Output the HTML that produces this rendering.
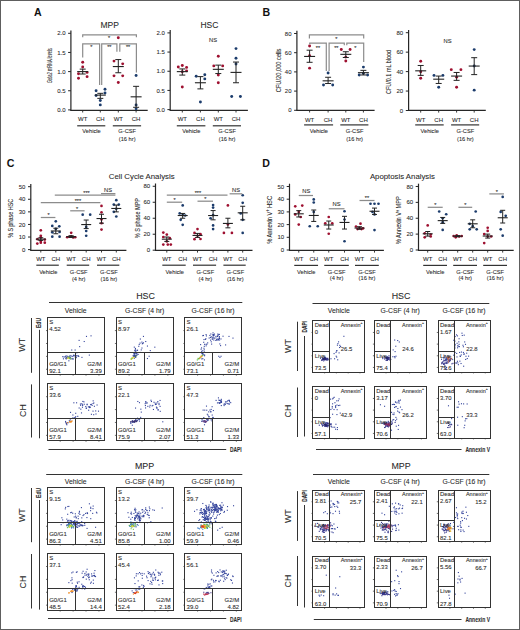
<!DOCTYPE html>
<html><head><meta charset="utf-8"><style>
html,body{margin:0;padding:0;background:#fff;}
body{width:520px;height:630px;overflow:hidden;}
svg{display:block;font-family:"Liberation Sans",sans-serif;}
text:not([fill]){fill:#2a2a2a;stroke:#2a2a2a;stroke-width:0.08px;}
</style></head><body>
<svg width="520" height="630" viewBox="0 0 520 630">
<rect x="0" y="0" width="520" height="630" fill="#fff"/>
<text x="34" y="15.5" font-size="10.6" text-anchor="start" font-weight="bold" fill="#111" >A</text>
<text x="109.7" y="27.9" font-size="8.5" text-anchor="middle" >MPP</text>
<text x="209.4" y="27.9" font-size="8.5" text-anchor="middle" >HSC</text>
<line x1="70.9" y1="30.5" x2="70.9" y2="110.8" stroke="#262626" stroke-width="1.2"/>
<line x1="70.4" y1="110.3" x2="147.7" y2="110.3" stroke="#262626" stroke-width="1.2"/>
<line x1="68.1" y1="109.9" x2="70.9" y2="109.9" stroke="#262626" stroke-width="1.0"/>
<text x="65.5" y="112" font-size="6" text-anchor="end" >0.0</text>
<line x1="68.1" y1="90.75" x2="70.9" y2="90.75" stroke="#262626" stroke-width="1.0"/>
<text x="65.5" y="92.85" font-size="6" text-anchor="end" >0.5</text>
<line x1="68.1" y1="71.6" x2="70.9" y2="71.6" stroke="#262626" stroke-width="1.0"/>
<text x="65.5" y="73.7" font-size="6" text-anchor="end" >1.0</text>
<line x1="68.1" y1="52.45" x2="70.9" y2="52.45" stroke="#262626" stroke-width="1.0"/>
<text x="65.5" y="54.55" font-size="6" text-anchor="end" >1.5</text>
<line x1="68.1" y1="33.3" x2="70.9" y2="33.3" stroke="#262626" stroke-width="1.0"/>
<text x="65.5" y="35.4" font-size="6" text-anchor="end" >2.0</text>
<line x1="82.7" y1="110.3" x2="82.7" y2="112.5" stroke="#262626" stroke-width="0.9"/>
<line x1="100.3" y1="110.3" x2="100.3" y2="112.5" stroke="#262626" stroke-width="0.9"/>
<line x1="118.3" y1="110.3" x2="118.3" y2="112.5" stroke="#262626" stroke-width="0.9"/>
<line x1="136.1" y1="110.3" x2="136.1" y2="112.5" stroke="#262626" stroke-width="0.9"/>
<circle cx="82.7" cy="62.29" r="1.45" fill="#9e1030"/>
<circle cx="82.7" cy="66.94" r="1.45" fill="#9e1030"/>
<circle cx="78.5" cy="73.73" r="1.45" fill="#9e1030"/>
<circle cx="87.1" cy="72.38" r="1.45" fill="#9e1030"/>
<circle cx="78.5" cy="78.2" r="1.45" fill="#9e1030"/>
<circle cx="87.1" cy="76.64" r="1.45" fill="#9e1030"/>
<line x1="77.2" y1="71.6" x2="88.2" y2="71.6" stroke="#222" stroke-width="1.1"/>
<line x1="82.7" y1="69.12" x2="82.7" y2="74.01" stroke="#222" stroke-width="1.0"/>
<line x1="79.7" y1="69.12" x2="85.7" y2="69.12" stroke="#222" stroke-width="1.0"/>
<line x1="79.7" y1="74.01" x2="85.7" y2="74.01" stroke="#222" stroke-width="1.0"/>
<circle cx="96.1" cy="90.69" r="1.45" fill="#1c3c6c"/>
<circle cx="105" cy="89.22" r="1.45" fill="#1c3c6c"/>
<circle cx="105" cy="93.02" r="1.45" fill="#1c3c6c"/>
<circle cx="96.1" cy="95.5" r="1.45" fill="#1c3c6c"/>
<circle cx="100.3" cy="100.51" r="1.45" fill="#1c3c6c"/>
<circle cx="100.3" cy="104.89" r="1.45" fill="#1c3c6c"/>
<line x1="94.8" y1="95.11" x2="105.8" y2="95.11" stroke="#222" stroke-width="1.1"/>
<line x1="100.3" y1="93.33" x2="100.3" y2="98.37" stroke="#222" stroke-width="1.0"/>
<line x1="97.3" y1="93.33" x2="103.3" y2="93.33" stroke="#222" stroke-width="1.0"/>
<line x1="97.3" y1="98.37" x2="103.3" y2="98.37" stroke="#222" stroke-width="1.0"/>
<circle cx="118.3" cy="37.69" r="1.45" fill="#9e1030"/>
<circle cx="114" cy="61.12" r="1.45" fill="#9e1030"/>
<circle cx="122.7" cy="63.84" r="1.45" fill="#9e1030"/>
<circle cx="114" cy="75.87" r="1.45" fill="#9e1030"/>
<circle cx="122.7" cy="75.87" r="1.45" fill="#9e1030"/>
<circle cx="118.3" cy="82.46" r="1.45" fill="#9e1030"/>
<line x1="112.8" y1="66.56" x2="123.8" y2="66.56" stroke="#222" stroke-width="1.1"/>
<line x1="118.3" y1="59.57" x2="118.3" y2="72.76" stroke="#222" stroke-width="1.0"/>
<line x1="115.3" y1="59.57" x2="121.3" y2="59.57" stroke="#222" stroke-width="1.0"/>
<line x1="115.3" y1="72.76" x2="121.3" y2="72.76" stroke="#222" stroke-width="1.0"/>
<circle cx="136.1" cy="75.48" r="1.45" fill="#1c3c6c"/>
<circle cx="136.1" cy="104.97" r="1.45" fill="#1c3c6c"/>
<circle cx="136.1" cy="108.85" r="1.45" fill="#1c3c6c"/>
<line x1="130.6" y1="96.82" x2="141.6" y2="96.82" stroke="#222" stroke-width="1.1"/>
<line x1="136.1" y1="86.34" x2="136.1" y2="107.3" stroke="#222" stroke-width="1.0"/>
<line x1="133.1" y1="86.34" x2="139.1" y2="86.34" stroke="#222" stroke-width="1.0"/>
<line x1="133.1" y1="107.3" x2="139.1" y2="107.3" stroke="#222" stroke-width="1.0"/>
<polyline points="82.7,37.3 82.7,34.8 136.4,34.8 136.4,37.3" fill="none" stroke="#8c8c8c" stroke-width="1.2"/>
<text x="109" y="40.4" font-size="5.5" text-anchor="middle" >*</text>
<polyline points="82.7,57.5 82.7,43.8 99.6,43.8 99.6,84.9" fill="none" stroke="#8c8c8c" stroke-width="1.2"/>
<text x="91.4" y="48.9" font-size="5.5" text-anchor="middle" >*</text>
<polyline points="101.7,84.9 101.7,43.8 116.9,43.8 116.9,51.7" fill="none" stroke="#8c8c8c" stroke-width="1.2"/>
<text x="109.3" y="48.9" font-size="5.5" text-anchor="middle" >**</text>
<polyline points="119.8,51.7 119.8,43.8 136.4,43.8 136.4,72.6" fill="none" stroke="#8c8c8c" stroke-width="1.2"/>
<text x="128.1" y="48.9" font-size="5.5" text-anchor="middle" >**</text>
<text x="82.7" y="121" font-size="6" text-anchor="middle" >WT</text>
<text x="100.3" y="121" font-size="6" text-anchor="middle" >CH</text>
<text x="118.3" y="121" font-size="6" text-anchor="middle" >WT</text>
<text x="136.1" y="121" font-size="6" text-anchor="middle" >CH</text>
<line x1="77.2" y1="125.8" x2="105.3" y2="125.8" stroke="#333" stroke-width="1.2"/>
<text x="91.5" y="133.4" font-size="5.7" text-anchor="middle" >Vehicle</text>
<line x1="112.8" y1="125.8" x2="141.1" y2="125.8" stroke="#333" stroke-width="1.2"/>
<text x="127.2" y="133.4" font-size="5.7" text-anchor="middle" >G-CSF</text>
<text x="127.2" y="140.8" font-size="5.7" text-anchor="middle" >(16 hr)</text>
<text transform="translate(49.4,65.7) rotate(-90) scale(0.56,1)" x="0" y="2.59" font-size="7.2" text-anchor="middle"><tspan font-style='italic'>Gata2</tspan> mRNA levels</text>
<line x1="170.2" y1="30.1" x2="170.2" y2="110.8" stroke="#262626" stroke-width="1.2"/>
<line x1="169.7" y1="110.3" x2="247.9" y2="110.3" stroke="#262626" stroke-width="1.2"/>
<line x1="167.4" y1="109.6" x2="170.2" y2="109.6" stroke="#262626" stroke-width="1.0"/>
<text x="164.8" y="111.7" font-size="6" text-anchor="end" >0.0</text>
<line x1="167.4" y1="90.42" x2="170.2" y2="90.42" stroke="#262626" stroke-width="1.0"/>
<text x="164.8" y="92.52" font-size="6" text-anchor="end" >0.5</text>
<line x1="167.4" y1="71.25" x2="170.2" y2="71.25" stroke="#262626" stroke-width="1.0"/>
<text x="164.8" y="73.35" font-size="6" text-anchor="end" >1.0</text>
<line x1="167.4" y1="52.07" x2="170.2" y2="52.07" stroke="#262626" stroke-width="1.0"/>
<text x="164.8" y="54.17" font-size="6" text-anchor="end" >1.5</text>
<line x1="167.4" y1="32.9" x2="170.2" y2="32.9" stroke="#262626" stroke-width="1.0"/>
<text x="164.8" y="35" font-size="6" text-anchor="end" >2.0</text>
<line x1="182.3" y1="110.3" x2="182.3" y2="112.5" stroke="#262626" stroke-width="0.9"/>
<line x1="200.4" y1="110.3" x2="200.4" y2="112.5" stroke="#262626" stroke-width="0.9"/>
<line x1="218.3" y1="110.3" x2="218.3" y2="112.5" stroke="#262626" stroke-width="0.9"/>
<line x1="236" y1="110.3" x2="236" y2="112.5" stroke="#262626" stroke-width="0.9"/>
<circle cx="178.3" cy="67.03" r="1.45" fill="#9e1030"/>
<circle cx="182.3" cy="65.5" r="1.45" fill="#9e1030"/>
<circle cx="186.6" cy="67.41" r="1.45" fill="#9e1030"/>
<circle cx="186.6" cy="70.87" r="1.45" fill="#9e1030"/>
<circle cx="182.3" cy="71.63" r="1.45" fill="#9e1030"/>
<circle cx="182.3" cy="86.97" r="1.45" fill="#9e1030"/>
<line x1="176.8" y1="71.63" x2="187.8" y2="71.63" stroke="#222" stroke-width="1.1"/>
<line x1="182.3" y1="68.95" x2="182.3" y2="75.08" stroke="#222" stroke-width="1.0"/>
<line x1="179.3" y1="68.95" x2="185.3" y2="68.95" stroke="#222" stroke-width="1.0"/>
<line x1="179.3" y1="75.08" x2="185.3" y2="75.08" stroke="#222" stroke-width="1.0"/>
<circle cx="196.2" cy="76.24" r="1.45" fill="#1c3c6c"/>
<circle cx="204.8" cy="74.7" r="1.45" fill="#1c3c6c"/>
<circle cx="204.8" cy="78.92" r="1.45" fill="#1c3c6c"/>
<circle cx="200.4" cy="101.93" r="1.45" fill="#1c3c6c"/>
<line x1="194.9" y1="82.75" x2="205.9" y2="82.75" stroke="#222" stroke-width="1.1"/>
<line x1="200.4" y1="76.62" x2="200.4" y2="88.89" stroke="#222" stroke-width="1.0"/>
<line x1="197.4" y1="76.62" x2="203.4" y2="76.62" stroke="#222" stroke-width="1.0"/>
<line x1="197.4" y1="88.89" x2="203.4" y2="88.89" stroke="#222" stroke-width="1.0"/>
<circle cx="218.3" cy="56.29" r="1.45" fill="#9e1030"/>
<circle cx="213.8" cy="65.88" r="1.45" fill="#9e1030"/>
<circle cx="222.7" cy="65.88" r="1.45" fill="#9e1030"/>
<circle cx="218.3" cy="75.08" r="1.45" fill="#9e1030"/>
<circle cx="218.3" cy="82.75" r="1.45" fill="#9e1030"/>
<line x1="212.8" y1="69.33" x2="223.8" y2="69.33" stroke="#222" stroke-width="1.1"/>
<line x1="218.3" y1="65.11" x2="218.3" y2="73.55" stroke="#222" stroke-width="1.0"/>
<line x1="215.3" y1="65.11" x2="221.3" y2="65.11" stroke="#222" stroke-width="1.0"/>
<line x1="215.3" y1="73.55" x2="221.3" y2="73.55" stroke="#222" stroke-width="1.0"/>
<circle cx="236" cy="48.62" r="1.45" fill="#1c3c6c"/>
<circle cx="236" cy="58.21" r="1.45" fill="#1c3c6c"/>
<circle cx="236" cy="63.96" r="1.45" fill="#1c3c6c"/>
<circle cx="231.7" cy="96.56" r="1.45" fill="#1c3c6c"/>
<circle cx="240.4" cy="96.56" r="1.45" fill="#1c3c6c"/>
<line x1="230.5" y1="72.4" x2="241.5" y2="72.4" stroke="#222" stroke-width="1.1"/>
<line x1="236" y1="62.05" x2="236" y2="82.75" stroke="#222" stroke-width="1.0"/>
<line x1="233" y1="62.05" x2="239" y2="62.05" stroke="#222" stroke-width="1.0"/>
<line x1="233" y1="82.75" x2="239" y2="82.75" stroke="#222" stroke-width="1.0"/>
<text x="213" y="41.6" font-size="5.8" text-anchor="middle" >NS</text>
<text x="182.3" y="121" font-size="6" text-anchor="middle" >WT</text>
<text x="200.4" y="121" font-size="6" text-anchor="middle" >CH</text>
<text x="218.3" y="121" font-size="6" text-anchor="middle" >WT</text>
<text x="236" y="121" font-size="6" text-anchor="middle" >CH</text>
<line x1="176.8" y1="125.8" x2="205.4" y2="125.8" stroke="#333" stroke-width="1.2"/>
<text x="191.35" y="133.4" font-size="5.7" text-anchor="middle" >Vehicle</text>
<line x1="212.8" y1="125.8" x2="241" y2="125.8" stroke="#333" stroke-width="1.2"/>
<text x="227.15" y="133.4" font-size="5.7" text-anchor="middle" >G-CSF</text>
<text x="227.15" y="140.8" font-size="5.7" text-anchor="middle" >(16 hr)</text>
<text x="262.6" y="15.8" font-size="10.6" text-anchor="start" font-weight="bold" fill="#111" >B</text>
<line x1="296.9" y1="30.7" x2="296.9" y2="110.8" stroke="#262626" stroke-width="1.2"/>
<line x1="296.4" y1="110.3" x2="374.6" y2="110.3" stroke="#262626" stroke-width="1.2"/>
<line x1="294.1" y1="110.3" x2="296.9" y2="110.3" stroke="#262626" stroke-width="1.0"/>
<text x="291.5" y="112.4" font-size="6" text-anchor="end" >0</text>
<line x1="294.1" y1="91.1" x2="296.9" y2="91.1" stroke="#262626" stroke-width="1.0"/>
<text x="291.5" y="93.2" font-size="6" text-anchor="end" >20</text>
<line x1="294.1" y1="71.9" x2="296.9" y2="71.9" stroke="#262626" stroke-width="1.0"/>
<text x="291.5" y="74" font-size="6" text-anchor="end" >40</text>
<line x1="294.1" y1="52.7" x2="296.9" y2="52.7" stroke="#262626" stroke-width="1.0"/>
<text x="291.5" y="54.8" font-size="6" text-anchor="end" >60</text>
<line x1="294.1" y1="33.5" x2="296.9" y2="33.5" stroke="#262626" stroke-width="1.0"/>
<text x="291.5" y="35.6" font-size="6" text-anchor="end" >80</text>
<line x1="309.6" y1="110.3" x2="309.6" y2="112.5" stroke="#262626" stroke-width="0.9"/>
<line x1="328.1" y1="110.3" x2="328.1" y2="112.5" stroke="#262626" stroke-width="0.9"/>
<line x1="345.8" y1="110.3" x2="345.8" y2="112.5" stroke="#262626" stroke-width="0.9"/>
<line x1="363.4" y1="110.3" x2="363.4" y2="112.5" stroke="#262626" stroke-width="0.9"/>
<circle cx="309.6" cy="45.98" r="1.45" fill="#9e1030"/>
<circle cx="309.6" cy="55.68" r="1.45" fill="#9e1030"/>
<circle cx="309.6" cy="68.16" r="1.45" fill="#9e1030"/>
<line x1="304.1" y1="56.44" x2="315.1" y2="56.44" stroke="#222" stroke-width="1.1"/>
<line x1="309.6" y1="50.2" x2="309.6" y2="62.3" stroke="#222" stroke-width="1.0"/>
<line x1="306.6" y1="50.2" x2="312.6" y2="50.2" stroke="#222" stroke-width="1.0"/>
<line x1="306.6" y1="62.3" x2="312.6" y2="62.3" stroke="#222" stroke-width="1.0"/>
<circle cx="328.1" cy="72.96" r="1.45" fill="#1c3c6c"/>
<circle cx="323.5" cy="84.96" r="1.45" fill="#1c3c6c"/>
<circle cx="332.7" cy="84.96" r="1.45" fill="#1c3c6c"/>
<line x1="322.6" y1="80.83" x2="333.6" y2="80.83" stroke="#222" stroke-width="1.1"/>
<line x1="328.1" y1="77.28" x2="328.1" y2="83.52" stroke="#222" stroke-width="1.0"/>
<line x1="325.1" y1="77.28" x2="331.1" y2="77.28" stroke="#222" stroke-width="1.0"/>
<line x1="325.1" y1="83.52" x2="331.1" y2="83.52" stroke="#222" stroke-width="1.0"/>
<circle cx="341.3" cy="49.53" r="1.45" fill="#9e1030"/>
<circle cx="350.1" cy="49.53" r="1.45" fill="#9e1030"/>
<circle cx="345.8" cy="57.12" r="1.45" fill="#9e1030"/>
<circle cx="345.8" cy="60.96" r="1.45" fill="#9e1030"/>
<line x1="340.3" y1="54.33" x2="351.3" y2="54.33" stroke="#222" stroke-width="1.1"/>
<line x1="345.8" y1="51.74" x2="345.8" y2="57.5" stroke="#222" stroke-width="1.0"/>
<line x1="342.8" y1="51.74" x2="348.8" y2="51.74" stroke="#222" stroke-width="1.0"/>
<line x1="342.8" y1="57.5" x2="348.8" y2="57.5" stroke="#222" stroke-width="1.0"/>
<circle cx="363.4" cy="67.1" r="1.45" fill="#1c3c6c"/>
<circle cx="359.2" cy="74.97" r="1.45" fill="#1c3c6c"/>
<circle cx="367.6" cy="74.97" r="1.45" fill="#1c3c6c"/>
<circle cx="363.4" cy="73.44" r="1.45" fill="#1c3c6c"/>
<line x1="357.9" y1="72.67" x2="368.9" y2="72.67" stroke="#222" stroke-width="1.1"/>
<line x1="363.4" y1="70.36" x2="363.4" y2="74.97" stroke="#222" stroke-width="1.0"/>
<line x1="360.4" y1="70.36" x2="366.4" y2="70.36" stroke="#222" stroke-width="1.0"/>
<line x1="360.4" y1="74.97" x2="366.4" y2="74.97" stroke="#222" stroke-width="1.0"/>
<polyline points="309.4,38.4 309.4,34.9 363.7,34.9 363.7,38.4" fill="none" stroke="#8c8c8c" stroke-width="1.2"/>
<text x="336.3" y="41.1" font-size="5.5" text-anchor="middle" >*</text>
<polyline points="309.7,44.3 309.7,43.2 326.3,43.2 326.3,71" fill="none" stroke="#8c8c8c" stroke-width="1.2"/>
<text x="318" y="49.8" font-size="5.5" text-anchor="middle" >**</text>
<polyline points="329.1,71 329.1,43.2 344.3,43.2 344.3,45.3" fill="none" stroke="#8c8c8c" stroke-width="1.2"/>
<text x="336.3" y="49.8" font-size="5.5" text-anchor="middle" >**</text>
<polyline points="346.8,45.3 346.8,43.2 363.7,43.2 363.7,61.9" fill="none" stroke="#8c8c8c" stroke-width="1.2"/>
<text x="355.4" y="49.8" font-size="5.5" text-anchor="middle" >*</text>
<text x="309.6" y="121.5" font-size="6" text-anchor="middle" >WT</text>
<text x="328.1" y="121.5" font-size="6" text-anchor="middle" >CH</text>
<text x="345.8" y="121.5" font-size="6" text-anchor="middle" >WT</text>
<text x="363.4" y="121.5" font-size="6" text-anchor="middle" >CH</text>
<line x1="304.1" y1="124.9" x2="333.1" y2="124.9" stroke="#333" stroke-width="1.2"/>
<text x="318.85" y="133.4" font-size="5.7" text-anchor="middle" >Vehicle</text>
<line x1="340.3" y1="124.9" x2="368.4" y2="124.9" stroke="#333" stroke-width="1.2"/>
<text x="354.6" y="133.4" font-size="5.7" text-anchor="middle" >G-CSF</text>
<text x="354.6" y="141" font-size="5.7" text-anchor="middle" >(16 hr)</text>
<text transform="translate(277.9,70.4) rotate(-90) scale(0.76,1)" x="0" y="2.7" font-size="7.5" text-anchor="middle">CFU/20,000 cells</text>
<line x1="408.6" y1="29.9" x2="408.6" y2="110.9" stroke="#262626" stroke-width="1.2"/>
<line x1="408.1" y1="110.4" x2="485.8" y2="110.4" stroke="#262626" stroke-width="1.2"/>
<line x1="405.8" y1="110.5" x2="408.6" y2="110.5" stroke="#262626" stroke-width="1.0"/>
<text x="403.2" y="112.6" font-size="6" text-anchor="end" >0</text>
<line x1="405.8" y1="91.05" x2="408.6" y2="91.05" stroke="#262626" stroke-width="1.0"/>
<text x="403.2" y="93.15" font-size="6" text-anchor="end" >20</text>
<line x1="405.8" y1="71.6" x2="408.6" y2="71.6" stroke="#262626" stroke-width="1.0"/>
<text x="403.2" y="73.7" font-size="6" text-anchor="end" >40</text>
<line x1="405.8" y1="52.15" x2="408.6" y2="52.15" stroke="#262626" stroke-width="1.0"/>
<text x="403.2" y="54.25" font-size="6" text-anchor="end" >60</text>
<line x1="405.8" y1="32.7" x2="408.6" y2="32.7" stroke="#262626" stroke-width="1.0"/>
<text x="403.2" y="34.8" font-size="6" text-anchor="end" >80</text>
<line x1="420.7" y1="110.4" x2="420.7" y2="112.6" stroke="#262626" stroke-width="0.9"/>
<line x1="438.7" y1="110.4" x2="438.7" y2="112.6" stroke="#262626" stroke-width="0.9"/>
<line x1="456.6" y1="110.4" x2="456.6" y2="112.6" stroke="#262626" stroke-width="0.9"/>
<line x1="474.2" y1="110.4" x2="474.2" y2="112.6" stroke="#262626" stroke-width="0.9"/>
<circle cx="420.7" cy="61.29" r="1.45" fill="#9e1030"/>
<circle cx="420.7" cy="71.79" r="1.45" fill="#9e1030"/>
<circle cx="420.7" cy="78.21" r="1.45" fill="#9e1030"/>
<line x1="415.2" y1="70.82" x2="426.2" y2="70.82" stroke="#222" stroke-width="1.1"/>
<line x1="420.7" y1="65.47" x2="420.7" y2="75.39" stroke="#222" stroke-width="1.0"/>
<line x1="417.7" y1="65.47" x2="423.7" y2="65.47" stroke="#222" stroke-width="1.0"/>
<line x1="417.7" y1="75.39" x2="423.7" y2="75.39" stroke="#222" stroke-width="1.0"/>
<circle cx="434" cy="75.39" r="1.45" fill="#1c3c6c"/>
<circle cx="442.9" cy="75.39" r="1.45" fill="#1c3c6c"/>
<circle cx="438.7" cy="87.26" r="1.45" fill="#1c3c6c"/>
<line x1="433.2" y1="79.19" x2="444.2" y2="79.19" stroke="#222" stroke-width="1.1"/>
<line x1="438.7" y1="76.07" x2="438.7" y2="83.46" stroke="#222" stroke-width="1.0"/>
<line x1="435.7" y1="76.07" x2="441.7" y2="76.07" stroke="#222" stroke-width="1.0"/>
<line x1="435.7" y1="83.46" x2="441.7" y2="83.46" stroke="#222" stroke-width="1.0"/>
<circle cx="451.3" cy="69.66" r="1.45" fill="#9e1030"/>
<circle cx="460.9" cy="69.66" r="1.45" fill="#9e1030"/>
<circle cx="456.6" cy="77.14" r="1.45" fill="#9e1030"/>
<circle cx="456.6" cy="87.26" r="1.45" fill="#9e1030"/>
<line x1="451.1" y1="76.07" x2="462.1" y2="76.07" stroke="#222" stroke-width="1.1"/>
<line x1="456.6" y1="72.48" x2="456.6" y2="80.35" stroke="#222" stroke-width="1.0"/>
<line x1="453.6" y1="72.48" x2="459.6" y2="72.48" stroke="#222" stroke-width="1.0"/>
<line x1="453.6" y1="80.35" x2="459.6" y2="80.35" stroke="#222" stroke-width="1.0"/>
<circle cx="474.2" cy="49.62" r="1.45" fill="#1c3c6c"/>
<circle cx="474.2" cy="66.06" r="1.45" fill="#1c3c6c"/>
<circle cx="474.2" cy="90.17" r="1.45" fill="#1c3c6c"/>
<line x1="468.7" y1="66.06" x2="479.7" y2="66.06" stroke="#222" stroke-width="1.1"/>
<line x1="474.2" y1="57.69" x2="474.2" y2="74.61" stroke="#222" stroke-width="1.0"/>
<line x1="471.2" y1="57.69" x2="477.2" y2="57.69" stroke="#222" stroke-width="1.0"/>
<line x1="471.2" y1="74.61" x2="477.2" y2="74.61" stroke="#222" stroke-width="1.0"/>
<text x="447.5" y="43.3" font-size="5.8" text-anchor="middle" >NS</text>
<text x="420.7" y="121.5" font-size="6" text-anchor="middle" >WT</text>
<text x="438.7" y="121.5" font-size="6" text-anchor="middle" >CH</text>
<text x="456.6" y="121.5" font-size="6" text-anchor="middle" >WT</text>
<text x="474.2" y="121.5" font-size="6" text-anchor="middle" >CH</text>
<line x1="415.2" y1="124.9" x2="443.7" y2="124.9" stroke="#333" stroke-width="1.2"/>
<text x="429.7" y="133.4" font-size="5.7" text-anchor="middle" >Vehicle</text>
<line x1="451.1" y1="124.9" x2="479.2" y2="124.9" stroke="#333" stroke-width="1.2"/>
<text x="465.4" y="133.4" font-size="5.7" text-anchor="middle" >G-CSF</text>
<text x="465.4" y="141" font-size="5.7" text-anchor="middle" >(16 hr)</text>
<text transform="translate(388.3,71.9) rotate(-90) scale(0.73,1)" x="0" y="2.7" font-size="7.5" text-anchor="middle">CFU/0.1 mL blood</text>
<text x="6.8" y="167.2" font-size="10.6" text-anchor="start" font-weight="bold" fill="#111" >C</text>
<text x="141.7" y="178.6" font-size="7.8" text-anchor="middle" >Cell Cycle Analysis</text>
<line x1="30.8" y1="183.9" x2="30.8" y2="250.8" stroke="#262626" stroke-width="1.2"/>
<line x1="30.3" y1="250.3" x2="126.4" y2="250.3" stroke="#262626" stroke-width="1.2"/>
<line x1="28" y1="249.6" x2="30.8" y2="249.6" stroke="#262626" stroke-width="1.0"/>
<text x="25.4" y="251.7" font-size="6" text-anchor="end" >0</text>
<line x1="28" y1="237.02" x2="30.8" y2="237.02" stroke="#262626" stroke-width="1.0"/>
<text x="25.4" y="239.12" font-size="6" text-anchor="end" >10</text>
<line x1="28" y1="224.44" x2="30.8" y2="224.44" stroke="#262626" stroke-width="1.0"/>
<text x="25.4" y="226.54" font-size="6" text-anchor="end" >20</text>
<line x1="28" y1="211.86" x2="30.8" y2="211.86" stroke="#262626" stroke-width="1.0"/>
<text x="25.4" y="213.96" font-size="6" text-anchor="end" >30</text>
<line x1="28" y1="199.28" x2="30.8" y2="199.28" stroke="#262626" stroke-width="1.0"/>
<text x="25.4" y="201.38" font-size="6" text-anchor="end" >40</text>
<line x1="28" y1="186.7" x2="30.8" y2="186.7" stroke="#262626" stroke-width="1.0"/>
<text x="25.4" y="188.8" font-size="6" text-anchor="end" >50</text>
<line x1="40.8" y1="250.3" x2="40.8" y2="252.5" stroke="#262626" stroke-width="0.9"/>
<line x1="55.8" y1="250.3" x2="55.8" y2="252.5" stroke="#262626" stroke-width="0.9"/>
<line x1="71.2" y1="250.3" x2="71.2" y2="252.5" stroke="#262626" stroke-width="0.9"/>
<line x1="86.2" y1="250.3" x2="86.2" y2="252.5" stroke="#262626" stroke-width="0.9"/>
<line x1="101.5" y1="250.3" x2="101.5" y2="252.5" stroke="#262626" stroke-width="0.9"/>
<line x1="116.3" y1="250.3" x2="116.3" y2="252.5" stroke="#262626" stroke-width="0.9"/>
<circle cx="40.8" cy="230.35" r="1.35" fill="#9e1030"/>
<circle cx="40.8" cy="235.76" r="1.35" fill="#9e1030"/>
<circle cx="40.8" cy="237.4" r="1.35" fill="#9e1030"/>
<circle cx="37.5" cy="239.16" r="1.35" fill="#9e1030"/>
<circle cx="44.8" cy="239.54" r="1.35" fill="#9e1030"/>
<circle cx="40.8" cy="241.05" r="1.35" fill="#9e1030"/>
<circle cx="37.3" cy="243.56" r="1.35" fill="#9e1030"/>
<circle cx="40.8" cy="242.68" r="1.35" fill="#9e1030"/>
<circle cx="44.8" cy="242.68" r="1.35" fill="#9e1030"/>
<line x1="35.8" y1="239.16" x2="45.8" y2="239.16" stroke="#222" stroke-width="1.1"/>
<line x1="40.8" y1="237.77" x2="40.8" y2="240.42" stroke="#222" stroke-width="1.0"/>
<line x1="38.3" y1="237.77" x2="43.3" y2="237.77" stroke="#222" stroke-width="1.0"/>
<line x1="38.3" y1="240.42" x2="43.3" y2="240.42" stroke="#222" stroke-width="1.0"/>
<circle cx="55.8" cy="221.29" r="1.35" fill="#1c3c6c"/>
<circle cx="52.3" cy="225.95" r="1.35" fill="#1c3c6c"/>
<circle cx="59.3" cy="226.33" r="1.35" fill="#1c3c6c"/>
<circle cx="55.8" cy="228.97" r="1.35" fill="#1c3c6c"/>
<circle cx="52.3" cy="232.37" r="1.35" fill="#1c3c6c"/>
<circle cx="59.6" cy="231.99" r="1.35" fill="#1c3c6c"/>
<circle cx="52.3" cy="236.64" r="1.35" fill="#1c3c6c"/>
<circle cx="59.6" cy="236.64" r="1.35" fill="#1c3c6c"/>
<line x1="50.8" y1="230.98" x2="60.8" y2="230.98" stroke="#222" stroke-width="1.1"/>
<line x1="55.8" y1="228.21" x2="55.8" y2="233.75" stroke="#222" stroke-width="1.0"/>
<line x1="53.3" y1="228.21" x2="58.3" y2="228.21" stroke="#222" stroke-width="1.0"/>
<line x1="53.3" y1="233.75" x2="58.3" y2="233.75" stroke="#222" stroke-width="1.0"/>
<circle cx="71.2" cy="232.87" r="1.35" fill="#9e1030"/>
<circle cx="67.2" cy="237.27" r="1.35" fill="#9e1030"/>
<circle cx="71.2" cy="236.39" r="1.35" fill="#9e1030"/>
<circle cx="75.2" cy="237.27" r="1.35" fill="#9e1030"/>
<circle cx="69.2" cy="236.77" r="1.35" fill="#9e1030"/>
<circle cx="73.2" cy="237.52" r="1.35" fill="#9e1030"/>
<line x1="66.2" y1="236.64" x2="76.2" y2="236.64" stroke="#222" stroke-width="1.1"/>
<line x1="71.2" y1="235.76" x2="71.2" y2="237.52" stroke="#222" stroke-width="1.0"/>
<line x1="68.7" y1="235.76" x2="73.7" y2="235.76" stroke="#222" stroke-width="1.0"/>
<line x1="68.7" y1="237.52" x2="73.7" y2="237.52" stroke="#222" stroke-width="1.0"/>
<circle cx="82.7" cy="214.63" r="1.35" fill="#1c3c6c"/>
<circle cx="90.2" cy="214.63" r="1.35" fill="#1c3c6c"/>
<circle cx="86.2" cy="226.96" r="1.35" fill="#1c3c6c"/>
<circle cx="86.2" cy="230.98" r="1.35" fill="#1c3c6c"/>
<circle cx="86.2" cy="235.76" r="1.35" fill="#1c3c6c"/>
<line x1="81.2" y1="224.57" x2="91.2" y2="224.57" stroke="#222" stroke-width="1.1"/>
<line x1="86.2" y1="220.04" x2="86.2" y2="228.59" stroke="#222" stroke-width="1.0"/>
<line x1="83.7" y1="220.04" x2="88.7" y2="220.04" stroke="#222" stroke-width="1.0"/>
<line x1="83.7" y1="228.59" x2="88.7" y2="228.59" stroke="#222" stroke-width="1.0"/>
<circle cx="101.5" cy="205.95" r="1.35" fill="#9e1030"/>
<circle cx="101.5" cy="212.36" r="1.35" fill="#9e1030"/>
<circle cx="101.5" cy="219.41" r="1.35" fill="#9e1030"/>
<circle cx="101.5" cy="223.18" r="1.35" fill="#9e1030"/>
<circle cx="101.5" cy="229.6" r="1.35" fill="#9e1030"/>
<line x1="96.5" y1="218.53" x2="106.5" y2="218.53" stroke="#222" stroke-width="1.1"/>
<line x1="101.5" y1="214.25" x2="101.5" y2="223.18" stroke="#222" stroke-width="1.0"/>
<line x1="99" y1="214.25" x2="104" y2="214.25" stroke="#222" stroke-width="1.0"/>
<line x1="99" y1="223.18" x2="104" y2="223.18" stroke="#222" stroke-width="1.0"/>
<circle cx="116.3" cy="200.16" r="1.35" fill="#1c3c6c"/>
<circle cx="113.8" cy="204.56" r="1.35" fill="#1c3c6c"/>
<circle cx="118.8" cy="204.56" r="1.35" fill="#1c3c6c"/>
<circle cx="116.3" cy="208.84" r="1.35" fill="#1c3c6c"/>
<circle cx="113.8" cy="211.86" r="1.35" fill="#1c3c6c"/>
<circle cx="116.3" cy="216.51" r="1.35" fill="#1c3c6c"/>
<line x1="111.3" y1="208.46" x2="121.3" y2="208.46" stroke="#222" stroke-width="1.1"/>
<line x1="116.3" y1="205.07" x2="116.3" y2="211.86" stroke="#222" stroke-width="1.0"/>
<line x1="113.8" y1="205.07" x2="118.8" y2="205.07" stroke="#222" stroke-width="1.0"/>
<line x1="113.8" y1="211.86" x2="118.8" y2="211.86" stroke="#222" stroke-width="1.0"/>
<line x1="40.8" y1="217.5" x2="55.4" y2="217.5" stroke="#8c8c8c" stroke-width="1.25"/>
<text x="48.5" y="217.3" font-size="5.5" text-anchor="middle" >*</text>
<line x1="70.2" y1="210.8" x2="84.6" y2="210.8" stroke="#8c8c8c" stroke-width="1.25"/>
<text x="77" y="210.6" font-size="5.5" text-anchor="middle" >*</text>
<line x1="40.8" y1="202.7" x2="100.4" y2="202.7" stroke="#8c8c8c" stroke-width="1.25"/>
<text x="77.9" y="202.5" font-size="5.5" text-anchor="middle" >***</text>
<line x1="54.8" y1="195" x2="115.4" y2="195" stroke="#8c8c8c" stroke-width="1.25"/>
<text x="86.5" y="194.8" font-size="5.5" text-anchor="middle" >***</text>
<line x1="101" y1="193.6" x2="115.4" y2="193.6" stroke="#8c8c8c" stroke-width="1.25"/>
<text x="108" y="191.6" font-size="5.8" text-anchor="middle" >NS</text>
<text x="40.8" y="260.85" font-size="6" text-anchor="middle" >WT</text>
<text x="55.8" y="260.85" font-size="6" text-anchor="middle" >CH</text>
<text x="71.2" y="260.85" font-size="6" text-anchor="middle" >WT</text>
<text x="86.2" y="260.85" font-size="6" text-anchor="middle" >CH</text>
<text x="101.5" y="260.85" font-size="6" text-anchor="middle" >WT</text>
<text x="116.3" y="260.85" font-size="6" text-anchor="middle" >CH</text>
<line x1="36.3" y1="265.2" x2="58.8" y2="265.2" stroke="#333" stroke-width="1.2"/>
<text x="48.3" y="274" font-size="5.7" text-anchor="middle" >Vehicle</text>
<line x1="66.7" y1="265.2" x2="89.2" y2="265.2" stroke="#333" stroke-width="1.2"/>
<text x="78.7" y="274" font-size="5.7" text-anchor="middle" >G-CSF</text>
<text x="78.7" y="280.6" font-size="5.7" text-anchor="middle" >(4 hr)</text>
<line x1="97" y1="265.2" x2="119.3" y2="265.2" stroke="#333" stroke-width="1.2"/>
<text x="108.9" y="274" font-size="5.7" text-anchor="middle" >G-CSF</text>
<text x="108.9" y="280.6" font-size="5.7" text-anchor="middle" >(16 hr)</text>
<text transform="translate(10.4,218.3) rotate(-90) scale(0.74,1)" x="0" y="2.63" font-size="7.3" text-anchor="middle">% S phase HSC</text>
<line x1="155.5" y1="183.48" x2="155.5" y2="250.9" stroke="#262626" stroke-width="1.2"/>
<line x1="155" y1="250.4" x2="252.5" y2="250.4" stroke="#262626" stroke-width="1.2"/>
<line x1="152.7" y1="250.2" x2="155.5" y2="250.2" stroke="#262626" stroke-width="1.0"/>
<text x="150.1" y="252.3" font-size="6" text-anchor="end" >0</text>
<line x1="152.7" y1="234.22" x2="155.5" y2="234.22" stroke="#262626" stroke-width="1.0"/>
<text x="150.1" y="236.32" font-size="6" text-anchor="end" >20</text>
<line x1="152.7" y1="218.24" x2="155.5" y2="218.24" stroke="#262626" stroke-width="1.0"/>
<text x="150.1" y="220.34" font-size="6" text-anchor="end" >40</text>
<line x1="152.7" y1="202.26" x2="155.5" y2="202.26" stroke="#262626" stroke-width="1.0"/>
<text x="150.1" y="204.36" font-size="6" text-anchor="end" >60</text>
<line x1="152.7" y1="186.28" x2="155.5" y2="186.28" stroke="#262626" stroke-width="1.0"/>
<text x="150.1" y="188.38" font-size="6" text-anchor="end" >80</text>
<line x1="166.8" y1="250.4" x2="166.8" y2="252.6" stroke="#262626" stroke-width="0.9"/>
<line x1="182.7" y1="250.4" x2="182.7" y2="252.6" stroke="#262626" stroke-width="0.9"/>
<line x1="197.5" y1="250.4" x2="197.5" y2="252.6" stroke="#262626" stroke-width="0.9"/>
<line x1="213.1" y1="250.4" x2="213.1" y2="252.6" stroke="#262626" stroke-width="0.9"/>
<line x1="227.9" y1="250.4" x2="227.9" y2="252.6" stroke="#262626" stroke-width="0.9"/>
<line x1="242.7" y1="250.4" x2="242.7" y2="252.6" stroke="#262626" stroke-width="0.9"/>
<circle cx="163.3" cy="232.62" r="1.35" fill="#9e1030"/>
<circle cx="166.8" cy="234.62" r="1.35" fill="#9e1030"/>
<circle cx="163.3" cy="237.02" r="1.35" fill="#9e1030"/>
<circle cx="169.8" cy="238.21" r="1.35" fill="#9e1030"/>
<circle cx="166.8" cy="241.41" r="1.35" fill="#9e1030"/>
<circle cx="163.3" cy="244.61" r="1.35" fill="#9e1030"/>
<circle cx="167.8" cy="244.61" r="1.35" fill="#9e1030"/>
<circle cx="170.8" cy="244.61" r="1.35" fill="#9e1030"/>
<line x1="161.8" y1="239.17" x2="171.8" y2="239.17" stroke="#222" stroke-width="1.1"/>
<line x1="166.8" y1="237.02" x2="166.8" y2="241.41" stroke="#222" stroke-width="1.0"/>
<line x1="164.3" y1="237.02" x2="169.3" y2="237.02" stroke="#222" stroke-width="1.0"/>
<line x1="164.3" y1="241.41" x2="169.3" y2="241.41" stroke="#222" stroke-width="1.0"/>
<circle cx="182.7" cy="205.46" r="1.35" fill="#1c3c6c"/>
<circle cx="179.7" cy="213.45" r="1.35" fill="#1c3c6c"/>
<circle cx="182.7" cy="215.04" r="1.35" fill="#1c3c6c"/>
<circle cx="185.2" cy="215.52" r="1.35" fill="#1c3c6c"/>
<circle cx="180.7" cy="219.84" r="1.35" fill="#1c3c6c"/>
<circle cx="182.7" cy="224.79" r="1.35" fill="#1c3c6c"/>
<line x1="177.7" y1="215.52" x2="187.7" y2="215.52" stroke="#222" stroke-width="1.1"/>
<line x1="182.7" y1="213.45" x2="182.7" y2="218.24" stroke="#222" stroke-width="1.0"/>
<line x1="180.2" y1="213.45" x2="185.2" y2="213.45" stroke="#222" stroke-width="1.0"/>
<line x1="180.2" y1="218.24" x2="185.2" y2="218.24" stroke="#222" stroke-width="1.0"/>
<circle cx="197.5" cy="229.03" r="1.35" fill="#9e1030"/>
<circle cx="194.5" cy="232.94" r="1.35" fill="#9e1030"/>
<circle cx="200.5" cy="234.22" r="1.35" fill="#9e1030"/>
<circle cx="194.5" cy="239.17" r="1.35" fill="#9e1030"/>
<circle cx="200.5" cy="239.01" r="1.35" fill="#9e1030"/>
<circle cx="197.5" cy="235.82" r="1.35" fill="#9e1030"/>
<line x1="192.5" y1="235.42" x2="202.5" y2="235.42" stroke="#222" stroke-width="1.1"/>
<line x1="197.5" y1="233.42" x2="197.5" y2="237.42" stroke="#222" stroke-width="1.0"/>
<line x1="195" y1="233.42" x2="200" y2="233.42" stroke="#222" stroke-width="1.0"/>
<line x1="195" y1="237.42" x2="200" y2="237.42" stroke="#222" stroke-width="1.0"/>
<circle cx="213.1" cy="204.98" r="1.35" fill="#1c3c6c"/>
<circle cx="213.1" cy="207.53" r="1.35" fill="#1c3c6c"/>
<circle cx="213.1" cy="215.04" r="1.35" fill="#1c3c6c"/>
<circle cx="210.6" cy="218.24" r="1.35" fill="#1c3c6c"/>
<circle cx="213.1" cy="225.43" r="1.35" fill="#1c3c6c"/>
<circle cx="213.1" cy="229.03" r="1.35" fill="#1c3c6c"/>
<line x1="208.1" y1="215.52" x2="218.1" y2="215.52" stroke="#222" stroke-width="1.1"/>
<line x1="213.1" y1="210.57" x2="213.1" y2="219.84" stroke="#222" stroke-width="1.0"/>
<line x1="210.6" y1="210.57" x2="215.6" y2="210.57" stroke="#222" stroke-width="1.0"/>
<line x1="210.6" y1="219.84" x2="215.6" y2="219.84" stroke="#222" stroke-width="1.0"/>
<circle cx="227.9" cy="205.46" r="1.35" fill="#9e1030"/>
<circle cx="227.9" cy="224.39" r="1.35" fill="#9e1030"/>
<circle cx="223.9" cy="232.94" r="1.35" fill="#9e1030"/>
<circle cx="231.9" cy="232.94" r="1.35" fill="#9e1030"/>
<line x1="222.9" y1="223.43" x2="232.9" y2="223.43" stroke="#222" stroke-width="1.1"/>
<line x1="227.9" y1="218.24" x2="227.9" y2="227.83" stroke="#222" stroke-width="1.0"/>
<line x1="225.4" y1="218.24" x2="230.4" y2="218.24" stroke="#222" stroke-width="1.0"/>
<line x1="225.4" y1="227.83" x2="230.4" y2="227.83" stroke="#222" stroke-width="1.0"/>
<circle cx="242.7" cy="195.23" r="1.35" fill="#1c3c6c"/>
<circle cx="242.7" cy="202.82" r="1.35" fill="#1c3c6c"/>
<circle cx="240.7" cy="213.45" r="1.35" fill="#1c3c6c"/>
<circle cx="242.7" cy="219.84" r="1.35" fill="#1c3c6c"/>
<circle cx="242.7" cy="232.94" r="1.35" fill="#1c3c6c"/>
<line x1="237.7" y1="212.81" x2="247.7" y2="212.81" stroke="#222" stroke-width="1.1"/>
<line x1="242.7" y1="206.25" x2="242.7" y2="219.84" stroke="#222" stroke-width="1.0"/>
<line x1="240.2" y1="206.25" x2="245.2" y2="206.25" stroke="#222" stroke-width="1.0"/>
<line x1="240.2" y1="219.84" x2="245.2" y2="219.84" stroke="#222" stroke-width="1.0"/>
<line x1="166.8" y1="202.2" x2="182.2" y2="202.2" stroke="#8c8c8c" stroke-width="1.25"/>
<text x="174.6" y="202" font-size="5.5" text-anchor="middle" >*</text>
<line x1="197.5" y1="201.2" x2="213" y2="201.2" stroke="#8c8c8c" stroke-width="1.25"/>
<text x="205.3" y="201" font-size="5.5" text-anchor="middle" >*</text>
<line x1="166.8" y1="195.2" x2="227.5" y2="195.2" stroke="#8c8c8c" stroke-width="1.25"/>
<text x="197.9" y="195" font-size="5.5" text-anchor="middle" >***</text>
<line x1="229.6" y1="193.8" x2="242.3" y2="193.8" stroke="#8c8c8c" stroke-width="1.25"/>
<text x="236" y="192.2" font-size="5.8" text-anchor="middle" >NS</text>
<text x="166.8" y="260.85" font-size="6" text-anchor="middle" >WT</text>
<text x="182.7" y="260.85" font-size="6" text-anchor="middle" >CH</text>
<text x="197.5" y="260.85" font-size="6" text-anchor="middle" >WT</text>
<text x="213.1" y="260.85" font-size="6" text-anchor="middle" >CH</text>
<text x="227.9" y="260.85" font-size="6" text-anchor="middle" >WT</text>
<text x="242.7" y="260.85" font-size="6" text-anchor="middle" >CH</text>
<line x1="162.3" y1="265.2" x2="185.7" y2="265.2" stroke="#333" stroke-width="1.2"/>
<text x="174.75" y="274" font-size="5.7" text-anchor="middle" >Vehicle</text>
<line x1="193" y1="265.2" x2="216.1" y2="265.2" stroke="#333" stroke-width="1.2"/>
<text x="205.3" y="274" font-size="5.7" text-anchor="middle" >G-CSF</text>
<text x="205.3" y="280.6" font-size="5.7" text-anchor="middle" >(4 hr)</text>
<line x1="223.4" y1="265.2" x2="245.7" y2="265.2" stroke="#333" stroke-width="1.2"/>
<text x="235.3" y="274" font-size="5.7" text-anchor="middle" >G-CSF</text>
<text x="235.3" y="280.6" font-size="5.7" text-anchor="middle" >(16 hr)</text>
<text transform="translate(137,218.1) rotate(-90) scale(0.76,1)" x="0" y="2.63" font-size="7.3" text-anchor="middle">% S phase MPP</text>
<text x="262.3" y="167.2" font-size="10.6" text-anchor="start" font-weight="bold" fill="#111" >D</text>
<text x="402.4" y="178.6" font-size="7.8" text-anchor="middle" >Apoptosis Analysis</text>
<line x1="289.5" y1="183.7" x2="289.5" y2="250.9" stroke="#262626" stroke-width="1.2"/>
<line x1="289" y1="250.4" x2="383.9" y2="250.4" stroke="#262626" stroke-width="1.2"/>
<line x1="286.7" y1="250" x2="289.5" y2="250" stroke="#262626" stroke-width="1.0"/>
<text x="284.1" y="252.1" font-size="6" text-anchor="end" >0</text>
<line x1="286.7" y1="237.3" x2="289.5" y2="237.3" stroke="#262626" stroke-width="1.0"/>
<text x="284.1" y="239.4" font-size="6" text-anchor="end" >10</text>
<line x1="286.7" y1="224.6" x2="289.5" y2="224.6" stroke="#262626" stroke-width="1.0"/>
<text x="284.1" y="226.7" font-size="6" text-anchor="end" >20</text>
<line x1="286.7" y1="211.9" x2="289.5" y2="211.9" stroke="#262626" stroke-width="1.0"/>
<text x="284.1" y="214" font-size="6" text-anchor="end" >30</text>
<line x1="286.7" y1="199.2" x2="289.5" y2="199.2" stroke="#262626" stroke-width="1.0"/>
<text x="284.1" y="201.3" font-size="6" text-anchor="end" >40</text>
<line x1="286.7" y1="186.5" x2="289.5" y2="186.5" stroke="#262626" stroke-width="1.0"/>
<text x="284.1" y="188.6" font-size="6" text-anchor="end" >50</text>
<line x1="298.75" y1="250.4" x2="298.75" y2="252.6" stroke="#262626" stroke-width="0.9"/>
<line x1="313.75" y1="250.4" x2="313.75" y2="252.6" stroke="#262626" stroke-width="0.9"/>
<line x1="328.75" y1="250.4" x2="328.75" y2="252.6" stroke="#262626" stroke-width="0.9"/>
<line x1="344.5" y1="250.4" x2="344.5" y2="252.6" stroke="#262626" stroke-width="0.9"/>
<line x1="359.5" y1="250.4" x2="359.5" y2="252.6" stroke="#262626" stroke-width="0.9"/>
<line x1="374.5" y1="250.4" x2="374.5" y2="252.6" stroke="#262626" stroke-width="0.9"/>
<circle cx="295.25" cy="206.31" r="1.35" fill="#9e1030"/>
<circle cx="302.25" cy="205.55" r="1.35" fill="#9e1030"/>
<circle cx="298.75" cy="211.9" r="1.35" fill="#9e1030"/>
<circle cx="295.25" cy="214.44" r="1.35" fill="#9e1030"/>
<circle cx="300.75" cy="216.98" r="1.35" fill="#9e1030"/>
<circle cx="298.75" cy="224.6" r="1.35" fill="#9e1030"/>
<line x1="293.75" y1="213.81" x2="303.75" y2="213.81" stroke="#222" stroke-width="1.1"/>
<line x1="298.75" y1="210.63" x2="298.75" y2="216.98" stroke="#222" stroke-width="1.0"/>
<line x1="296.25" y1="210.63" x2="301.25" y2="210.63" stroke="#222" stroke-width="1.0"/>
<line x1="296.25" y1="216.98" x2="301.25" y2="216.98" stroke="#222" stroke-width="1.0"/>
<circle cx="313.75" cy="199.45" r="1.35" fill="#1c3c6c"/>
<circle cx="313.75" cy="202.5" r="1.35" fill="#1c3c6c"/>
<circle cx="313.75" cy="211.9" r="1.35" fill="#1c3c6c"/>
<circle cx="309.75" cy="226.25" r="1.35" fill="#1c3c6c"/>
<circle cx="317.75" cy="226.25" r="1.35" fill="#1c3c6c"/>
<line x1="308.75" y1="215.46" x2="318.75" y2="215.46" stroke="#222" stroke-width="1.1"/>
<line x1="313.75" y1="210" x2="313.75" y2="221.43" stroke="#222" stroke-width="1.0"/>
<line x1="311.25" y1="210" x2="316.25" y2="210" stroke="#222" stroke-width="1.0"/>
<line x1="311.25" y1="221.43" x2="316.25" y2="221.43" stroke="#222" stroke-width="1.0"/>
<circle cx="328.75" cy="216.98" r="1.35" fill="#9e1030"/>
<circle cx="325.25" cy="223.33" r="1.35" fill="#9e1030"/>
<circle cx="332.25" cy="223.33" r="1.35" fill="#9e1030"/>
<circle cx="328.75" cy="233.74" r="1.35" fill="#9e1030"/>
<line x1="323.75" y1="224.98" x2="333.75" y2="224.98" stroke="#222" stroke-width="1.1"/>
<line x1="328.75" y1="221.04" x2="328.75" y2="229.04" stroke="#222" stroke-width="1.0"/>
<line x1="326.25" y1="221.04" x2="331.25" y2="221.04" stroke="#222" stroke-width="1.0"/>
<line x1="326.25" y1="229.04" x2="331.25" y2="229.04" stroke="#222" stroke-width="1.0"/>
<circle cx="344.5" cy="211.26" r="1.35" fill="#1c3c6c"/>
<circle cx="344.5" cy="219.52" r="1.35" fill="#1c3c6c"/>
<circle cx="344.5" cy="241.24" r="1.35" fill="#1c3c6c"/>
<line x1="339.5" y1="222.44" x2="349.5" y2="222.44" stroke="#222" stroke-width="1.1"/>
<line x1="344.5" y1="216.34" x2="344.5" y2="229.04" stroke="#222" stroke-width="1.0"/>
<line x1="342" y1="216.34" x2="347" y2="216.34" stroke="#222" stroke-width="1.0"/>
<line x1="342" y1="229.04" x2="347" y2="229.04" stroke="#222" stroke-width="1.0"/>
<circle cx="360.5" cy="223.71" r="1.35" fill="#9e1030"/>
<circle cx="356" cy="226.5" r="1.35" fill="#9e1030"/>
<circle cx="359.5" cy="227.78" r="1.35" fill="#9e1030"/>
<circle cx="363" cy="228.41" r="1.35" fill="#9e1030"/>
<circle cx="357.5" cy="229.04" r="1.35" fill="#9e1030"/>
<circle cx="361.5" cy="229.04" r="1.35" fill="#9e1030"/>
<line x1="354.5" y1="228.03" x2="364.5" y2="228.03" stroke="#222" stroke-width="1.1"/>
<line x1="359.5" y1="226.76" x2="359.5" y2="229.3" stroke="#222" stroke-width="1.0"/>
<line x1="357" y1="226.76" x2="362" y2="226.76" stroke="#222" stroke-width="1.0"/>
<line x1="357" y1="229.3" x2="362" y2="229.3" stroke="#222" stroke-width="1.0"/>
<circle cx="370.5" cy="203.77" r="1.35" fill="#1c3c6c"/>
<circle cx="374.5" cy="203.77" r="1.35" fill="#1c3c6c"/>
<circle cx="378.5" cy="203.77" r="1.35" fill="#1c3c6c"/>
<circle cx="372.5" cy="211.9" r="1.35" fill="#1c3c6c"/>
<circle cx="374.5" cy="214.44" r="1.35" fill="#1c3c6c"/>
<circle cx="374.5" cy="230.06" r="1.35" fill="#1c3c6c"/>
<line x1="369.5" y1="211.26" x2="379.5" y2="211.26" stroke="#222" stroke-width="1.1"/>
<line x1="374.5" y1="208.09" x2="374.5" y2="214.44" stroke="#222" stroke-width="1.0"/>
<line x1="372" y1="208.09" x2="377" y2="208.09" stroke="#222" stroke-width="1.0"/>
<line x1="372" y1="214.44" x2="377" y2="214.44" stroke="#222" stroke-width="1.0"/>
<line x1="298.75" y1="195.5" x2="313" y2="195.5" stroke="#8c8c8c" stroke-width="1.25"/>
<text x="306.25" y="193.3" font-size="5.8" text-anchor="middle" >NS</text>
<line x1="328.75" y1="208.75" x2="344.5" y2="208.75" stroke="#8c8c8c" stroke-width="1.25"/>
<text x="336.5" y="206" font-size="5.8" text-anchor="middle" >NS</text>
<line x1="359.5" y1="200.5" x2="374.5" y2="200.5" stroke="#8c8c8c" stroke-width="1.25"/>
<text x="367" y="200.3" font-size="5.5" text-anchor="middle" >**</text>
<text x="298.75" y="261" font-size="6" text-anchor="middle" >WT</text>
<text x="313.75" y="261" font-size="6" text-anchor="middle" >CH</text>
<text x="328.75" y="261" font-size="6" text-anchor="middle" >WT</text>
<text x="344.5" y="261" font-size="6" text-anchor="middle" >CH</text>
<text x="359.5" y="261" font-size="6" text-anchor="middle" >WT</text>
<text x="374.5" y="261" font-size="6" text-anchor="middle" >CH</text>
<line x1="294.25" y1="265.4" x2="318.05" y2="265.4" stroke="#333" stroke-width="1.2"/>
<text x="306.25" y="273.8" font-size="5.7" text-anchor="middle" >Vehicle</text>
<line x1="324.25" y1="265.4" x2="348.8" y2="265.4" stroke="#333" stroke-width="1.2"/>
<text x="336.62" y="273.8" font-size="5.7" text-anchor="middle" >G-CSF</text>
<text x="336.62" y="280.2" font-size="5.7" text-anchor="middle" >(4 hr)</text>
<line x1="355" y1="265.4" x2="378.8" y2="265.4" stroke="#333" stroke-width="1.2"/>
<text x="367" y="273.8" font-size="5.7" text-anchor="middle" >G-CSF</text>
<text x="367" y="280.2" font-size="5.7" text-anchor="middle" >(16 hr)</text>
<text transform="translate(268.9,219.9) rotate(-90) scale(0.78,1)" x="0" y="2.63" font-size="7.3" text-anchor="middle">% Annexin V<tspan font-size='4.5' dy='-2.5'>+</tspan><tspan dy='2.5'> HSC</tspan></text>
<line x1="418.5" y1="183.68" x2="418.5" y2="250.9" stroke="#262626" stroke-width="1.2"/>
<line x1="418" y1="250.4" x2="513.7" y2="250.4" stroke="#262626" stroke-width="1.2"/>
<line x1="415.7" y1="250" x2="418.5" y2="250" stroke="#262626" stroke-width="1.0"/>
<text x="413.1" y="252.1" font-size="6" text-anchor="end" >0</text>
<line x1="415.7" y1="234.12" x2="418.5" y2="234.12" stroke="#262626" stroke-width="1.0"/>
<text x="413.1" y="236.22" font-size="6" text-anchor="end" >20</text>
<line x1="415.7" y1="218.24" x2="418.5" y2="218.24" stroke="#262626" stroke-width="1.0"/>
<text x="413.1" y="220.34" font-size="6" text-anchor="end" >40</text>
<line x1="415.7" y1="202.36" x2="418.5" y2="202.36" stroke="#262626" stroke-width="1.0"/>
<text x="413.1" y="204.46" font-size="6" text-anchor="end" >60</text>
<line x1="415.7" y1="186.48" x2="418.5" y2="186.48" stroke="#262626" stroke-width="1.0"/>
<text x="413.1" y="188.58" font-size="6" text-anchor="end" >80</text>
<line x1="427.7" y1="250.4" x2="427.7" y2="252.6" stroke="#262626" stroke-width="0.9"/>
<line x1="442.7" y1="250.4" x2="442.7" y2="252.6" stroke="#262626" stroke-width="0.9"/>
<line x1="457.7" y1="250.4" x2="457.7" y2="252.6" stroke="#262626" stroke-width="0.9"/>
<line x1="472.7" y1="250.4" x2="472.7" y2="252.6" stroke="#262626" stroke-width="0.9"/>
<line x1="487.7" y1="250.4" x2="487.7" y2="252.6" stroke="#262626" stroke-width="0.9"/>
<line x1="502.7" y1="250.4" x2="502.7" y2="252.6" stroke="#262626" stroke-width="0.9"/>
<circle cx="427.7" cy="225.39" r="1.35" fill="#9e1030"/>
<circle cx="424.7" cy="233.33" r="1.35" fill="#9e1030"/>
<circle cx="430.7" cy="234.52" r="1.35" fill="#9e1030"/>
<circle cx="424.7" cy="237.3" r="1.35" fill="#9e1030"/>
<circle cx="430.7" cy="236.5" r="1.35" fill="#9e1030"/>
<line x1="422.7" y1="233.8" x2="432.7" y2="233.8" stroke="#222" stroke-width="1.1"/>
<line x1="427.7" y1="231.5" x2="427.7" y2="236.1" stroke="#222" stroke-width="1.0"/>
<line x1="425.2" y1="231.5" x2="430.2" y2="231.5" stroke="#222" stroke-width="1.0"/>
<line x1="425.2" y1="236.1" x2="430.2" y2="236.1" stroke="#222" stroke-width="1.0"/>
<circle cx="439.2" cy="211.49" r="1.35" fill="#1c3c6c"/>
<circle cx="446.2" cy="214.27" r="1.35" fill="#1c3c6c"/>
<circle cx="442.7" cy="218.24" r="1.35" fill="#1c3c6c"/>
<circle cx="442.7" cy="222.21" r="1.35" fill="#1c3c6c"/>
<circle cx="442.7" cy="229.91" r="1.35" fill="#1c3c6c"/>
<line x1="437.7" y1="220.62" x2="447.7" y2="220.62" stroke="#222" stroke-width="1.1"/>
<line x1="442.7" y1="217.45" x2="442.7" y2="223.4" stroke="#222" stroke-width="1.0"/>
<line x1="440.2" y1="217.45" x2="445.2" y2="217.45" stroke="#222" stroke-width="1.0"/>
<line x1="440.2" y1="223.4" x2="445.2" y2="223.4" stroke="#222" stroke-width="1.0"/>
<circle cx="453.7" cy="236.1" r="1.35" fill="#9e1030"/>
<circle cx="456.7" cy="235.31" r="1.35" fill="#9e1030"/>
<circle cx="459.2" cy="236.5" r="1.35" fill="#9e1030"/>
<circle cx="461.7" cy="236.1" r="1.35" fill="#9e1030"/>
<circle cx="455.7" cy="237.3" r="1.35" fill="#9e1030"/>
<line x1="452.7" y1="236.18" x2="462.7" y2="236.18" stroke="#222" stroke-width="1.1"/>
<line x1="457.7" y1="235.71" x2="457.7" y2="236.74" stroke="#222" stroke-width="1.0"/>
<line x1="455.2" y1="235.71" x2="460.2" y2="235.71" stroke="#222" stroke-width="1.0"/>
<line x1="455.2" y1="236.74" x2="460.2" y2="236.74" stroke="#222" stroke-width="1.0"/>
<circle cx="475.7" cy="211.49" r="1.35" fill="#1c3c6c"/>
<circle cx="469.7" cy="223.8" r="1.35" fill="#1c3c6c"/>
<circle cx="472.7" cy="226.18" r="1.35" fill="#1c3c6c"/>
<circle cx="469.7" cy="229.36" r="1.35" fill="#1c3c6c"/>
<circle cx="476.7" cy="229.36" r="1.35" fill="#1c3c6c"/>
<line x1="467.7" y1="223.8" x2="477.7" y2="223.8" stroke="#222" stroke-width="1.1"/>
<line x1="472.7" y1="219.83" x2="472.7" y2="227.77" stroke="#222" stroke-width="1.0"/>
<line x1="470.2" y1="219.83" x2="475.2" y2="219.83" stroke="#222" stroke-width="1.0"/>
<line x1="470.2" y1="227.77" x2="475.2" y2="227.77" stroke="#222" stroke-width="1.0"/>
<circle cx="487.7" cy="227.77" r="1.35" fill="#9e1030"/>
<circle cx="487.7" cy="230.94" r="1.35" fill="#9e1030"/>
<circle cx="484.2" cy="234.12" r="1.35" fill="#9e1030"/>
<circle cx="487.7" cy="236.5" r="1.35" fill="#9e1030"/>
<circle cx="491.2" cy="236.5" r="1.35" fill="#9e1030"/>
<circle cx="484.2" cy="243.09" r="1.35" fill="#9e1030"/>
<line x1="482.7" y1="236.03" x2="492.7" y2="236.03" stroke="#222" stroke-width="1.1"/>
<line x1="487.7" y1="234.12" x2="487.7" y2="238.09" stroke="#222" stroke-width="1.0"/>
<line x1="485.2" y1="234.12" x2="490.2" y2="234.12" stroke="#222" stroke-width="1.0"/>
<line x1="485.2" y1="238.09" x2="490.2" y2="238.09" stroke="#222" stroke-width="1.0"/>
<circle cx="502.7" cy="196.96" r="1.35" fill="#1c3c6c"/>
<circle cx="500.7" cy="211.89" r="1.35" fill="#1c3c6c"/>
<circle cx="505.7" cy="215.86" r="1.35" fill="#1c3c6c"/>
<circle cx="500.7" cy="229.36" r="1.35" fill="#1c3c6c"/>
<circle cx="502.7" cy="235.71" r="1.35" fill="#1c3c6c"/>
<line x1="497.7" y1="217.76" x2="507.7" y2="217.76" stroke="#222" stroke-width="1.1"/>
<line x1="502.7" y1="210.3" x2="502.7" y2="223" stroke="#222" stroke-width="1.0"/>
<line x1="500.2" y1="210.3" x2="505.2" y2="210.3" stroke="#222" stroke-width="1.0"/>
<line x1="500.2" y1="223" x2="505.2" y2="223" stroke="#222" stroke-width="1.0"/>
<line x1="427.7" y1="207.3" x2="442.7" y2="207.3" stroke="#8c8c8c" stroke-width="1.25"/>
<text x="435.3" y="207.1" font-size="5.5" text-anchor="middle" >*</text>
<line x1="458.4" y1="207.3" x2="472.2" y2="207.3" stroke="#8c8c8c" stroke-width="1.25"/>
<text x="465.3" y="207.1" font-size="5.5" text-anchor="middle" >*</text>
<line x1="489.3" y1="193.9" x2="503.9" y2="193.9" stroke="#8c8c8c" stroke-width="1.25"/>
<text x="496.9" y="193.7" font-size="5.5" text-anchor="middle" >*</text>
<text x="427.7" y="261" font-size="6" text-anchor="middle" >WT</text>
<text x="442.7" y="261" font-size="6" text-anchor="middle" >CH</text>
<text x="457.7" y="261" font-size="6" text-anchor="middle" >WT</text>
<text x="472.7" y="261" font-size="6" text-anchor="middle" >CH</text>
<text x="487.7" y="261" font-size="6" text-anchor="middle" >WT</text>
<text x="502.7" y="261" font-size="6" text-anchor="middle" >CH</text>
<line x1="423.2" y1="265.4" x2="447" y2="265.4" stroke="#333" stroke-width="1.2"/>
<text x="435.2" y="273.8" font-size="5.7" text-anchor="middle" >Vehicle</text>
<line x1="453.2" y1="265.4" x2="477" y2="265.4" stroke="#333" stroke-width="1.2"/>
<text x="465.2" y="273.8" font-size="5.7" text-anchor="middle" >G-CSF</text>
<text x="465.2" y="280.2" font-size="5.7" text-anchor="middle" >(4 hr)</text>
<line x1="483.2" y1="265.4" x2="507" y2="265.4" stroke="#333" stroke-width="1.2"/>
<text x="495.2" y="273.8" font-size="5.7" text-anchor="middle" >G-CSF</text>
<text x="495.2" y="280.2" font-size="5.7" text-anchor="middle" >(16 hr)</text>
<text transform="translate(398.4,220.2) rotate(-90) scale(0.78,1)" x="0" y="2.63" font-size="7.3" text-anchor="middle">% Annexin V<tspan font-size='4.5' dy='-2.5'>+</tspan><tspan dy='2.5'> MPP</tspan></text>
<text x="145.5" y="298.7" font-size="8.9" text-anchor="middle" >HSC</text>
<line x1="49" y1="302.5" x2="242.3" y2="302.5" stroke="#333" stroke-width="1.1"/>
<text x="75.7" y="313.2" font-size="6.8" text-anchor="middle" >Vehicle</text>
<text x="144.6" y="313.2" font-size="6.8" text-anchor="middle" >G-CSF (4 hr)</text>
<text x="213.1" y="313.2" font-size="6.8" text-anchor="middle" >G-CSF (16 hr)</text>
<text x="144.5" y="469.2" font-size="8.9" text-anchor="middle" >MPP</text>
<line x1="46.2" y1="474.5" x2="242.3" y2="474.5" stroke="#333" stroke-width="1.1"/>
<text x="75.7" y="483.8" font-size="6.8" text-anchor="middle" >Vehicle</text>
<text x="144.6" y="483.8" font-size="6.8" text-anchor="middle" >G-CSF (4 hr)</text>
<text x="213.1" y="483.8" font-size="6.8" text-anchor="middle" >G-CSF (16 hr)</text>
<rect x="64.57" y="356.38" width="1.1" height="1.1" fill="#34449c"/><rect x="75.22" y="357.37" width="1.1" height="1.1" fill="#34449c"/><rect x="74.56" y="356.29" width="1.1" height="1.1" fill="#34449c"/><rect x="75.72" y="356.69" width="1.1" height="1.1" fill="#34449c"/><rect x="63.45" y="356.38" width="1.1" height="1.1" fill="#34449c"/><rect x="62.9" y="358.27" width="1.1" height="1.1" fill="#34449c"/><rect x="78.22" y="355.9" width="1.1" height="1.1" fill="#34449c"/><rect x="67.36" y="357.62" width="1.1" height="1.1" fill="#34449c"/><rect x="65.56" y="355.28" width="1.1" height="1.1" fill="#34449c"/><rect x="65.3" y="355.95" width="1.1" height="1.1" fill="#34449c"/><rect x="72.76" y="358.4" width="1.1" height="1.1" fill="#34449c"/><rect x="65.68" y="358.37" width="1.1" height="1.1" fill="#34449c"/><rect x="71.55" y="358.15" width="1.1" height="1.1" fill="#34449c"/><rect x="76.03" y="355.21" width="1.1" height="1.1" fill="#34449c"/><rect x="73.14" y="355.06" width="1.1" height="1.1" fill="#34449c"/><rect x="62.18" y="356.14" width="1.1" height="1.1" fill="#34449c"/><rect x="75.27" y="356.82" width="1.1" height="1.1" fill="#34449c"/><rect x="65.37" y="357.91" width="1.1" height="1.1" fill="#34449c"/><rect x="77.66" y="355.51" width="1.1" height="1.1" fill="#34449c"/><rect x="69.72" y="357.1" width="1.1" height="1.1" fill="#34449c"/><rect x="77.46" y="355.07" width="1.1" height="1.1" fill="#34449c"/><rect x="71.53" y="358.42" width="1.1" height="1.1" fill="#34449c"/>
<rect x="67.11" y="355.7" width="1.1" height="1.1" fill="#34449c"/><rect x="71.13" y="355.51" width="1.1" height="1.1" fill="#34449c"/><rect x="69.67" y="358.31" width="1.1" height="1.1" fill="#34449c"/><rect x="68.04" y="356.66" width="1.1" height="1.1" fill="#34449c"/><rect x="72.25" y="355.99" width="1.1" height="1.1" fill="#34449c"/><rect x="65.82" y="357.04" width="1.1" height="1.1" fill="#34449c"/><rect x="72.94" y="354.64" width="1.1" height="1.1" fill="#34449c"/><rect x="69.35" y="356.14" width="1.1" height="1.1" fill="#34449c"/><rect x="74.18" y="354.81" width="1.1" height="1.1" fill="#34449c"/><rect x="69.54" y="354.95" width="1.1" height="1.1" fill="#34449c"/><rect x="67.31" y="356.73" width="1.1" height="1.1" fill="#34449c"/><rect x="69.21" y="356.52" width="1.1" height="1.1" fill="#34449c"/>
<rect x="67.89" y="356.4" width="1.1" height="1.1" fill="#6cbf4a"/><rect x="69.87" y="358.22" width="1.1" height="1.1" fill="#6cbf4a"/><rect x="68.75" y="357.13" width="1.1" height="1.1" fill="#6cbf4a"/><rect x="70.35" y="357.65" width="1.1" height="1.1" fill="#6cbf4a"/><rect x="69.09" y="357.89" width="1.1" height="1.1" fill="#6cbf4a"/>
<rect x="66.87" y="357.52" width="1.1" height="1.1" fill="#e3d33a"/><rect x="67.76" y="357.39" width="1.1" height="1.1" fill="#e3d33a"/><rect x="67.7" y="358.04" width="1.1" height="1.1" fill="#e3d33a"/>
<rect x="85.94" y="335.86" width="1.1" height="1.1" fill="#34449c"/><rect x="90.49" y="335.29" width="1.1" height="1.1" fill="#34449c"/><rect x="78.56" y="339.83" width="1.1" height="1.1" fill="#34449c"/><rect x="83.67" y="340.96" width="1.1" height="1.1" fill="#34449c"/><rect x="79.13" y="346.07" width="1.1" height="1.1" fill="#34449c"/><rect x="71.17" y="349.47" width="1.1" height="1.1" fill="#34449c"/><rect x="74.58" y="349.47" width="1.1" height="1.1" fill="#34449c"/><rect x="88.78" y="354.57" width="1.1" height="1.1" fill="#34449c"/><rect x="81.4" y="356.84" width="1.1" height="1.1" fill="#34449c"/><rect x="68.33" y="360.24" width="1.1" height="1.1" fill="#34449c"/><rect x="76.29" y="352.3" width="1.1" height="1.1" fill="#34449c"/>
<rect x="47.5" y="317.5" width="57" height="57" fill="none" stroke="#333" stroke-width="1"/>
<line x1="47.5" y1="352.5" x2="104.5" y2="352.5" stroke="#333" stroke-width="1"/>
<line x1="75.5" y1="352.5" x2="75.5" y2="374.5" stroke="#333" stroke-width="1"/>
<line x1="46" y1="330.59" x2="47.3" y2="330.59" stroke="#333" stroke-width="0.7"/><line x1="46" y1="343.47" x2="47.3" y2="343.47" stroke="#333" stroke-width="0.7"/><line x1="46" y1="356.36" x2="47.3" y2="356.36" stroke="#333" stroke-width="0.7"/><line x1="46" y1="369.25" x2="47.3" y2="369.25" stroke="#333" stroke-width="0.7"/><line x1="60.21" y1="374.4" x2="60.21" y2="375.7" stroke="#333" stroke-width="0.7"/><line x1="73.12" y1="374.4" x2="73.12" y2="375.7" stroke="#333" stroke-width="0.7"/><line x1="86.03" y1="374.4" x2="86.03" y2="375.7" stroke="#333" stroke-width="0.7"/><line x1="98.94" y1="374.4" x2="98.94" y2="375.7" stroke="#333" stroke-width="0.7"/>
<text x="49.2" y="324.1" font-size="6.0" text-anchor="start" >S</text>
<text x="49.2" y="330.8" font-size="6.0" text-anchor="start" >4.52</text>
<text x="49.2" y="365.6" font-size="6.0" text-anchor="start" >G0/G1</text>
<text x="49.2" y="372.8" font-size="6.0" text-anchor="start" >92.1</text>
<text x="101.8" y="365.6" font-size="6.0" text-anchor="end" >G2/M</text>
<text x="101.8" y="372.8" font-size="6.0" text-anchor="end" >3.39</text>
<rect x="140.71" y="349.34" width="1.1" height="1.1" fill="#34449c"/><rect x="139.79" y="338.49" width="1.1" height="1.1" fill="#34449c"/><rect x="135.3" y="353.18" width="1.1" height="1.1" fill="#34449c"/><rect x="141.4" y="347.49" width="1.1" height="1.1" fill="#34449c"/><rect x="133.75" y="355.15" width="1.1" height="1.1" fill="#34449c"/><rect x="139.5" y="342.53" width="1.1" height="1.1" fill="#34449c"/><rect x="134.89" y="347.89" width="1.1" height="1.1" fill="#34449c"/><rect x="133.4" y="352.41" width="1.1" height="1.1" fill="#34449c"/><rect x="135.22" y="350.89" width="1.1" height="1.1" fill="#34449c"/><rect x="141.34" y="341.55" width="1.1" height="1.1" fill="#34449c"/><rect x="134.99" y="349.33" width="1.1" height="1.1" fill="#34449c"/><rect x="142.13" y="342.9" width="1.1" height="1.1" fill="#34449c"/><rect x="138.23" y="345.74" width="1.1" height="1.1" fill="#34449c"/><rect x="142.85" y="342.27" width="1.1" height="1.1" fill="#34449c"/><rect x="135.57" y="353.02" width="1.1" height="1.1" fill="#34449c"/><rect x="135.16" y="356.89" width="1.1" height="1.1" fill="#34449c"/><rect x="138.67" y="343.86" width="1.1" height="1.1" fill="#34449c"/><rect x="133.76" y="346.59" width="1.1" height="1.1" fill="#34449c"/>
<rect x="133.81" y="357.68" width="1.1" height="1.1" fill="#34449c"/><rect x="134.28" y="350.23" width="1.1" height="1.1" fill="#34449c"/><rect x="136.48" y="353.47" width="1.1" height="1.1" fill="#34449c"/><rect x="137.58" y="353.86" width="1.1" height="1.1" fill="#34449c"/><rect x="139.91" y="351.9" width="1.1" height="1.1" fill="#34449c"/><rect x="136.13" y="352.47" width="1.1" height="1.1" fill="#34449c"/><rect x="134.45" y="349.67" width="1.1" height="1.1" fill="#34449c"/><rect x="137" y="349.69" width="1.1" height="1.1" fill="#34449c"/><rect x="136.44" y="354.54" width="1.1" height="1.1" fill="#34449c"/><rect x="136.51" y="349.86" width="1.1" height="1.1" fill="#34449c"/>
<rect x="134.64" y="355.25" width="1.2" height="1.2" fill="#6cbf4a"/><rect x="130.86" y="358.24" width="1.2" height="1.2" fill="#6cbf4a"/><rect x="131.92" y="357.7" width="1.2" height="1.2" fill="#6cbf4a"/><rect x="133.86" y="356.03" width="1.2" height="1.2" fill="#6cbf4a"/><rect x="131.2" y="357.66" width="1.2" height="1.2" fill="#6cbf4a"/><rect x="135.62" y="355.04" width="1.2" height="1.2" fill="#6cbf4a"/><rect x="130.72" y="358.46" width="1.2" height="1.2" fill="#6cbf4a"/><rect x="131.82" y="357.89" width="1.2" height="1.2" fill="#6cbf4a"/><rect x="135.76" y="355.07" width="1.2" height="1.2" fill="#6cbf4a"/><rect x="134.64" y="355.28" width="1.2" height="1.2" fill="#6cbf4a"/>
<rect x="133.59" y="356.48" width="1.2" height="1.2" fill="#e3d33a"/><rect x="132.59" y="356.48" width="1.2" height="1.2" fill="#e3d33a"/><rect x="131.96" y="357.43" width="1.2" height="1.2" fill="#e3d33a"/><rect x="133.34" y="356.35" width="1.2" height="1.2" fill="#e3d33a"/><rect x="130.61" y="358.46" width="1.2" height="1.2" fill="#e3d33a"/>
<rect x="135.48" y="355.03" width="1.1" height="1.1" fill="#34449c"/><rect x="134.06" y="355.48" width="1.1" height="1.1" fill="#34449c"/><rect x="132.58" y="355.12" width="1.1" height="1.1" fill="#34449c"/><rect x="133.81" y="353.02" width="1.1" height="1.1" fill="#34449c"/><rect x="133.31" y="355.83" width="1.1" height="1.1" fill="#34449c"/><rect x="134.12" y="354.39" width="1.1" height="1.1" fill="#34449c"/><rect x="133.53" y="354.29" width="1.1" height="1.1" fill="#34449c"/><rect x="133.72" y="352.92" width="1.1" height="1.1" fill="#34449c"/><rect x="135.07" y="355.78" width="1.1" height="1.1" fill="#34449c"/><rect x="133.59" y="354.84" width="1.1" height="1.1" fill="#34449c"/>
<rect x="145.19" y="340.96" width="1.1" height="1.1" fill="#34449c"/><rect x="141.78" y="343.23" width="1.1" height="1.1" fill="#34449c"/><rect x="146.89" y="345.5" width="1.1" height="1.1" fill="#34449c"/><rect x="154.27" y="346.63" width="1.1" height="1.1" fill="#34449c"/><rect x="149.73" y="350.04" width="1.1" height="1.1" fill="#34449c"/><rect x="146.89" y="357.97" width="1.1" height="1.1" fill="#34449c"/><rect x="148.59" y="355.71" width="1.1" height="1.1" fill="#34449c"/><rect x="142.91" y="335.86" width="1.1" height="1.1" fill="#34449c"/>
<rect x="116.5" y="317.5" width="57" height="57" fill="none" stroke="#333" stroke-width="1"/>
<line x1="116.5" y1="352.5" x2="173.5" y2="352.5" stroke="#333" stroke-width="1"/>
<line x1="144.5" y1="352.5" x2="144.5" y2="374.5" stroke="#333" stroke-width="1"/>
<line x1="114.9" y1="330.59" x2="116.2" y2="330.59" stroke="#333" stroke-width="0.7"/><line x1="114.9" y1="343.47" x2="116.2" y2="343.47" stroke="#333" stroke-width="0.7"/><line x1="114.9" y1="356.36" x2="116.2" y2="356.36" stroke="#333" stroke-width="0.7"/><line x1="114.9" y1="369.25" x2="116.2" y2="369.25" stroke="#333" stroke-width="0.7"/><line x1="129.11" y1="374.4" x2="129.11" y2="375.7" stroke="#333" stroke-width="0.7"/><line x1="142.02" y1="374.4" x2="142.02" y2="375.7" stroke="#333" stroke-width="0.7"/><line x1="154.93" y1="374.4" x2="154.93" y2="375.7" stroke="#333" stroke-width="0.7"/><line x1="167.84" y1="374.4" x2="167.84" y2="375.7" stroke="#333" stroke-width="0.7"/>
<text x="118.1" y="324.1" font-size="6.0" text-anchor="start" >S</text>
<text x="118.1" y="330.8" font-size="6.0" text-anchor="start" >8.97</text>
<text x="118.1" y="365.6" font-size="6.0" text-anchor="start" >G0/G1</text>
<text x="118.1" y="372.8" font-size="6.0" text-anchor="start" >89.2</text>
<text x="170.7" y="365.6" font-size="6.0" text-anchor="end" >G2/M</text>
<text x="170.7" y="372.8" font-size="6.0" text-anchor="end" >1.79</text>
<rect x="217.74" y="338.95" width="1.1" height="1.1" fill="#34449c"/><rect x="217.56" y="339.56" width="1.1" height="1.1" fill="#34449c"/><rect x="213.21" y="335.03" width="1.1" height="1.1" fill="#34449c"/><rect x="212.67" y="334.46" width="1.1" height="1.1" fill="#34449c"/><rect x="218.75" y="337.18" width="1.1" height="1.1" fill="#34449c"/><rect x="212.88" y="334.55" width="1.1" height="1.1" fill="#34449c"/><rect x="218.75" y="333.89" width="1.1" height="1.1" fill="#34449c"/><rect x="213.93" y="337.56" width="1.1" height="1.1" fill="#34449c"/><rect x="218.98" y="339.41" width="1.1" height="1.1" fill="#34449c"/><rect x="213.95" y="333.54" width="1.1" height="1.1" fill="#34449c"/><rect x="212.26" y="337.39" width="1.1" height="1.1" fill="#34449c"/><rect x="216" y="339.17" width="1.1" height="1.1" fill="#34449c"/><rect x="217.81" y="338.93" width="1.1" height="1.1" fill="#34449c"/><rect x="212.5" y="333.96" width="1.1" height="1.1" fill="#34449c"/><rect x="215.42" y="337.42" width="1.1" height="1.1" fill="#34449c"/><rect x="213.23" y="339.43" width="1.1" height="1.1" fill="#34449c"/><rect x="210.69" y="336.19" width="1.1" height="1.1" fill="#34449c"/><rect x="212.79" y="337.39" width="1.1" height="1.1" fill="#34449c"/><rect x="216.83" y="335.68" width="1.1" height="1.1" fill="#34449c"/><rect x="216.39" y="339.34" width="1.1" height="1.1" fill="#34449c"/><rect x="213.34" y="334.65" width="1.1" height="1.1" fill="#34449c"/><rect x="212.53" y="335.56" width="1.1" height="1.1" fill="#34449c"/><rect x="212.48" y="332.28" width="1.1" height="1.1" fill="#34449c"/><rect x="217.23" y="333.54" width="1.1" height="1.1" fill="#34449c"/><rect x="208.62" y="337.46" width="1.1" height="1.1" fill="#34449c"/><rect x="211.63" y="337.46" width="1.1" height="1.1" fill="#34449c"/><rect x="218.31" y="333.9" width="1.1" height="1.1" fill="#34449c"/><rect x="211.77" y="338.8" width="1.1" height="1.1" fill="#34449c"/><rect x="210.3" y="333.46" width="1.1" height="1.1" fill="#34449c"/><rect x="212.88" y="334.47" width="1.1" height="1.1" fill="#34449c"/><rect x="218.82" y="335.98" width="1.1" height="1.1" fill="#34449c"/><rect x="210.02" y="339.61" width="1.1" height="1.1" fill="#34449c"/><rect x="217.03" y="335.95" width="1.1" height="1.1" fill="#34449c"/><rect x="220.43" y="338.4" width="1.1" height="1.1" fill="#34449c"/><rect x="217.46" y="334.93" width="1.1" height="1.1" fill="#34449c"/><rect x="215.26" y="339.87" width="1.1" height="1.1" fill="#34449c"/>
<rect x="222.48" y="335.68" width="1.1" height="1.1" fill="#34449c"/><rect x="210.74" y="341.29" width="1.1" height="1.1" fill="#34449c"/><rect x="205.32" y="338.2" width="1.1" height="1.1" fill="#34449c"/><rect x="203.46" y="339.01" width="1.1" height="1.1" fill="#34449c"/><rect x="205.54" y="334.03" width="1.1" height="1.1" fill="#34449c"/><rect x="209.34" y="334.9" width="1.1" height="1.1" fill="#34449c"/><rect x="202.89" y="334.9" width="1.1" height="1.1" fill="#34449c"/><rect x="210.02" y="336.99" width="1.1" height="1.1" fill="#34449c"/><rect x="217.43" y="338.19" width="1.1" height="1.1" fill="#34449c"/><rect x="205.86" y="335.37" width="1.1" height="1.1" fill="#34449c"/><rect x="207.14" y="342.3" width="1.1" height="1.1" fill="#34449c"/><rect x="204.86" y="338.83" width="1.1" height="1.1" fill="#34449c"/><rect x="219.3" y="343.38" width="1.1" height="1.1" fill="#34449c"/><rect x="211.08" y="343.54" width="1.1" height="1.1" fill="#34449c"/><rect x="215.38" y="335.86" width="1.1" height="1.1" fill="#34449c"/><rect x="202.27" y="335.15" width="1.1" height="1.1" fill="#34449c"/><rect x="218.9" y="337.89" width="1.1" height="1.1" fill="#34449c"/><rect x="220.03" y="345.09" width="1.1" height="1.1" fill="#34449c"/>
<rect x="204.02" y="343.76" width="1.1" height="1.1" fill="#34449c"/><rect x="201.79" y="354.52" width="1.1" height="1.1" fill="#34449c"/><rect x="205.59" y="345.3" width="1.1" height="1.1" fill="#34449c"/><rect x="203.16" y="341.72" width="1.1" height="1.1" fill="#34449c"/><rect x="203.41" y="347.71" width="1.1" height="1.1" fill="#34449c"/><rect x="203.76" y="345.77" width="1.1" height="1.1" fill="#34449c"/><rect x="201.81" y="352.96" width="1.1" height="1.1" fill="#34449c"/><rect x="200.54" y="348.66" width="1.1" height="1.1" fill="#34449c"/><rect x="205.55" y="343.81" width="1.1" height="1.1" fill="#34449c"/><rect x="202.27" y="353" width="1.1" height="1.1" fill="#34449c"/><rect x="201.33" y="352.64" width="1.1" height="1.1" fill="#34449c"/><rect x="202.28" y="350.23" width="1.1" height="1.1" fill="#34449c"/><rect x="200.05" y="344.07" width="1.1" height="1.1" fill="#34449c"/><rect x="200.5" y="351.99" width="1.1" height="1.1" fill="#34449c"/><rect x="206.4" y="343.59" width="1.1" height="1.1" fill="#34449c"/><rect x="201.01" y="347.34" width="1.1" height="1.1" fill="#34449c"/>
<rect x="201.23" y="358.36" width="1.1" height="1.1" fill="#34449c"/><rect x="203.67" y="349.25" width="1.1" height="1.1" fill="#34449c"/><rect x="203.85" y="351.39" width="1.1" height="1.1" fill="#34449c"/><rect x="204.06" y="354.39" width="1.1" height="1.1" fill="#34449c"/><rect x="204" y="355.2" width="1.1" height="1.1" fill="#34449c"/><rect x="201.07" y="350.75" width="1.1" height="1.1" fill="#34449c"/><rect x="202.12" y="353.17" width="1.1" height="1.1" fill="#34449c"/><rect x="203.85" y="359.33" width="1.1" height="1.1" fill="#34449c"/><rect x="202.25" y="358.13" width="1.1" height="1.1" fill="#34449c"/><rect x="202.79" y="354.23" width="1.1" height="1.1" fill="#34449c"/>
<rect x="199.06" y="357.6" width="1.2" height="1.2" fill="#6cbf4a"/><rect x="198.46" y="357.99" width="1.2" height="1.2" fill="#6cbf4a"/><rect x="198.05" y="358.27" width="1.2" height="1.2" fill="#6cbf4a"/><rect x="199.62" y="356.71" width="1.2" height="1.2" fill="#6cbf4a"/><rect x="197.53" y="357.81" width="1.2" height="1.2" fill="#6cbf4a"/><rect x="196.75" y="359.3" width="1.2" height="1.2" fill="#6cbf4a"/><rect x="201.46" y="355.25" width="1.2" height="1.2" fill="#6cbf4a"/><rect x="201.96" y="354.78" width="1.2" height="1.2" fill="#6cbf4a"/>
<rect x="200.42" y="356.32" width="1.2" height="1.2" fill="#f0902a"/><rect x="199.12" y="357.65" width="1.2" height="1.2" fill="#f0902a"/><rect x="201.1" y="356.03" width="1.2" height="1.2" fill="#f0902a"/><rect x="200.56" y="355.59" width="1.2" height="1.2" fill="#f0902a"/>
<rect x="232.43" y="337.56" width="1.1" height="1.1" fill="#34449c"/><rect x="228.45" y="335.86" width="1.1" height="1.1" fill="#34449c"/><rect x="218.23" y="355.71" width="1.1" height="1.1" fill="#34449c"/><rect x="220.5" y="355.71" width="1.1" height="1.1" fill="#34449c"/><rect x="219.37" y="356.84" width="1.1" height="1.1" fill="#34449c"/><rect x="225.05" y="344.37" width="1.1" height="1.1" fill="#34449c"/>
<rect x="184.5" y="317.5" width="57" height="57" fill="none" stroke="#333" stroke-width="1"/>
<line x1="184.5" y1="352.5" x2="241.5" y2="352.5" stroke="#333" stroke-width="1"/>
<line x1="212.5" y1="352.5" x2="212.5" y2="374.5" stroke="#333" stroke-width="1"/>
<line x1="183.4" y1="330.59" x2="184.7" y2="330.59" stroke="#333" stroke-width="0.7"/><line x1="183.4" y1="343.47" x2="184.7" y2="343.47" stroke="#333" stroke-width="0.7"/><line x1="183.4" y1="356.36" x2="184.7" y2="356.36" stroke="#333" stroke-width="0.7"/><line x1="183.4" y1="369.25" x2="184.7" y2="369.25" stroke="#333" stroke-width="0.7"/><line x1="197.61" y1="374.4" x2="197.61" y2="375.7" stroke="#333" stroke-width="0.7"/><line x1="210.52" y1="374.4" x2="210.52" y2="375.7" stroke="#333" stroke-width="0.7"/><line x1="223.43" y1="374.4" x2="223.43" y2="375.7" stroke="#333" stroke-width="0.7"/><line x1="236.34" y1="374.4" x2="236.34" y2="375.7" stroke="#333" stroke-width="0.7"/>
<text x="186.6" y="324.1" font-size="6.0" text-anchor="start" >S</text>
<text x="186.6" y="330.8" font-size="6.0" text-anchor="start" >26.1</text>
<text x="186.6" y="365.6" font-size="6.0" text-anchor="start" >G0/G1</text>
<text x="186.6" y="372.8" font-size="6.0" text-anchor="start" >73.1</text>
<text x="239.2" y="365.6" font-size="6.0" text-anchor="end" >G2/M</text>
<text x="239.2" y="372.8" font-size="6.0" text-anchor="end" >0.71</text>
<rect x="93.84" y="405.76" width="1.1" height="1.1" fill="#34449c"/><rect x="90.84" y="403.77" width="1.1" height="1.1" fill="#34449c"/><rect x="81.77" y="404.14" width="1.1" height="1.1" fill="#34449c"/><rect x="83.37" y="401.32" width="1.1" height="1.1" fill="#34449c"/><rect x="80.03" y="404.74" width="1.1" height="1.1" fill="#34449c"/><rect x="69.97" y="411.82" width="1.1" height="1.1" fill="#34449c"/><rect x="93.26" y="402.39" width="1.1" height="1.1" fill="#34449c"/><rect x="85.78" y="407.75" width="1.1" height="1.1" fill="#34449c"/><rect x="80.25" y="408.62" width="1.1" height="1.1" fill="#34449c"/><rect x="86.55" y="404.2" width="1.1" height="1.1" fill="#34449c"/><rect x="78.59" y="407.45" width="1.1" height="1.1" fill="#34449c"/><rect x="95.43" y="413.45" width="1.1" height="1.1" fill="#34449c"/><rect x="89.65" y="406.75" width="1.1" height="1.1" fill="#34449c"/><rect x="93.16" y="414.14" width="1.1" height="1.1" fill="#34449c"/><rect x="92.49" y="403.01" width="1.1" height="1.1" fill="#34449c"/><rect x="79.87" y="403.49" width="1.1" height="1.1" fill="#34449c"/><rect x="80.95" y="412.37" width="1.1" height="1.1" fill="#34449c"/><rect x="82.11" y="404.93" width="1.1" height="1.1" fill="#34449c"/><rect x="73.3" y="402.25" width="1.1" height="1.1" fill="#34449c"/><rect x="90.87" y="413.75" width="1.1" height="1.1" fill="#34449c"/><rect x="92.63" y="400.32" width="1.1" height="1.1" fill="#34449c"/><rect x="76.04" y="402.25" width="1.1" height="1.1" fill="#34449c"/><rect x="81.28" y="403.12" width="1.1" height="1.1" fill="#34449c"/><rect x="81.91" y="406.66" width="1.1" height="1.1" fill="#34449c"/><rect x="85.76" y="407.55" width="1.1" height="1.1" fill="#34449c"/><rect x="82.31" y="400.9" width="1.1" height="1.1" fill="#34449c"/>
<rect x="91.57" y="404.87" width="1.1" height="1.1" fill="#34449c"/><rect x="90.05" y="404.1" width="1.1" height="1.1" fill="#34449c"/><rect x="97.95" y="410.63" width="1.1" height="1.1" fill="#34449c"/><rect x="85.23" y="406.01" width="1.1" height="1.1" fill="#34449c"/><rect x="96.53" y="404.45" width="1.1" height="1.1" fill="#34449c"/><rect x="95.14" y="410.38" width="1.1" height="1.1" fill="#34449c"/><rect x="89.07" y="407.02" width="1.1" height="1.1" fill="#34449c"/><rect x="92.47" y="410.59" width="1.1" height="1.1" fill="#34449c"/><rect x="83.67" y="403.7" width="1.1" height="1.1" fill="#34449c"/><rect x="86.6" y="403.68" width="1.1" height="1.1" fill="#34449c"/><rect x="89.14" y="406.36" width="1.1" height="1.1" fill="#34449c"/><rect x="88.08" y="409.68" width="1.1" height="1.1" fill="#34449c"/><rect x="88.72" y="406.31" width="1.1" height="1.1" fill="#34449c"/><rect x="87.82" y="406.33" width="1.1" height="1.1" fill="#34449c"/>
<rect x="65.94" y="422.99" width="1.1" height="1.1" fill="#34449c"/><rect x="69.7" y="419.31" width="1.1" height="1.1" fill="#34449c"/><rect x="65.93" y="423.33" width="1.1" height="1.1" fill="#34449c"/><rect x="68.79" y="420.21" width="1.1" height="1.1" fill="#34449c"/><rect x="72.56" y="417.39" width="1.1" height="1.1" fill="#34449c"/><rect x="69.39" y="421.03" width="1.1" height="1.1" fill="#34449c"/><rect x="77.2" y="415.8" width="1.1" height="1.1" fill="#34449c"/><rect x="71.98" y="417.74" width="1.1" height="1.1" fill="#34449c"/><rect x="66.7" y="422" width="1.1" height="1.1" fill="#34449c"/><rect x="67.53" y="422.16" width="1.1" height="1.1" fill="#34449c"/><rect x="66.33" y="424.22" width="1.1" height="1.1" fill="#34449c"/><rect x="65.02" y="420.89" width="1.1" height="1.1" fill="#34449c"/><rect x="65.3" y="422.02" width="1.1" height="1.1" fill="#34449c"/><rect x="75.15" y="416.14" width="1.1" height="1.1" fill="#34449c"/><rect x="65.84" y="423.11" width="1.1" height="1.1" fill="#34449c"/><rect x="74.5" y="416.95" width="1.1" height="1.1" fill="#34449c"/><rect x="74.36" y="417.23" width="1.1" height="1.1" fill="#34449c"/><rect x="70.76" y="420.71" width="1.1" height="1.1" fill="#34449c"/>
<rect x="70.34" y="421.54" width="1.2" height="1.2" fill="#f0902a"/><rect x="69.96" y="420.82" width="1.2" height="1.2" fill="#f0902a"/><rect x="70.84" y="421.02" width="1.2" height="1.2" fill="#f0902a"/><rect x="71.52" y="420.36" width="1.2" height="1.2" fill="#f0902a"/><rect x="69.43" y="421.46" width="1.2" height="1.2" fill="#f0902a"/><rect x="66.63" y="422.2" width="1.2" height="1.2" fill="#f0902a"/><rect x="68.98" y="421.23" width="1.2" height="1.2" fill="#f0902a"/>
<rect x="75.15" y="412.73" width="1.1" height="1.1" fill="#34449c"/><rect x="72.31" y="414.44" width="1.1" height="1.1" fill="#34449c"/>
<rect x="47.5" y="383.5" width="57" height="57" fill="none" stroke="#333" stroke-width="1"/>
<line x1="47.5" y1="418.5" x2="104.5" y2="418.5" stroke="#333" stroke-width="1"/>
<line x1="75.5" y1="418.5" x2="75.5" y2="440.5" stroke="#333" stroke-width="1"/>
<line x1="46" y1="396.69" x2="47.3" y2="396.69" stroke="#333" stroke-width="0.7"/><line x1="46" y1="409.57" x2="47.3" y2="409.57" stroke="#333" stroke-width="0.7"/><line x1="46" y1="422.46" x2="47.3" y2="422.46" stroke="#333" stroke-width="0.7"/><line x1="46" y1="435.35" x2="47.3" y2="435.35" stroke="#333" stroke-width="0.7"/><line x1="60.21" y1="440.5" x2="60.21" y2="441.8" stroke="#333" stroke-width="0.7"/><line x1="73.12" y1="440.5" x2="73.12" y2="441.8" stroke="#333" stroke-width="0.7"/><line x1="86.03" y1="440.5" x2="86.03" y2="441.8" stroke="#333" stroke-width="0.7"/><line x1="98.94" y1="440.5" x2="98.94" y2="441.8" stroke="#333" stroke-width="0.7"/>
<text x="49.2" y="390.2" font-size="6.0" text-anchor="start" >S</text>
<text x="49.2" y="396.9" font-size="6.0" text-anchor="start" >33.6</text>
<text x="49.2" y="431.7" font-size="6.0" text-anchor="start" >G0/G1</text>
<text x="49.2" y="438.9" font-size="6.0" text-anchor="start" >57.9</text>
<text x="101.8" y="431.7" font-size="6.0" text-anchor="end" >G2/M</text>
<text x="101.8" y="438.9" font-size="6.0" text-anchor="end" >8.41</text>
<rect x="156.48" y="402.35" width="1.1" height="1.1" fill="#34449c"/><rect x="159.56" y="405.85" width="1.1" height="1.1" fill="#34449c"/><rect x="145.01" y="407.39" width="1.1" height="1.1" fill="#34449c"/><rect x="138.92" y="402.11" width="1.1" height="1.1" fill="#34449c"/><rect x="145.65" y="402.56" width="1.1" height="1.1" fill="#34449c"/><rect x="152.29" y="404.89" width="1.1" height="1.1" fill="#34449c"/><rect x="144.63" y="403.16" width="1.1" height="1.1" fill="#34449c"/><rect x="140.29" y="408.63" width="1.1" height="1.1" fill="#34449c"/><rect x="158.49" y="404.06" width="1.1" height="1.1" fill="#34449c"/><rect x="155.86" y="403.6" width="1.1" height="1.1" fill="#34449c"/><rect x="154.69" y="402.67" width="1.1" height="1.1" fill="#34449c"/><rect x="149.58" y="404.78" width="1.1" height="1.1" fill="#34449c"/><rect x="157.64" y="409.19" width="1.1" height="1.1" fill="#34449c"/><rect x="137.27" y="400.93" width="1.1" height="1.1" fill="#34449c"/><rect x="146.68" y="402.38" width="1.1" height="1.1" fill="#34449c"/><rect x="140.74" y="411.56" width="1.1" height="1.1" fill="#34449c"/><rect x="159.51" y="399.91" width="1.1" height="1.1" fill="#34449c"/><rect x="134.99" y="407.51" width="1.1" height="1.1" fill="#34449c"/><rect x="159.69" y="410.78" width="1.1" height="1.1" fill="#34449c"/><rect x="152.89" y="408.92" width="1.1" height="1.1" fill="#34449c"/><rect x="147.28" y="405.8" width="1.1" height="1.1" fill="#34449c"/><rect x="157.27" y="401.03" width="1.1" height="1.1" fill="#34449c"/>
<rect x="150.9" y="400.93" width="1.1" height="1.1" fill="#34449c"/><rect x="156.4" y="407.46" width="1.1" height="1.1" fill="#34449c"/><rect x="157.52" y="409.42" width="1.1" height="1.1" fill="#34449c"/><rect x="153.47" y="401.74" width="1.1" height="1.1" fill="#34449c"/><rect x="145.19" y="401.15" width="1.1" height="1.1" fill="#34449c"/><rect x="151.59" y="405.37" width="1.1" height="1.1" fill="#34449c"/><rect x="150.41" y="399.68" width="1.1" height="1.1" fill="#34449c"/><rect x="156.36" y="407.43" width="1.1" height="1.1" fill="#34449c"/><rect x="149.16" y="406.45" width="1.1" height="1.1" fill="#34449c"/><rect x="144.87" y="405.02" width="1.1" height="1.1" fill="#34449c"/><rect x="145.25" y="401.51" width="1.1" height="1.1" fill="#34449c"/><rect x="154.88" y="403.95" width="1.1" height="1.1" fill="#34449c"/><rect x="158.45" y="402.78" width="1.1" height="1.1" fill="#34449c"/><rect x="155.91" y="406.57" width="1.1" height="1.1" fill="#34449c"/>
<rect x="133.88" y="421.1" width="1.1" height="1.1" fill="#34449c"/><rect x="134.85" y="420.21" width="1.1" height="1.1" fill="#34449c"/><rect x="137.83" y="418.61" width="1.1" height="1.1" fill="#34449c"/><rect x="136.98" y="417.64" width="1.1" height="1.1" fill="#34449c"/><rect x="137.03" y="419.78" width="1.1" height="1.1" fill="#34449c"/><rect x="133.46" y="421.89" width="1.1" height="1.1" fill="#34449c"/><rect x="132.32" y="421.55" width="1.1" height="1.1" fill="#34449c"/><rect x="140.13" y="416.82" width="1.1" height="1.1" fill="#34449c"/><rect x="131.78" y="424.65" width="1.1" height="1.1" fill="#34449c"/><rect x="135.24" y="419.69" width="1.1" height="1.1" fill="#34449c"/><rect x="130.28" y="422.94" width="1.1" height="1.1" fill="#34449c"/><rect x="131.8" y="420.18" width="1.1" height="1.1" fill="#34449c"/><rect x="136.31" y="420.58" width="1.1" height="1.1" fill="#34449c"/><rect x="132.4" y="420.64" width="1.1" height="1.1" fill="#34449c"/><rect x="138.79" y="418.82" width="1.1" height="1.1" fill="#34449c"/><rect x="138.91" y="420.55" width="1.1" height="1.1" fill="#34449c"/><rect x="135.25" y="418.85" width="1.1" height="1.1" fill="#34449c"/><rect x="131.85" y="421.67" width="1.1" height="1.1" fill="#34449c"/><rect x="130.05" y="421.65" width="1.1" height="1.1" fill="#34449c"/><rect x="139.21" y="418.21" width="1.1" height="1.1" fill="#34449c"/>
<rect x="131.84" y="420.67" width="1.1" height="1.1" fill="#3a3070"/><rect x="134.48" y="421.26" width="1.1" height="1.1" fill="#3a3070"/><rect x="133.94" y="421.2" width="1.1" height="1.1" fill="#3a3070"/><rect x="135.63" y="420.98" width="1.1" height="1.1" fill="#3a3070"/><rect x="136.15" y="420.23" width="1.1" height="1.1" fill="#3a3070"/><rect x="134.39" y="420.07" width="1.1" height="1.1" fill="#3a3070"/><rect x="130.25" y="421.12" width="1.1" height="1.1" fill="#3a3070"/><rect x="133.53" y="421.39" width="1.1" height="1.1" fill="#3a3070"/><rect x="134.2" y="421.21" width="1.1" height="1.1" fill="#3a3070"/><rect x="135.97" y="421.02" width="1.1" height="1.1" fill="#3a3070"/><rect x="133.52" y="420.62" width="1.1" height="1.1" fill="#3a3070"/><rect x="132.77" y="421.04" width="1.1" height="1.1" fill="#3a3070"/><rect x="134.41" y="420.45" width="1.1" height="1.1" fill="#3a3070"/><rect x="131.25" y="421.3" width="1.1" height="1.1" fill="#3a3070"/>
<rect x="162.23" y="421.24" width="1.1" height="1.1" fill="#34449c"/>
<rect x="116.5" y="383.5" width="57" height="57" fill="none" stroke="#333" stroke-width="1"/>
<line x1="116.5" y1="418.5" x2="173.5" y2="418.5" stroke="#333" stroke-width="1"/>
<line x1="144.5" y1="418.5" x2="144.5" y2="440.5" stroke="#333" stroke-width="1"/>
<line x1="114.9" y1="396.69" x2="116.2" y2="396.69" stroke="#333" stroke-width="0.7"/><line x1="114.9" y1="409.57" x2="116.2" y2="409.57" stroke="#333" stroke-width="0.7"/><line x1="114.9" y1="422.46" x2="116.2" y2="422.46" stroke="#333" stroke-width="0.7"/><line x1="114.9" y1="435.35" x2="116.2" y2="435.35" stroke="#333" stroke-width="0.7"/><line x1="129.11" y1="440.5" x2="129.11" y2="441.8" stroke="#333" stroke-width="0.7"/><line x1="142.02" y1="440.5" x2="142.02" y2="441.8" stroke="#333" stroke-width="0.7"/><line x1="154.93" y1="440.5" x2="154.93" y2="441.8" stroke="#333" stroke-width="0.7"/><line x1="167.84" y1="440.5" x2="167.84" y2="441.8" stroke="#333" stroke-width="0.7"/>
<text x="118.1" y="390.2" font-size="6.0" text-anchor="start" >S</text>
<text x="118.1" y="396.9" font-size="6.0" text-anchor="start" >22.1</text>
<text x="118.1" y="431.7" font-size="6.0" text-anchor="start" >G0/G1</text>
<text x="118.1" y="438.9" font-size="6.0" text-anchor="start" >75.9</text>
<text x="170.7" y="431.7" font-size="6.0" text-anchor="end" >G2/M</text>
<text x="170.7" y="438.9" font-size="6.0" text-anchor="end" >2.07</text>
<rect x="216.93" y="402.36" width="1.1" height="1.1" fill="#34449c"/><rect x="218.28" y="399.56" width="1.1" height="1.1" fill="#34449c"/><rect x="228.2" y="399.78" width="1.1" height="1.1" fill="#34449c"/><rect x="224.24" y="403.33" width="1.1" height="1.1" fill="#34449c"/><rect x="218.98" y="402.59" width="1.1" height="1.1" fill="#34449c"/><rect x="229.02" y="401.12" width="1.1" height="1.1" fill="#34449c"/><rect x="219.15" y="402.38" width="1.1" height="1.1" fill="#34449c"/><rect x="223.54" y="405.01" width="1.1" height="1.1" fill="#34449c"/><rect x="224.91" y="401.33" width="1.1" height="1.1" fill="#34449c"/><rect x="219.28" y="402.58" width="1.1" height="1.1" fill="#34449c"/><rect x="220.42" y="400.86" width="1.1" height="1.1" fill="#34449c"/><rect x="228.25" y="403.32" width="1.1" height="1.1" fill="#34449c"/><rect x="220.76" y="405.03" width="1.1" height="1.1" fill="#34449c"/><rect x="227.16" y="400.31" width="1.1" height="1.1" fill="#34449c"/><rect x="228.88" y="399.82" width="1.1" height="1.1" fill="#34449c"/><rect x="225.52" y="402.62" width="1.1" height="1.1" fill="#34449c"/><rect x="220.4" y="399.76" width="1.1" height="1.1" fill="#34449c"/><rect x="230.15" y="402.09" width="1.1" height="1.1" fill="#34449c"/><rect x="220.28" y="400" width="1.1" height="1.1" fill="#34449c"/><rect x="220.36" y="401.77" width="1.1" height="1.1" fill="#34449c"/><rect x="220.68" y="401.57" width="1.1" height="1.1" fill="#34449c"/><rect x="217.9" y="397.32" width="1.1" height="1.1" fill="#34449c"/><rect x="223.43" y="403.7" width="1.1" height="1.1" fill="#34449c"/><rect x="215.55" y="399.84" width="1.1" height="1.1" fill="#34449c"/><rect x="224.7" y="403.94" width="1.1" height="1.1" fill="#34449c"/><rect x="220.89" y="401.13" width="1.1" height="1.1" fill="#34449c"/><rect x="228.76" y="403.54" width="1.1" height="1.1" fill="#34449c"/><rect x="219.01" y="399.88" width="1.1" height="1.1" fill="#34449c"/><rect x="221" y="401.66" width="1.1" height="1.1" fill="#34449c"/><rect x="218.21" y="402.28" width="1.1" height="1.1" fill="#34449c"/><rect x="220.41" y="401.84" width="1.1" height="1.1" fill="#34449c"/><rect x="227.13" y="403.09" width="1.1" height="1.1" fill="#34449c"/><rect x="220.8" y="398.79" width="1.1" height="1.1" fill="#34449c"/><rect x="226.31" y="401.12" width="1.1" height="1.1" fill="#34449c"/>
<rect x="206.2" y="409.67" width="1.1" height="1.1" fill="#34449c"/><rect x="207.5" y="414.66" width="1.1" height="1.1" fill="#34449c"/><rect x="211.57" y="406.16" width="1.1" height="1.1" fill="#34449c"/><rect x="208.29" y="416.1" width="1.1" height="1.1" fill="#34449c"/><rect x="210.27" y="411.15" width="1.1" height="1.1" fill="#34449c"/><rect x="202.57" y="409.55" width="1.1" height="1.1" fill="#34449c"/><rect x="208.53" y="416.27" width="1.1" height="1.1" fill="#34449c"/><rect x="204.23" y="409.59" width="1.1" height="1.1" fill="#34449c"/><rect x="205.93" y="405.56" width="1.1" height="1.1" fill="#34449c"/><rect x="212.81" y="409.98" width="1.1" height="1.1" fill="#34449c"/><rect x="206.77" y="419.09" width="1.1" height="1.1" fill="#34449c"/><rect x="210.64" y="408.85" width="1.1" height="1.1" fill="#34449c"/><rect x="212.45" y="416.97" width="1.1" height="1.1" fill="#34449c"/><rect x="208.18" y="411.31" width="1.1" height="1.1" fill="#34449c"/><rect x="211.4" y="418.38" width="1.1" height="1.1" fill="#34449c"/><rect x="209.38" y="409.52" width="1.1" height="1.1" fill="#34449c"/><rect x="211.66" y="414.51" width="1.1" height="1.1" fill="#34449c"/><rect x="212.33" y="416.82" width="1.1" height="1.1" fill="#34449c"/><rect x="209.62" y="418" width="1.1" height="1.1" fill="#34449c"/><rect x="206.77" y="413.74" width="1.1" height="1.1" fill="#34449c"/><rect x="210.25" y="411.28" width="1.1" height="1.1" fill="#34449c"/><rect x="203.23" y="417.01" width="1.1" height="1.1" fill="#34449c"/>
<rect x="204.76" y="420.63" width="1.1" height="1.1" fill="#34449c"/><rect x="204.11" y="420.44" width="1.1" height="1.1" fill="#34449c"/><rect x="202.22" y="420.45" width="1.1" height="1.1" fill="#34449c"/><rect x="204.89" y="421.74" width="1.1" height="1.1" fill="#34449c"/><rect x="203.29" y="420.24" width="1.1" height="1.1" fill="#34449c"/><rect x="203.8" y="421.45" width="1.1" height="1.1" fill="#34449c"/><rect x="207.97" y="419.46" width="1.1" height="1.1" fill="#34449c"/><rect x="210.57" y="419.32" width="1.1" height="1.1" fill="#34449c"/><rect x="206.93" y="420.18" width="1.1" height="1.1" fill="#34449c"/><rect x="211.5" y="420.39" width="1.1" height="1.1" fill="#34449c"/><rect x="201.12" y="420.77" width="1.1" height="1.1" fill="#34449c"/><rect x="206.09" y="419.22" width="1.1" height="1.1" fill="#34449c"/><rect x="201.5" y="419.15" width="1.1" height="1.1" fill="#34449c"/><rect x="203.96" y="424.21" width="1.1" height="1.1" fill="#34449c"/>
<rect x="205.73" y="421.07" width="1.1" height="1.1" fill="#6a3a7a"/><rect x="202.59" y="420.94" width="1.1" height="1.1" fill="#6a3a7a"/><rect x="203.88" y="420.22" width="1.1" height="1.1" fill="#6a3a7a"/><rect x="204.92" y="420.64" width="1.1" height="1.1" fill="#6a3a7a"/><rect x="204.87" y="421.39" width="1.1" height="1.1" fill="#6a3a7a"/><rect x="207.38" y="418.5" width="1.1" height="1.1" fill="#6a3a7a"/><rect x="203.44" y="421.29" width="1.1" height="1.1" fill="#6a3a7a"/><rect x="205.89" y="421.15" width="1.1" height="1.1" fill="#6a3a7a"/>
<rect x="184.5" y="383.5" width="57" height="57" fill="none" stroke="#333" stroke-width="1"/>
<line x1="184.5" y1="418.5" x2="241.5" y2="418.5" stroke="#333" stroke-width="1"/>
<line x1="212.5" y1="418.5" x2="212.5" y2="440.5" stroke="#333" stroke-width="1"/>
<line x1="183.4" y1="396.69" x2="184.7" y2="396.69" stroke="#333" stroke-width="0.7"/><line x1="183.4" y1="409.57" x2="184.7" y2="409.57" stroke="#333" stroke-width="0.7"/><line x1="183.4" y1="422.46" x2="184.7" y2="422.46" stroke="#333" stroke-width="0.7"/><line x1="183.4" y1="435.35" x2="184.7" y2="435.35" stroke="#333" stroke-width="0.7"/><line x1="197.61" y1="440.5" x2="197.61" y2="441.8" stroke="#333" stroke-width="0.7"/><line x1="210.52" y1="440.5" x2="210.52" y2="441.8" stroke="#333" stroke-width="0.7"/><line x1="223.43" y1="440.5" x2="223.43" y2="441.8" stroke="#333" stroke-width="0.7"/><line x1="236.34" y1="440.5" x2="236.34" y2="441.8" stroke="#333" stroke-width="0.7"/>
<text x="186.6" y="390.2" font-size="6.0" text-anchor="start" >S</text>
<text x="186.6" y="396.9" font-size="6.0" text-anchor="start" >47.3</text>
<text x="186.6" y="431.7" font-size="6.0" text-anchor="start" >G0/G1</text>
<text x="186.6" y="438.9" font-size="6.0" text-anchor="start" >51.3</text>
<text x="239.2" y="431.7" font-size="6.0" text-anchor="end" >G2/M</text>
<text x="239.2" y="438.9" font-size="6.0" text-anchor="end" >1.33</text>
<rect x="70.86" y="523.63" width="1.1" height="1.1" fill="#34449c"/><rect x="73.65" y="516.43" width="1.1" height="1.1" fill="#34449c"/><rect x="67.05" y="520.42" width="1.1" height="1.1" fill="#34449c"/><rect x="68.22" y="522.83" width="1.1" height="1.1" fill="#34449c"/><rect x="75.04" y="515.62" width="1.1" height="1.1" fill="#34449c"/><rect x="86.66" y="512.25" width="1.1" height="1.1" fill="#34449c"/><rect x="78.89" y="511.5" width="1.1" height="1.1" fill="#34449c"/><rect x="86.97" y="513" width="1.1" height="1.1" fill="#34449c"/><rect x="66.25" y="518.61" width="1.1" height="1.1" fill="#34449c"/><rect x="79.37" y="513.91" width="1.1" height="1.1" fill="#34449c"/><rect x="72.17" y="512.72" width="1.1" height="1.1" fill="#34449c"/><rect x="92.13" y="512.84" width="1.1" height="1.1" fill="#34449c"/><rect x="74.79" y="513.24" width="1.1" height="1.1" fill="#34449c"/><rect x="88.85" y="503.25" width="1.1" height="1.1" fill="#34449c"/><rect x="83.39" y="514.04" width="1.1" height="1.1" fill="#34449c"/><rect x="95.92" y="511.71" width="1.1" height="1.1" fill="#34449c"/><rect x="90.25" y="507.84" width="1.1" height="1.1" fill="#34449c"/><rect x="92.61" y="505.51" width="1.1" height="1.1" fill="#34449c"/><rect x="77.57" y="515.62" width="1.1" height="1.1" fill="#34449c"/><rect x="81.24" y="517.31" width="1.1" height="1.1" fill="#34449c"/><rect x="67.52" y="520.15" width="1.1" height="1.1" fill="#34449c"/><rect x="82.51" y="514.99" width="1.1" height="1.1" fill="#34449c"/><rect x="85.07" y="512.87" width="1.1" height="1.1" fill="#34449c"/><rect x="61.31" y="517.22" width="1.1" height="1.1" fill="#34449c"/><rect x="90.19" y="518.12" width="1.1" height="1.1" fill="#34449c"/><rect x="77.72" y="518.1" width="1.1" height="1.1" fill="#34449c"/><rect x="86.37" y="517" width="1.1" height="1.1" fill="#34449c"/><rect x="75.65" y="516.8" width="1.1" height="1.1" fill="#34449c"/><rect x="75.69" y="517.44" width="1.1" height="1.1" fill="#34449c"/><rect x="86.82" y="512.65" width="1.1" height="1.1" fill="#34449c"/>
<rect x="68.31" y="505.87" width="1.1" height="1.1" fill="#34449c"/><rect x="90.03" y="510.14" width="1.1" height="1.1" fill="#34449c"/><rect x="64.77" y="508.32" width="1.1" height="1.1" fill="#34449c"/><rect x="78.93" y="510.76" width="1.1" height="1.1" fill="#34449c"/><rect x="80.88" y="507.05" width="1.1" height="1.1" fill="#34449c"/><rect x="90.14" y="506.7" width="1.1" height="1.1" fill="#34449c"/><rect x="78.36" y="512.79" width="1.1" height="1.1" fill="#34449c"/><rect x="67.31" y="505.96" width="1.1" height="1.1" fill="#34449c"/><rect x="96.35" y="512.44" width="1.1" height="1.1" fill="#34449c"/><rect x="70.11" y="512.12" width="1.1" height="1.1" fill="#34449c"/><rect x="67.13" y="513.73" width="1.1" height="1.1" fill="#34449c"/><rect x="65.08" y="506.82" width="1.1" height="1.1" fill="#34449c"/><rect x="71.11" y="511.8" width="1.1" height="1.1" fill="#34449c"/><rect x="92.44" y="508.11" width="1.1" height="1.1" fill="#34449c"/>
<rect x="72.94" y="521.32" width="1.1" height="1.1" fill="#34449c"/><rect x="66.54" y="524.11" width="1.1" height="1.1" fill="#34449c"/><rect x="72.73" y="526.45" width="1.1" height="1.1" fill="#34449c"/><rect x="71.01" y="524.3" width="1.1" height="1.1" fill="#34449c"/><rect x="69.31" y="521.49" width="1.1" height="1.1" fill="#34449c"/><rect x="81.57" y="524.54" width="1.1" height="1.1" fill="#34449c"/><rect x="72.8" y="521.19" width="1.1" height="1.1" fill="#34449c"/><rect x="74.16" y="520.09" width="1.1" height="1.1" fill="#34449c"/><rect x="73.67" y="523.48" width="1.1" height="1.1" fill="#34449c"/><rect x="68.15" y="523.47" width="1.1" height="1.1" fill="#34449c"/><rect x="71.26" y="522.28" width="1.1" height="1.1" fill="#34449c"/><rect x="74.81" y="524.82" width="1.1" height="1.1" fill="#34449c"/><rect x="73.09" y="523.31" width="1.1" height="1.1" fill="#34449c"/><rect x="77.42" y="522.58" width="1.1" height="1.1" fill="#34449c"/><rect x="71.21" y="524.05" width="1.1" height="1.1" fill="#34449c"/><rect x="68.36" y="524.11" width="1.1" height="1.1" fill="#34449c"/><rect x="76.1" y="524.02" width="1.1" height="1.1" fill="#34449c"/><rect x="81.14" y="521.09" width="1.1" height="1.1" fill="#34449c"/><rect x="71.19" y="521.45" width="1.1" height="1.1" fill="#34449c"/><rect x="73.06" y="522.91" width="1.1" height="1.1" fill="#34449c"/><rect x="71.04" y="520.3" width="1.1" height="1.1" fill="#34449c"/><rect x="74.58" y="524.86" width="1.1" height="1.1" fill="#34449c"/><rect x="66.23" y="525.12" width="1.1" height="1.1" fill="#34449c"/><rect x="69.84" y="522.54" width="1.1" height="1.1" fill="#34449c"/><rect x="74.24" y="521.26" width="1.1" height="1.1" fill="#34449c"/><rect x="73.04" y="521.51" width="1.1" height="1.1" fill="#34449c"/><rect x="70.42" y="524.86" width="1.1" height="1.1" fill="#34449c"/><rect x="75.84" y="526.23" width="1.1" height="1.1" fill="#34449c"/><rect x="70.1" y="521.69" width="1.1" height="1.1" fill="#34449c"/><rect x="67.48" y="521.51" width="1.1" height="1.1" fill="#34449c"/><rect x="74.39" y="523.08" width="1.1" height="1.1" fill="#34449c"/><rect x="79.12" y="525.69" width="1.1" height="1.1" fill="#34449c"/><rect x="78.29" y="522.23" width="1.1" height="1.1" fill="#34449c"/><rect x="62.6" y="522.13" width="1.1" height="1.1" fill="#34449c"/><rect x="73.63" y="522.76" width="1.1" height="1.1" fill="#34449c"/><rect x="69.8" y="519.97" width="1.1" height="1.1" fill="#34449c"/><rect x="71.18" y="526.91" width="1.1" height="1.1" fill="#34449c"/><rect x="76.26" y="522.11" width="1.1" height="1.1" fill="#34449c"/><rect x="67.7" y="524.6" width="1.1" height="1.1" fill="#34449c"/><rect x="74.36" y="520.65" width="1.1" height="1.1" fill="#34449c"/><rect x="76.91" y="523.18" width="1.1" height="1.1" fill="#34449c"/><rect x="71.3" y="524.34" width="1.1" height="1.1" fill="#34449c"/><rect x="71.28" y="520.87" width="1.1" height="1.1" fill="#34449c"/><rect x="62.14" y="519.38" width="1.1" height="1.1" fill="#34449c"/><rect x="76.47" y="520.75" width="1.1" height="1.1" fill="#34449c"/><rect x="70.08" y="522.24" width="1.1" height="1.1" fill="#34449c"/><rect x="68.8" y="523.24" width="1.1" height="1.1" fill="#34449c"/><rect x="60.62" y="524.14" width="1.1" height="1.1" fill="#34449c"/><rect x="65.68" y="521.91" width="1.1" height="1.1" fill="#34449c"/><rect x="68.94" y="522.04" width="1.1" height="1.1" fill="#34449c"/><rect x="76.33" y="521.31" width="1.1" height="1.1" fill="#34449c"/><rect x="69.78" y="525.01" width="1.1" height="1.1" fill="#34449c"/><rect x="68.37" y="519.72" width="1.1" height="1.1" fill="#34449c"/><rect x="73.8" y="523.69" width="1.1" height="1.1" fill="#34449c"/><rect x="70.22" y="522.09" width="1.1" height="1.1" fill="#34449c"/><rect x="77.11" y="526.74" width="1.1" height="1.1" fill="#34449c"/><rect x="70.38" y="522.63" width="1.1" height="1.1" fill="#34449c"/><rect x="76.15" y="522.4" width="1.1" height="1.1" fill="#34449c"/><rect x="73.31" y="523.41" width="1.1" height="1.1" fill="#34449c"/><rect x="76.58" y="526.78" width="1.1" height="1.1" fill="#34449c"/>
<rect x="78.21" y="522.31" width="1.1" height="1.1" fill="#34449c"/><rect x="78.39" y="522.34" width="1.1" height="1.1" fill="#34449c"/><rect x="79.49" y="524.93" width="1.1" height="1.1" fill="#34449c"/><rect x="76.53" y="524.52" width="1.1" height="1.1" fill="#34449c"/><rect x="77.76" y="525.33" width="1.1" height="1.1" fill="#34449c"/><rect x="81.36" y="525.14" width="1.1" height="1.1" fill="#34449c"/><rect x="79.64" y="523.78" width="1.1" height="1.1" fill="#34449c"/><rect x="84.22" y="524.79" width="1.1" height="1.1" fill="#34449c"/><rect x="82.37" y="525" width="1.1" height="1.1" fill="#34449c"/><rect x="84.1" y="523.01" width="1.1" height="1.1" fill="#34449c"/><rect x="78.66" y="522.62" width="1.1" height="1.1" fill="#34449c"/><rect x="80.71" y="524.6" width="1.1" height="1.1" fill="#34449c"/><rect x="80.71" y="524.6" width="1.1" height="1.1" fill="#34449c"/><rect x="82.02" y="525.18" width="1.1" height="1.1" fill="#34449c"/>
<rect x="67.03" y="524.36" width="1.1" height="1.1" fill="#3f7fc8"/><rect x="69.09" y="524.87" width="1.1" height="1.1" fill="#3f7fc8"/><rect x="68.52" y="525.69" width="1.1" height="1.1" fill="#3f7fc8"/><rect x="73.11" y="527.37" width="1.1" height="1.1" fill="#3f7fc8"/><rect x="70.83" y="526.79" width="1.1" height="1.1" fill="#3f7fc8"/><rect x="70.98" y="526.23" width="1.1" height="1.1" fill="#3f7fc8"/><rect x="71.04" y="527.54" width="1.1" height="1.1" fill="#3f7fc8"/><rect x="68.87" y="523.02" width="1.1" height="1.1" fill="#3f7fc8"/><rect x="71.73" y="525.02" width="1.1" height="1.1" fill="#3f7fc8"/><rect x="67.78" y="525.6" width="1.1" height="1.1" fill="#3f7fc8"/><rect x="69.11" y="522.83" width="1.1" height="1.1" fill="#3f7fc8"/><rect x="68.06" y="524.81" width="1.1" height="1.1" fill="#3f7fc8"/><rect x="70.96" y="524.45" width="1.1" height="1.1" fill="#3f7fc8"/><rect x="68.94" y="524.97" width="1.1" height="1.1" fill="#3f7fc8"/><rect x="68.35" y="524.33" width="1.1" height="1.1" fill="#3f7fc8"/><rect x="73.42" y="525.35" width="1.1" height="1.1" fill="#3f7fc8"/>
<rect x="71" y="525.32" width="1.1" height="1.1" fill="#6cbf4a"/><rect x="72.88" y="526" width="1.1" height="1.1" fill="#6cbf4a"/><rect x="68.46" y="526.65" width="1.1" height="1.1" fill="#6cbf4a"/><rect x="71.32" y="525.9" width="1.1" height="1.1" fill="#6cbf4a"/><rect x="69.85" y="524.94" width="1.1" height="1.1" fill="#6cbf4a"/><rect x="66.89" y="527.08" width="1.1" height="1.1" fill="#6cbf4a"/><rect x="70.93" y="526.09" width="1.1" height="1.1" fill="#6cbf4a"/><rect x="70.85" y="525.71" width="1.1" height="1.1" fill="#6cbf4a"/><rect x="69.67" y="525.25" width="1.1" height="1.1" fill="#6cbf4a"/><rect x="67.85" y="524.97" width="1.1" height="1.1" fill="#6cbf4a"/><rect x="70.65" y="524.25" width="1.1" height="1.1" fill="#6cbf4a"/><rect x="69.11" y="524.34" width="1.1" height="1.1" fill="#6cbf4a"/><rect x="71.36" y="524.84" width="1.1" height="1.1" fill="#6cbf4a"/><rect x="69.45" y="525.81" width="1.1" height="1.1" fill="#6cbf4a"/>
<rect x="69.12" y="525.41" width="1.1" height="1.1" fill="#e3d33a"/><rect x="69.82" y="525.79" width="1.1" height="1.1" fill="#e3d33a"/><rect x="69.13" y="526.53" width="1.1" height="1.1" fill="#e3d33a"/><rect x="68.97" y="526.19" width="1.1" height="1.1" fill="#e3d33a"/><rect x="68.86" y="526.02" width="1.1" height="1.1" fill="#e3d33a"/><rect x="70.63" y="524.99" width="1.1" height="1.1" fill="#e3d33a"/>
<rect x="86.51" y="527.87" width="1.1" height="1.1" fill="#34449c"/><rect x="95.03" y="526.74" width="1.1" height="1.1" fill="#34449c"/>
<rect x="47.5" y="487.5" width="57" height="57" fill="none" stroke="#333" stroke-width="1"/>
<line x1="47.5" y1="522.5" x2="104.5" y2="522.5" stroke="#333" stroke-width="1"/>
<line x1="75.5" y1="522.5" x2="75.5" y2="544.5" stroke="#333" stroke-width="1"/>
<line x1="46" y1="500.49" x2="47.3" y2="500.49" stroke="#333" stroke-width="0.7"/><line x1="46" y1="513.37" x2="47.3" y2="513.37" stroke="#333" stroke-width="0.7"/><line x1="46" y1="526.26" x2="47.3" y2="526.26" stroke="#333" stroke-width="0.7"/><line x1="46" y1="539.15" x2="47.3" y2="539.15" stroke="#333" stroke-width="0.7"/><line x1="60.21" y1="544.3" x2="60.21" y2="545.6" stroke="#333" stroke-width="0.7"/><line x1="73.12" y1="544.3" x2="73.12" y2="545.6" stroke="#333" stroke-width="0.7"/><line x1="86.03" y1="544.3" x2="86.03" y2="545.6" stroke="#333" stroke-width="0.7"/><line x1="98.94" y1="544.3" x2="98.94" y2="545.6" stroke="#333" stroke-width="0.7"/>
<text x="49.2" y="494" font-size="6.0" text-anchor="start" >S</text>
<text x="49.2" y="500.7" font-size="6.0" text-anchor="start" >9.15</text>
<text x="49.2" y="535.5" font-size="6.0" text-anchor="start" >G0/G1</text>
<text x="49.2" y="542.7" font-size="6.0" text-anchor="start" >86.3</text>
<text x="101.8" y="535.5" font-size="6.0" text-anchor="end" >G2/M</text>
<text x="101.8" y="542.7" font-size="6.0" text-anchor="end" >4.51</text>
<rect x="132.06" y="523.55" width="1.1" height="1.1" fill="#34449c"/><rect x="136.04" y="515.3" width="1.1" height="1.1" fill="#34449c"/><rect x="139.33" y="513.38" width="1.1" height="1.1" fill="#34449c"/><rect x="145.01" y="508.77" width="1.1" height="1.1" fill="#34449c"/><rect x="137.48" y="515.34" width="1.1" height="1.1" fill="#34449c"/><rect x="134.15" y="519.09" width="1.1" height="1.1" fill="#34449c"/><rect x="136.41" y="521.61" width="1.1" height="1.1" fill="#34449c"/><rect x="134.25" y="517.2" width="1.1" height="1.1" fill="#34449c"/><rect x="130.5" y="523.43" width="1.1" height="1.1" fill="#34449c"/><rect x="139.37" y="515.46" width="1.1" height="1.1" fill="#34449c"/><rect x="145.17" y="507.29" width="1.1" height="1.1" fill="#34449c"/><rect x="139.27" y="521.58" width="1.1" height="1.1" fill="#34449c"/><rect x="144.99" y="511.73" width="1.1" height="1.1" fill="#34449c"/><rect x="130.5" y="523.65" width="1.1" height="1.1" fill="#34449c"/><rect x="138.82" y="517.25" width="1.1" height="1.1" fill="#34449c"/><rect x="142.08" y="511.68" width="1.1" height="1.1" fill="#34449c"/><rect x="139.85" y="519.66" width="1.1" height="1.1" fill="#34449c"/><rect x="135.74" y="516.6" width="1.1" height="1.1" fill="#34449c"/><rect x="130.21" y="518.66" width="1.1" height="1.1" fill="#34449c"/><rect x="136.53" y="514.11" width="1.1" height="1.1" fill="#34449c"/><rect x="142.96" y="515.66" width="1.1" height="1.1" fill="#34449c"/><rect x="141.41" y="509.25" width="1.1" height="1.1" fill="#34449c"/><rect x="152.25" y="509.3" width="1.1" height="1.1" fill="#34449c"/><rect x="141.59" y="516.18" width="1.1" height="1.1" fill="#34449c"/><rect x="134.1" y="517.46" width="1.1" height="1.1" fill="#34449c"/><rect x="137.92" y="515.59" width="1.1" height="1.1" fill="#34449c"/><rect x="149.26" y="508.19" width="1.1" height="1.1" fill="#34449c"/><rect x="147.33" y="512.24" width="1.1" height="1.1" fill="#34449c"/><rect x="146.05" y="509.64" width="1.1" height="1.1" fill="#34449c"/><rect x="136.67" y="523.93" width="1.1" height="1.1" fill="#34449c"/><rect x="146.65" y="510.11" width="1.1" height="1.1" fill="#34449c"/><rect x="146.72" y="513.97" width="1.1" height="1.1" fill="#34449c"/><rect x="135.55" y="526.25" width="1.1" height="1.1" fill="#34449c"/><rect x="139.39" y="520.13" width="1.1" height="1.1" fill="#34449c"/><rect x="140.24" y="512.63" width="1.1" height="1.1" fill="#34449c"/><rect x="153.85" y="509.72" width="1.1" height="1.1" fill="#34449c"/><rect x="137.52" y="513.28" width="1.1" height="1.1" fill="#34449c"/><rect x="139.15" y="520.15" width="1.1" height="1.1" fill="#34449c"/><rect x="140.36" y="518.26" width="1.1" height="1.1" fill="#34449c"/><rect x="144.42" y="512.91" width="1.1" height="1.1" fill="#34449c"/>
<rect x="138.51" y="511.37" width="1.1" height="1.1" fill="#34449c"/><rect x="138.9" y="519.02" width="1.1" height="1.1" fill="#34449c"/><rect x="131.01" y="513.5" width="1.1" height="1.1" fill="#34449c"/><rect x="128.31" y="516.73" width="1.1" height="1.1" fill="#34449c"/><rect x="143.19" y="516.18" width="1.1" height="1.1" fill="#34449c"/><rect x="135.21" y="511.68" width="1.1" height="1.1" fill="#34449c"/><rect x="137.62" y="516.73" width="1.1" height="1.1" fill="#34449c"/><rect x="134.64" y="509.77" width="1.1" height="1.1" fill="#34449c"/><rect x="134.7" y="515.09" width="1.1" height="1.1" fill="#34449c"/><rect x="139.27" y="518.11" width="1.1" height="1.1" fill="#34449c"/><rect x="138.32" y="517.48" width="1.1" height="1.1" fill="#34449c"/><rect x="138.5" y="515.87" width="1.1" height="1.1" fill="#34449c"/><rect x="130.27" y="513.1" width="1.1" height="1.1" fill="#34449c"/><rect x="138.96" y="515.69" width="1.1" height="1.1" fill="#34449c"/><rect x="134.92" y="517.84" width="1.1" height="1.1" fill="#34449c"/><rect x="135.98" y="515.49" width="1.1" height="1.1" fill="#34449c"/><rect x="137.1" y="518.28" width="1.1" height="1.1" fill="#34449c"/><rect x="137.87" y="512.77" width="1.1" height="1.1" fill="#34449c"/><rect x="133.96" y="509.13" width="1.1" height="1.1" fill="#34449c"/><rect x="134.84" y="511.43" width="1.1" height="1.1" fill="#34449c"/><rect x="134.46" y="519.85" width="1.1" height="1.1" fill="#34449c"/><rect x="134.25" y="518.02" width="1.1" height="1.1" fill="#34449c"/><rect x="135.28" y="516.38" width="1.1" height="1.1" fill="#34449c"/><rect x="133.37" y="512.96" width="1.1" height="1.1" fill="#34449c"/><rect x="138.97" y="516.74" width="1.1" height="1.1" fill="#34449c"/><rect x="139.79" y="517.24" width="1.1" height="1.1" fill="#34449c"/><rect x="127.46" y="512.13" width="1.1" height="1.1" fill="#34449c"/><rect x="138.68" y="519.61" width="1.1" height="1.1" fill="#34449c"/><rect x="136.75" y="512.54" width="1.1" height="1.1" fill="#34449c"/><rect x="131.79" y="516.93" width="1.1" height="1.1" fill="#34449c"/>
<rect x="130.69" y="511.65" width="1.1" height="1.1" fill="#34449c"/><rect x="148.68" y="517.18" width="1.1" height="1.1" fill="#34449c"/><rect x="148.79" y="506.49" width="1.1" height="1.1" fill="#34449c"/><rect x="143.35" y="515.11" width="1.1" height="1.1" fill="#34449c"/><rect x="135.29" y="509.17" width="1.1" height="1.1" fill="#34449c"/><rect x="143.52" y="510.47" width="1.1" height="1.1" fill="#34449c"/><rect x="148.92" y="510.11" width="1.1" height="1.1" fill="#34449c"/><rect x="147.82" y="514.65" width="1.1" height="1.1" fill="#34449c"/><rect x="136.9" y="514.83" width="1.1" height="1.1" fill="#34449c"/><rect x="148.6" y="514.92" width="1.1" height="1.1" fill="#34449c"/><rect x="134.55" y="507.72" width="1.1" height="1.1" fill="#34449c"/><rect x="141.65" y="515.39" width="1.1" height="1.1" fill="#34449c"/><rect x="142.04" y="509.12" width="1.1" height="1.1" fill="#34449c"/><rect x="143.01" y="514.76" width="1.1" height="1.1" fill="#34449c"/>
<rect x="130.32" y="525.85" width="1.1" height="1.1" fill="#3f7fc8"/><rect x="130.33" y="521.28" width="1.1" height="1.1" fill="#3f7fc8"/><rect x="137.56" y="524.88" width="1.1" height="1.1" fill="#3f7fc8"/><rect x="132.52" y="523.72" width="1.1" height="1.1" fill="#3f7fc8"/><rect x="133.67" y="525.65" width="1.1" height="1.1" fill="#3f7fc8"/><rect x="130.72" y="523.24" width="1.1" height="1.1" fill="#3f7fc8"/><rect x="129.29" y="525.87" width="1.1" height="1.1" fill="#3f7fc8"/><rect x="130.04" y="524.18" width="1.1" height="1.1" fill="#3f7fc8"/><rect x="131.55" y="521.89" width="1.1" height="1.1" fill="#3f7fc8"/><rect x="133.13" y="524.96" width="1.1" height="1.1" fill="#3f7fc8"/><rect x="129" y="524.96" width="1.1" height="1.1" fill="#3f7fc8"/><rect x="134.62" y="523.37" width="1.1" height="1.1" fill="#3f7fc8"/><rect x="134.38" y="526.1" width="1.1" height="1.1" fill="#3f7fc8"/><rect x="134.63" y="522.56" width="1.1" height="1.1" fill="#3f7fc8"/><rect x="132.97" y="524.87" width="1.1" height="1.1" fill="#3f7fc8"/><rect x="131.26" y="524.71" width="1.1" height="1.1" fill="#3f7fc8"/><rect x="131.25" y="526.59" width="1.1" height="1.1" fill="#3f7fc8"/><rect x="132.98" y="522.64" width="1.1" height="1.1" fill="#3f7fc8"/>
<rect x="134.43" y="524.14" width="1.1" height="1.1" fill="#6cbf4a"/><rect x="133.06" y="526" width="1.1" height="1.1" fill="#6cbf4a"/><rect x="130.59" y="528.17" width="1.1" height="1.1" fill="#6cbf4a"/><rect x="130.92" y="525.45" width="1.1" height="1.1" fill="#6cbf4a"/><rect x="134.68" y="522.78" width="1.1" height="1.1" fill="#6cbf4a"/><rect x="131.2" y="525.75" width="1.1" height="1.1" fill="#6cbf4a"/><rect x="131.9" y="525.35" width="1.1" height="1.1" fill="#6cbf4a"/><rect x="131.9" y="524.84" width="1.1" height="1.1" fill="#6cbf4a"/><rect x="135.27" y="524.97" width="1.1" height="1.1" fill="#6cbf4a"/><rect x="130.41" y="526.03" width="1.1" height="1.1" fill="#6cbf4a"/><rect x="132.55" y="524.55" width="1.1" height="1.1" fill="#6cbf4a"/><rect x="130.67" y="523.03" width="1.1" height="1.1" fill="#6cbf4a"/><rect x="128.66" y="524.83" width="1.1" height="1.1" fill="#6cbf4a"/><rect x="132.12" y="525.12" width="1.1" height="1.1" fill="#6cbf4a"/><rect x="132.81" y="528.78" width="1.1" height="1.1" fill="#6cbf4a"/><rect x="131.32" y="525.89" width="1.1" height="1.1" fill="#6cbf4a"/>
<rect x="132.32" y="525.85" width="1.1" height="1.1" fill="#e3d33a"/><rect x="131.57" y="526.27" width="1.1" height="1.1" fill="#e3d33a"/><rect x="131.96" y="525.66" width="1.1" height="1.1" fill="#e3d33a"/><rect x="133.52" y="525.75" width="1.1" height="1.1" fill="#e3d33a"/><rect x="131.65" y="525.22" width="1.1" height="1.1" fill="#e3d33a"/><rect x="131.38" y="526" width="1.1" height="1.1" fill="#e3d33a"/>
<rect x="161.66" y="507.46" width="1.1" height="1.1" fill="#34449c"/><rect x="150.3" y="521.07" width="1.1" height="1.1" fill="#34449c"/><rect x="146.89" y="522.2" width="1.1" height="1.1" fill="#34449c"/>
<rect x="116.5" y="487.5" width="57" height="57" fill="none" stroke="#333" stroke-width="1"/>
<line x1="116.5" y1="522.5" x2="173.5" y2="522.5" stroke="#333" stroke-width="1"/>
<line x1="144.5" y1="522.5" x2="144.5" y2="544.5" stroke="#333" stroke-width="1"/>
<line x1="114.9" y1="500.49" x2="116.2" y2="500.49" stroke="#333" stroke-width="0.7"/><line x1="114.9" y1="513.37" x2="116.2" y2="513.37" stroke="#333" stroke-width="0.7"/><line x1="114.9" y1="526.26" x2="116.2" y2="526.26" stroke="#333" stroke-width="0.7"/><line x1="114.9" y1="539.15" x2="116.2" y2="539.15" stroke="#333" stroke-width="0.7"/><line x1="129.11" y1="544.3" x2="129.11" y2="545.6" stroke="#333" stroke-width="0.7"/><line x1="142.02" y1="544.3" x2="142.02" y2="545.6" stroke="#333" stroke-width="0.7"/><line x1="154.93" y1="544.3" x2="154.93" y2="545.6" stroke="#333" stroke-width="0.7"/><line x1="167.84" y1="544.3" x2="167.84" y2="545.6" stroke="#333" stroke-width="0.7"/>
<text x="118.1" y="494" font-size="6.0" text-anchor="start" >S</text>
<text x="118.1" y="500.7" font-size="6.0" text-anchor="start" >13.2</text>
<text x="118.1" y="535.5" font-size="6.0" text-anchor="start" >G0/G1</text>
<text x="118.1" y="542.7" font-size="6.0" text-anchor="start" >85.8</text>
<text x="170.7" y="535.5" font-size="6.0" text-anchor="end" >G2/M</text>
<text x="170.7" y="542.7" font-size="6.0" text-anchor="end" >1.00</text>
<rect x="215.96" y="503.97" width="1.1" height="1.1" fill="#34449c"/><rect x="212.85" y="509.04" width="1.1" height="1.1" fill="#34449c"/><rect x="210.06" y="501.33" width="1.1" height="1.1" fill="#34449c"/><rect x="207.42" y="510.45" width="1.1" height="1.1" fill="#34449c"/><rect x="220.81" y="508.81" width="1.1" height="1.1" fill="#34449c"/><rect x="216.98" y="511.19" width="1.1" height="1.1" fill="#34449c"/><rect x="208.54" y="504.44" width="1.1" height="1.1" fill="#34449c"/><rect x="206.33" y="507.21" width="1.1" height="1.1" fill="#34449c"/><rect x="214.28" y="509.35" width="1.1" height="1.1" fill="#34449c"/><rect x="208.36" y="509.01" width="1.1" height="1.1" fill="#34449c"/><rect x="215.07" y="507.28" width="1.1" height="1.1" fill="#34449c"/><rect x="215.42" y="510.2" width="1.1" height="1.1" fill="#34449c"/><rect x="206.5" y="509.03" width="1.1" height="1.1" fill="#34449c"/><rect x="215.21" y="508.89" width="1.1" height="1.1" fill="#34449c"/><rect x="222.74" y="504.61" width="1.1" height="1.1" fill="#34449c"/><rect x="215.56" y="507.24" width="1.1" height="1.1" fill="#34449c"/><rect x="215.2" y="509.79" width="1.1" height="1.1" fill="#34449c"/><rect x="217.41" y="507.28" width="1.1" height="1.1" fill="#34449c"/><rect x="217.62" y="509.47" width="1.1" height="1.1" fill="#34449c"/><rect x="216.16" y="506.21" width="1.1" height="1.1" fill="#34449c"/><rect x="219.27" y="507.78" width="1.1" height="1.1" fill="#34449c"/><rect x="213.65" y="506.53" width="1.1" height="1.1" fill="#34449c"/><rect x="213.01" y="513.51" width="1.1" height="1.1" fill="#34449c"/><rect x="218.78" y="508" width="1.1" height="1.1" fill="#34449c"/><rect x="214.48" y="508.82" width="1.1" height="1.1" fill="#34449c"/><rect x="216.92" y="510.65" width="1.1" height="1.1" fill="#34449c"/><rect x="209.52" y="507.54" width="1.1" height="1.1" fill="#34449c"/><rect x="213.83" y="509.38" width="1.1" height="1.1" fill="#34449c"/><rect x="211.44" y="507.13" width="1.1" height="1.1" fill="#34449c"/><rect x="208.51" y="514.33" width="1.1" height="1.1" fill="#34449c"/><rect x="214.71" y="507.77" width="1.1" height="1.1" fill="#34449c"/><rect x="226.97" y="506.03" width="1.1" height="1.1" fill="#34449c"/><rect x="205.62" y="513.08" width="1.1" height="1.1" fill="#34449c"/><rect x="223.43" y="511.92" width="1.1" height="1.1" fill="#34449c"/><rect x="219.82" y="512.97" width="1.1" height="1.1" fill="#34449c"/><rect x="210.34" y="501.61" width="1.1" height="1.1" fill="#34449c"/><rect x="213.25" y="511.94" width="1.1" height="1.1" fill="#34449c"/><rect x="217.61" y="507.49" width="1.1" height="1.1" fill="#34449c"/><rect x="217.69" y="511.35" width="1.1" height="1.1" fill="#34449c"/><rect x="216.41" y="508.74" width="1.1" height="1.1" fill="#34449c"/><rect x="219.56" y="508.28" width="1.1" height="1.1" fill="#34449c"/><rect x="212.4" y="505.46" width="1.1" height="1.1" fill="#34449c"/><rect x="214.56" y="507.63" width="1.1" height="1.1" fill="#34449c"/><rect x="220.11" y="510.2" width="1.1" height="1.1" fill="#34449c"/><rect x="215.79" y="508.41" width="1.1" height="1.1" fill="#34449c"/><rect x="221.5" y="509.58" width="1.1" height="1.1" fill="#34449c"/><rect x="220.54" y="507.2" width="1.1" height="1.1" fill="#34449c"/><rect x="218.38" y="508.1" width="1.1" height="1.1" fill="#34449c"/><rect x="212.02" y="503.46" width="1.1" height="1.1" fill="#34449c"/><rect x="216.78" y="511.09" width="1.1" height="1.1" fill="#34449c"/><rect x="220.91" y="508.83" width="1.1" height="1.1" fill="#34449c"/><rect x="215.59" y="504.7" width="1.1" height="1.1" fill="#34449c"/><rect x="216.12" y="506.01" width="1.1" height="1.1" fill="#34449c"/><rect x="212.81" y="505.27" width="1.1" height="1.1" fill="#34449c"/><rect x="213.98" y="507.36" width="1.1" height="1.1" fill="#34449c"/><rect x="209.33" y="509.16" width="1.1" height="1.1" fill="#34449c"/><rect x="215.96" y="511.61" width="1.1" height="1.1" fill="#34449c"/><rect x="220.08" y="508.39" width="1.1" height="1.1" fill="#34449c"/><rect x="221.51" y="506.55" width="1.1" height="1.1" fill="#34449c"/><rect x="206.2" y="507.81" width="1.1" height="1.1" fill="#34449c"/><rect x="213.51" y="504.86" width="1.1" height="1.1" fill="#34449c"/><rect x="208.85" y="512.1" width="1.1" height="1.1" fill="#34449c"/><rect x="210.56" y="506.74" width="1.1" height="1.1" fill="#34449c"/><rect x="213.58" y="509.21" width="1.1" height="1.1" fill="#34449c"/><rect x="217.65" y="511.61" width="1.1" height="1.1" fill="#34449c"/><rect x="207.76" y="506.89" width="1.1" height="1.1" fill="#34449c"/><rect x="211.14" y="508.91" width="1.1" height="1.1" fill="#34449c"/><rect x="212.14" y="507.29" width="1.1" height="1.1" fill="#34449c"/><rect x="221.66" y="507.07" width="1.1" height="1.1" fill="#34449c"/><rect x="213.73" y="511.16" width="1.1" height="1.1" fill="#34449c"/><rect x="221.41" y="502.17" width="1.1" height="1.1" fill="#34449c"/><rect x="212.51" y="502.51" width="1.1" height="1.1" fill="#34449c"/><rect x="216.91" y="505.49" width="1.1" height="1.1" fill="#34449c"/><rect x="210.97" y="509.59" width="1.1" height="1.1" fill="#34449c"/><rect x="221.15" y="509.25" width="1.1" height="1.1" fill="#34449c"/><rect x="207.82" y="506.42" width="1.1" height="1.1" fill="#34449c"/><rect x="208.7" y="514.61" width="1.1" height="1.1" fill="#34449c"/><rect x="214.97" y="504.31" width="1.1" height="1.1" fill="#34449c"/><rect x="216.88" y="514.57" width="1.1" height="1.1" fill="#34449c"/><rect x="212.77" y="504.36" width="1.1" height="1.1" fill="#34449c"/><rect x="216.44" y="509.8" width="1.1" height="1.1" fill="#34449c"/><rect x="218.76" y="514.02" width="1.1" height="1.1" fill="#34449c"/><rect x="208.78" y="509.58" width="1.1" height="1.1" fill="#34449c"/><rect x="212.42" y="503.19" width="1.1" height="1.1" fill="#34449c"/><rect x="214.65" y="509.88" width="1.1" height="1.1" fill="#34449c"/><rect x="217.83" y="507.67" width="1.1" height="1.1" fill="#34449c"/><rect x="219.95" y="508.03" width="1.1" height="1.1" fill="#34449c"/><rect x="219.2" y="508.35" width="1.1" height="1.1" fill="#34449c"/><rect x="215.87" y="505.15" width="1.1" height="1.1" fill="#34449c"/><rect x="216.56" y="508.9" width="1.1" height="1.1" fill="#34449c"/><rect x="221.03" y="509.16" width="1.1" height="1.1" fill="#34449c"/><rect x="210.81" y="511.2" width="1.1" height="1.1" fill="#34449c"/><rect x="218" y="509.68" width="1.1" height="1.1" fill="#34449c"/><rect x="211.58" y="507.2" width="1.1" height="1.1" fill="#34449c"/><rect x="214.18" y="505.96" width="1.1" height="1.1" fill="#34449c"/><rect x="215.42" y="503.84" width="1.1" height="1.1" fill="#34449c"/><rect x="209.34" y="510.34" width="1.1" height="1.1" fill="#34449c"/><rect x="209.56" y="513.27" width="1.1" height="1.1" fill="#34449c"/><rect x="215.19" y="505.71" width="1.1" height="1.1" fill="#34449c"/><rect x="219.16" y="504.81" width="1.1" height="1.1" fill="#34449c"/><rect x="220.09" y="504.67" width="1.1" height="1.1" fill="#34449c"/><rect x="220.27" y="506.2" width="1.1" height="1.1" fill="#34449c"/><rect x="211.25" y="511.86" width="1.1" height="1.1" fill="#34449c"/><rect x="220.35" y="506.49" width="1.1" height="1.1" fill="#34449c"/><rect x="214.08" y="504.25" width="1.1" height="1.1" fill="#34449c"/><rect x="213.88" y="509.68" width="1.1" height="1.1" fill="#34449c"/><rect x="213.42" y="506.83" width="1.1" height="1.1" fill="#34449c"/><rect x="207.97" y="509.63" width="1.1" height="1.1" fill="#34449c"/><rect x="211.84" y="510.08" width="1.1" height="1.1" fill="#34449c"/><rect x="221.32" y="507.22" width="1.1" height="1.1" fill="#34449c"/>
<rect x="201.87" y="511.91" width="1.1" height="1.1" fill="#34449c"/><rect x="204" y="508.76" width="1.1" height="1.1" fill="#34449c"/><rect x="202.25" y="502.95" width="1.1" height="1.1" fill="#34449c"/><rect x="205.21" y="510.12" width="1.1" height="1.1" fill="#34449c"/><rect x="208.57" y="510.02" width="1.1" height="1.1" fill="#34449c"/><rect x="204.49" y="513.62" width="1.1" height="1.1" fill="#34449c"/><rect x="204.09" y="517.82" width="1.1" height="1.1" fill="#34449c"/><rect x="203.71" y="512.6" width="1.1" height="1.1" fill="#34449c"/><rect x="205.23" y="512.1" width="1.1" height="1.1" fill="#34449c"/><rect x="206.14" y="508.62" width="1.1" height="1.1" fill="#34449c"/><rect x="205.91" y="505.67" width="1.1" height="1.1" fill="#34449c"/><rect x="202.92" y="508.92" width="1.1" height="1.1" fill="#34449c"/><rect x="201.74" y="512.25" width="1.1" height="1.1" fill="#34449c"/><rect x="203.97" y="513.41" width="1.1" height="1.1" fill="#34449c"/><rect x="199.17" y="518.97" width="1.1" height="1.1" fill="#34449c"/><rect x="203.8" y="511.17" width="1.1" height="1.1" fill="#34449c"/><rect x="202.03" y="516.12" width="1.1" height="1.1" fill="#34449c"/><rect x="200" y="511.89" width="1.1" height="1.1" fill="#34449c"/><rect x="205.21" y="510.33" width="1.1" height="1.1" fill="#34449c"/><rect x="200.9" y="508.14" width="1.1" height="1.1" fill="#34449c"/><rect x="205.97" y="512.8" width="1.1" height="1.1" fill="#34449c"/><rect x="207.51" y="516.28" width="1.1" height="1.1" fill="#34449c"/><rect x="208.47" y="506.2" width="1.1" height="1.1" fill="#34449c"/><rect x="206.29" y="508.31" width="1.1" height="1.1" fill="#34449c"/><rect x="200.35" y="508.58" width="1.1" height="1.1" fill="#34449c"/><rect x="202.85" y="516.92" width="1.1" height="1.1" fill="#34449c"/><rect x="206.06" y="515.24" width="1.1" height="1.1" fill="#34449c"/><rect x="198.35" y="520" width="1.1" height="1.1" fill="#34449c"/><rect x="205.02" y="517.01" width="1.1" height="1.1" fill="#34449c"/><rect x="205.16" y="513.08" width="1.1" height="1.1" fill="#34449c"/><rect x="199.5" y="512.02" width="1.1" height="1.1" fill="#34449c"/><rect x="193.99" y="510.77" width="1.1" height="1.1" fill="#34449c"/><rect x="199.31" y="513.41" width="1.1" height="1.1" fill="#34449c"/><rect x="205.3" y="511.1" width="1.1" height="1.1" fill="#34449c"/><rect x="204.25" y="510.47" width="1.1" height="1.1" fill="#34449c"/><rect x="208.25" y="508" width="1.1" height="1.1" fill="#34449c"/><rect x="205.34" y="504.86" width="1.1" height="1.1" fill="#34449c"/><rect x="205.4" y="513.02" width="1.1" height="1.1" fill="#34449c"/><rect x="202.94" y="513.28" width="1.1" height="1.1" fill="#34449c"/><rect x="205.83" y="511.25" width="1.1" height="1.1" fill="#34449c"/><rect x="204.64" y="518.9" width="1.1" height="1.1" fill="#34449c"/><rect x="209.29" y="517.52" width="1.1" height="1.1" fill="#34449c"/><rect x="201.51" y="516.51" width="1.1" height="1.1" fill="#34449c"/><rect x="204.72" y="511.24" width="1.1" height="1.1" fill="#34449c"/><rect x="203.93" y="516.45" width="1.1" height="1.1" fill="#34449c"/><rect x="203.29" y="509.38" width="1.1" height="1.1" fill="#34449c"/><rect x="201.98" y="513.84" width="1.1" height="1.1" fill="#34449c"/><rect x="201.02" y="510.37" width="1.1" height="1.1" fill="#34449c"/><rect x="203.81" y="512.21" width="1.1" height="1.1" fill="#34449c"/><rect x="196.39" y="509.15" width="1.1" height="1.1" fill="#34449c"/><rect x="204.19" y="515.48" width="1.1" height="1.1" fill="#34449c"/><rect x="204.3" y="510.35" width="1.1" height="1.1" fill="#34449c"/><rect x="200.54" y="512.3" width="1.1" height="1.1" fill="#34449c"/><rect x="205.52" y="515.66" width="1.1" height="1.1" fill="#34449c"/><rect x="205.47" y="507.21" width="1.1" height="1.1" fill="#34449c"/><rect x="204.05" y="517.87" width="1.1" height="1.1" fill="#34449c"/><rect x="206.02" y="512.49" width="1.1" height="1.1" fill="#34449c"/><rect x="203.79" y="510.45" width="1.1" height="1.1" fill="#34449c"/><rect x="203.93" y="514.58" width="1.1" height="1.1" fill="#34449c"/><rect x="199.67" y="509.77" width="1.1" height="1.1" fill="#34449c"/>
<rect x="206.75" y="516.42" width="1.1" height="1.1" fill="#34449c"/><rect x="205.93" y="518.49" width="1.1" height="1.1" fill="#34449c"/><rect x="207.81" y="520.58" width="1.1" height="1.1" fill="#34449c"/><rect x="209.75" y="519.26" width="1.1" height="1.1" fill="#34449c"/><rect x="210.28" y="517.55" width="1.1" height="1.1" fill="#34449c"/><rect x="210.67" y="517.46" width="1.1" height="1.1" fill="#34449c"/><rect x="214.09" y="518.05" width="1.1" height="1.1" fill="#34449c"/><rect x="208.2" y="518.66" width="1.1" height="1.1" fill="#34449c"/><rect x="207.57" y="518.87" width="1.1" height="1.1" fill="#34449c"/><rect x="204.94" y="517.95" width="1.1" height="1.1" fill="#34449c"/><rect x="210.73" y="521.42" width="1.1" height="1.1" fill="#34449c"/><rect x="206.35" y="521.75" width="1.1" height="1.1" fill="#34449c"/><rect x="206.54" y="518.61" width="1.1" height="1.1" fill="#34449c"/><rect x="203.92" y="519.83" width="1.1" height="1.1" fill="#34449c"/><rect x="215.96" y="516.54" width="1.1" height="1.1" fill="#34449c"/><rect x="207.5" y="521.5" width="1.1" height="1.1" fill="#34449c"/><rect x="204.65" y="519.89" width="1.1" height="1.1" fill="#34449c"/><rect x="215.46" y="517.87" width="1.1" height="1.1" fill="#34449c"/><rect x="211.29" y="523.21" width="1.1" height="1.1" fill="#34449c"/><rect x="212.24" y="515.53" width="1.1" height="1.1" fill="#34449c"/><rect x="207.39" y="519.57" width="1.1" height="1.1" fill="#34449c"/><rect x="207.16" y="518" width="1.1" height="1.1" fill="#34449c"/><rect x="207.63" y="518.27" width="1.1" height="1.1" fill="#34449c"/><rect x="206.4" y="518.96" width="1.1" height="1.1" fill="#34449c"/><rect x="205.56" y="518.48" width="1.1" height="1.1" fill="#34449c"/><rect x="215.21" y="520.96" width="1.1" height="1.1" fill="#34449c"/><rect x="208.09" y="516.1" width="1.1" height="1.1" fill="#34449c"/><rect x="205.67" y="521.25" width="1.1" height="1.1" fill="#34449c"/><rect x="205.42" y="518.71" width="1.1" height="1.1" fill="#34449c"/><rect x="207.23" y="518.38" width="1.1" height="1.1" fill="#34449c"/><rect x="209.8" y="521" width="1.1" height="1.1" fill="#34449c"/><rect x="202.66" y="519.24" width="1.1" height="1.1" fill="#34449c"/><rect x="206.71" y="516.5" width="1.1" height="1.1" fill="#34449c"/><rect x="200.76" y="521.33" width="1.1" height="1.1" fill="#34449c"/><rect x="203.49" y="518.9" width="1.1" height="1.1" fill="#34449c"/><rect x="209.31" y="523.04" width="1.1" height="1.1" fill="#34449c"/><rect x="214.82" y="520.65" width="1.1" height="1.1" fill="#34449c"/><rect x="200.97" y="512.47" width="1.1" height="1.1" fill="#34449c"/><rect x="210.78" y="517.16" width="1.1" height="1.1" fill="#34449c"/><rect x="206.52" y="517.28" width="1.1" height="1.1" fill="#34449c"/>
<rect x="202.22" y="528.72" width="1.1" height="1.1" fill="#3f7fc8"/><rect x="200.25" y="526.95" width="1.1" height="1.1" fill="#3f7fc8"/><rect x="206.12" y="525.64" width="1.1" height="1.1" fill="#3f7fc8"/><rect x="207.22" y="523.9" width="1.1" height="1.1" fill="#3f7fc8"/><rect x="204.46" y="523.67" width="1.1" height="1.1" fill="#3f7fc8"/><rect x="206.78" y="526.98" width="1.1" height="1.1" fill="#3f7fc8"/><rect x="200.19" y="525.43" width="1.1" height="1.1" fill="#3f7fc8"/><rect x="208.29" y="525.45" width="1.1" height="1.1" fill="#3f7fc8"/><rect x="203.1" y="523.63" width="1.1" height="1.1" fill="#3f7fc8"/><rect x="211.8" y="527.83" width="1.1" height="1.1" fill="#3f7fc8"/><rect x="197.15" y="527.43" width="1.1" height="1.1" fill="#3f7fc8"/><rect x="206.6" y="524.75" width="1.1" height="1.1" fill="#3f7fc8"/><rect x="200.56" y="524.41" width="1.1" height="1.1" fill="#3f7fc8"/><rect x="203.94" y="524.52" width="1.1" height="1.1" fill="#3f7fc8"/><rect x="205.44" y="526.5" width="1.1" height="1.1" fill="#3f7fc8"/><rect x="198.91" y="528.31" width="1.1" height="1.1" fill="#3f7fc8"/><rect x="200.25" y="526.59" width="1.1" height="1.1" fill="#3f7fc8"/><rect x="206.6" y="525.58" width="1.1" height="1.1" fill="#3f7fc8"/><rect x="198.09" y="527.72" width="1.1" height="1.1" fill="#3f7fc8"/><rect x="200.76" y="527.45" width="1.1" height="1.1" fill="#3f7fc8"/><rect x="206.26" y="521.73" width="1.1" height="1.1" fill="#3f7fc8"/><rect x="207.23" y="526.37" width="1.1" height="1.1" fill="#3f7fc8"/><rect x="206.79" y="524.72" width="1.1" height="1.1" fill="#3f7fc8"/><rect x="206.86" y="527.86" width="1.1" height="1.1" fill="#3f7fc8"/>
<rect x="205.62" y="527.5" width="1.1" height="1.1" fill="#6cbf4a"/><rect x="206.12" y="524.06" width="1.1" height="1.1" fill="#6cbf4a"/><rect x="204.12" y="524.98" width="1.1" height="1.1" fill="#6cbf4a"/><rect x="201.54" y="525.19" width="1.1" height="1.1" fill="#6cbf4a"/><rect x="203.95" y="527.83" width="1.1" height="1.1" fill="#6cbf4a"/><rect x="209.21" y="524.29" width="1.1" height="1.1" fill="#6cbf4a"/><rect x="200.62" y="525.74" width="1.1" height="1.1" fill="#6cbf4a"/><rect x="207.77" y="525.56" width="1.1" height="1.1" fill="#6cbf4a"/><rect x="202.67" y="526.36" width="1.1" height="1.1" fill="#6cbf4a"/><rect x="209.26" y="526.79" width="1.1" height="1.1" fill="#6cbf4a"/><rect x="207.81" y="525.86" width="1.1" height="1.1" fill="#6cbf4a"/><rect x="206.27" y="523.58" width="1.1" height="1.1" fill="#6cbf4a"/><rect x="206.97" y="526.22" width="1.1" height="1.1" fill="#6cbf4a"/><rect x="201.17" y="525.5" width="1.1" height="1.1" fill="#6cbf4a"/><rect x="206.16" y="526.93" width="1.1" height="1.1" fill="#6cbf4a"/><rect x="204.12" y="526.21" width="1.1" height="1.1" fill="#6cbf4a"/><rect x="204" y="523.97" width="1.1" height="1.1" fill="#6cbf4a"/><rect x="208.24" y="525.4" width="1.1" height="1.1" fill="#6cbf4a"/><rect x="205.74" y="524.3" width="1.1" height="1.1" fill="#6cbf4a"/><rect x="205.08" y="526.87" width="1.1" height="1.1" fill="#6cbf4a"/>
<rect x="204.3" y="527.13" width="1.1" height="1.1" fill="#e3d33a"/><rect x="204.3" y="525.15" width="1.1" height="1.1" fill="#e3d33a"/><rect x="204.24" y="526.24" width="1.1" height="1.1" fill="#e3d33a"/><rect x="202.16" y="525.14" width="1.1" height="1.1" fill="#e3d33a"/><rect x="202.13" y="525.81" width="1.1" height="1.1" fill="#e3d33a"/><rect x="204.41" y="527.44" width="1.1" height="1.1" fill="#e3d33a"/><rect x="203.5" y="527.08" width="1.1" height="1.1" fill="#e3d33a"/><rect x="203.37" y="525.79" width="1.1" height="1.1" fill="#e3d33a"/><rect x="203.67" y="525.57" width="1.1" height="1.1" fill="#e3d33a"/><rect x="205.57" y="524.98" width="1.1" height="1.1" fill="#e3d33a"/><rect x="202.96" y="524.28" width="1.1" height="1.1" fill="#e3d33a"/><rect x="206.94" y="525.7" width="1.1" height="1.1" fill="#e3d33a"/><rect x="204.92" y="527.6" width="1.1" height="1.1" fill="#e3d33a"/><rect x="204.45" y="526.53" width="1.1" height="1.1" fill="#e3d33a"/><rect x="204.57" y="525.49" width="1.1" height="1.1" fill="#e3d33a"/><rect x="203.7" y="525.57" width="1.1" height="1.1" fill="#e3d33a"/>
<rect x="202.65" y="526.32" width="1.1" height="1.1" fill="#f0902a"/><rect x="204.45" y="525.27" width="1.1" height="1.1" fill="#f0902a"/><rect x="203.95" y="525.96" width="1.1" height="1.1" fill="#f0902a"/><rect x="202.48" y="525.51" width="1.1" height="1.1" fill="#f0902a"/><rect x="202.96" y="526.58" width="1.1" height="1.1" fill="#f0902a"/><rect x="200.7" y="525.9" width="1.1" height="1.1" fill="#f0902a"/><rect x="203.88" y="526.47" width="1.1" height="1.1" fill="#f0902a"/><rect x="202.13" y="526.28" width="1.1" height="1.1" fill="#f0902a"/><rect x="203.6" y="526.38" width="1.1" height="1.1" fill="#f0902a"/><rect x="204.67" y="526.09" width="1.1" height="1.1" fill="#f0902a"/><rect x="201.63" y="527.04" width="1.1" height="1.1" fill="#f0902a"/><rect x="203.91" y="525.98" width="1.1" height="1.1" fill="#f0902a"/>
<rect x="202.94" y="526.46" width="1.1" height="1.1" fill="#d8342a"/><rect x="201.25" y="525.39" width="1.1" height="1.1" fill="#d8342a"/><rect x="202.51" y="525.11" width="1.1" height="1.1" fill="#d8342a"/><rect x="201.83" y="525.84" width="1.1" height="1.1" fill="#d8342a"/><rect x="202.25" y="526.24" width="1.1" height="1.1" fill="#d8342a"/><rect x="201.26" y="526.34" width="1.1" height="1.1" fill="#d8342a"/>
<rect x="233" y="505.19" width="1.1" height="1.1" fill="#34449c"/><rect x="226.75" y="509.73" width="1.1" height="1.1" fill="#34449c"/><rect x="223.91" y="510.86" width="1.1" height="1.1" fill="#34449c"/><rect x="219.37" y="527.87" width="1.1" height="1.1" fill="#34449c"/><rect x="221.64" y="526.74" width="1.1" height="1.1" fill="#34449c"/><rect x="217.09" y="529.58" width="1.1" height="1.1" fill="#34449c"/>
<rect x="184.5" y="487.5" width="57" height="57" fill="none" stroke="#333" stroke-width="1"/>
<line x1="184.5" y1="522.5" x2="241.5" y2="522.5" stroke="#333" stroke-width="1"/>
<line x1="212.5" y1="522.5" x2="212.5" y2="544.5" stroke="#333" stroke-width="1"/>
<line x1="183.4" y1="500.49" x2="184.7" y2="500.49" stroke="#333" stroke-width="0.7"/><line x1="183.4" y1="513.37" x2="184.7" y2="513.37" stroke="#333" stroke-width="0.7"/><line x1="183.4" y1="526.26" x2="184.7" y2="526.26" stroke="#333" stroke-width="0.7"/><line x1="183.4" y1="539.15" x2="184.7" y2="539.15" stroke="#333" stroke-width="0.7"/><line x1="197.61" y1="544.3" x2="197.61" y2="545.6" stroke="#333" stroke-width="0.7"/><line x1="210.52" y1="544.3" x2="210.52" y2="545.6" stroke="#333" stroke-width="0.7"/><line x1="223.43" y1="544.3" x2="223.43" y2="545.6" stroke="#333" stroke-width="0.7"/><line x1="236.34" y1="544.3" x2="236.34" y2="545.6" stroke="#333" stroke-width="0.7"/>
<text x="186.6" y="494" font-size="6.0" text-anchor="start" >S</text>
<text x="186.6" y="500.7" font-size="6.0" text-anchor="start" >39.7</text>
<text x="186.6" y="535.5" font-size="6.0" text-anchor="start" >G0/G1</text>
<text x="186.6" y="542.7" font-size="6.0" text-anchor="start" >59.9</text>
<text x="239.2" y="535.5" font-size="6.0" text-anchor="end" >G2/M</text>
<text x="239.2" y="542.7" font-size="6.0" text-anchor="end" >0.46</text>
<rect x="78.47" y="581.23" width="1.1" height="1.1" fill="#34449c"/><rect x="88" y="577.17" width="1.1" height="1.1" fill="#34449c"/><rect x="72.45" y="571.49" width="1.1" height="1.1" fill="#34449c"/><rect x="75.84" y="571.78" width="1.1" height="1.1" fill="#34449c"/><rect x="71.54" y="579.16" width="1.1" height="1.1" fill="#34449c"/><rect x="81.24" y="583.7" width="1.1" height="1.1" fill="#34449c"/><rect x="71.22" y="572.31" width="1.1" height="1.1" fill="#34449c"/><rect x="71.4" y="577.27" width="1.1" height="1.1" fill="#34449c"/><rect x="71.64" y="582.63" width="1.1" height="1.1" fill="#34449c"/><rect x="83.98" y="585.92" width="1.1" height="1.1" fill="#34449c"/><rect x="75.63" y="585.29" width="1.1" height="1.1" fill="#34449c"/><rect x="76.99" y="582.69" width="1.1" height="1.1" fill="#34449c"/><rect x="91.18" y="575.53" width="1.1" height="1.1" fill="#34449c"/><rect x="76.59" y="571.28" width="1.1" height="1.1" fill="#34449c"/><rect x="85.73" y="578.63" width="1.1" height="1.1" fill="#34449c"/><rect x="85.61" y="571.38" width="1.1" height="1.1" fill="#34449c"/><rect x="68.3" y="582.09" width="1.1" height="1.1" fill="#34449c"/><rect x="75.71" y="585.72" width="1.1" height="1.1" fill="#34449c"/><rect x="86.54" y="573.75" width="1.1" height="1.1" fill="#34449c"/><rect x="90" y="582.62" width="1.1" height="1.1" fill="#34449c"/><rect x="82.9" y="585.32" width="1.1" height="1.1" fill="#34449c"/><rect x="92.86" y="582.74" width="1.1" height="1.1" fill="#34449c"/><rect x="90.85" y="581.55" width="1.1" height="1.1" fill="#34449c"/><rect x="83.07" y="576.39" width="1.1" height="1.1" fill="#34449c"/><rect x="82.5" y="577.02" width="1.1" height="1.1" fill="#34449c"/><rect x="76.71" y="581.62" width="1.1" height="1.1" fill="#34449c"/><rect x="91.02" y="573.34" width="1.1" height="1.1" fill="#34449c"/><rect x="70.35" y="580.06" width="1.1" height="1.1" fill="#34449c"/>
<rect x="85.83" y="574.56" width="1.1" height="1.1" fill="#34449c"/><rect x="88.37" y="573.61" width="1.1" height="1.1" fill="#34449c"/><rect x="93.92" y="574.83" width="1.1" height="1.1" fill="#34449c"/><rect x="93.07" y="575.1" width="1.1" height="1.1" fill="#34449c"/><rect x="84.34" y="572.92" width="1.1" height="1.1" fill="#34449c"/><rect x="93.52" y="572.63" width="1.1" height="1.1" fill="#34449c"/><rect x="91.85" y="575.49" width="1.1" height="1.1" fill="#34449c"/><rect x="82.52" y="570.73" width="1.1" height="1.1" fill="#34449c"/><rect x="84.44" y="574.63" width="1.1" height="1.1" fill="#34449c"/><rect x="87.85" y="573.55" width="1.1" height="1.1" fill="#34449c"/><rect x="94.98" y="576.04" width="1.1" height="1.1" fill="#34449c"/><rect x="88.91" y="576.57" width="1.1" height="1.1" fill="#34449c"/><rect x="88.74" y="579.2" width="1.1" height="1.1" fill="#34449c"/><rect x="82.62" y="576.78" width="1.1" height="1.1" fill="#34449c"/><rect x="88.06" y="574.7" width="1.1" height="1.1" fill="#34449c"/><rect x="93.99" y="575.22" width="1.1" height="1.1" fill="#34449c"/><rect x="86.57" y="568.7" width="1.1" height="1.1" fill="#34449c"/><rect x="94.19" y="575.58" width="1.1" height="1.1" fill="#34449c"/><rect x="94.34" y="570.01" width="1.1" height="1.1" fill="#34449c"/><rect x="87.32" y="575.71" width="1.1" height="1.1" fill="#34449c"/><rect x="81.58" y="572.64" width="1.1" height="1.1" fill="#34449c"/><rect x="92.76" y="579.56" width="1.1" height="1.1" fill="#34449c"/>
<rect x="74.13" y="589.53" width="1.1" height="1.1" fill="#34449c"/><rect x="82.28" y="586.55" width="1.1" height="1.1" fill="#34449c"/><rect x="81.57" y="588.18" width="1.1" height="1.1" fill="#34449c"/><rect x="84.18" y="588.56" width="1.1" height="1.1" fill="#34449c"/><rect x="74.5" y="589.82" width="1.1" height="1.1" fill="#34449c"/><rect x="74.52" y="588.26" width="1.1" height="1.1" fill="#34449c"/><rect x="76.22" y="588.7" width="1.1" height="1.1" fill="#34449c"/><rect x="71.46" y="591.95" width="1.1" height="1.1" fill="#34449c"/><rect x="82.29" y="586.22" width="1.1" height="1.1" fill="#34449c"/><rect x="76.63" y="587.72" width="1.1" height="1.1" fill="#34449c"/><rect x="76.52" y="590.29" width="1.1" height="1.1" fill="#34449c"/><rect x="82.09" y="585.38" width="1.1" height="1.1" fill="#34449c"/><rect x="84.92" y="586.72" width="1.1" height="1.1" fill="#34449c"/><rect x="82.2" y="585.76" width="1.1" height="1.1" fill="#34449c"/><rect x="76.39" y="590.09" width="1.1" height="1.1" fill="#34449c"/><rect x="71.6" y="591.1" width="1.1" height="1.1" fill="#34449c"/>
<rect x="77.24" y="588.38" width="1.1" height="1.1" fill="#34449c"/><rect x="75.56" y="585.94" width="1.1" height="1.1" fill="#34449c"/><rect x="75.22" y="586.98" width="1.1" height="1.1" fill="#34449c"/><rect x="72.17" y="588.76" width="1.1" height="1.1" fill="#34449c"/><rect x="75.51" y="585.23" width="1.1" height="1.1" fill="#34449c"/><rect x="72.04" y="588.28" width="1.1" height="1.1" fill="#34449c"/><rect x="78.56" y="586.78" width="1.1" height="1.1" fill="#34449c"/><rect x="73.94" y="588.72" width="1.1" height="1.1" fill="#34449c"/><rect x="75.36" y="590.8" width="1.1" height="1.1" fill="#34449c"/><rect x="76.85" y="588.53" width="1.1" height="1.1" fill="#34449c"/>
<rect x="70.84" y="590.3" width="1.2" height="1.2" fill="#f0902a"/><rect x="72.21" y="590.53" width="1.2" height="1.2" fill="#f0902a"/><rect x="72.4" y="590.37" width="1.2" height="1.2" fill="#f0902a"/><rect x="71.4" y="590.74" width="1.2" height="1.2" fill="#f0902a"/><rect x="70.69" y="590.54" width="1.2" height="1.2" fill="#f0902a"/><rect x="68.13" y="592.32" width="1.2" height="1.2" fill="#f0902a"/><rect x="68.63" y="592.22" width="1.2" height="1.2" fill="#f0902a"/><rect x="70.26" y="590.91" width="1.2" height="1.2" fill="#f0902a"/>
<rect x="47.5" y="553.5" width="57" height="57" fill="none" stroke="#333" stroke-width="1"/>
<line x1="47.5" y1="588.5" x2="104.5" y2="588.5" stroke="#333" stroke-width="1"/>
<line x1="75.5" y1="588.5" x2="75.5" y2="610.5" stroke="#333" stroke-width="1"/>
<line x1="46" y1="566.49" x2="47.3" y2="566.49" stroke="#333" stroke-width="0.7"/><line x1="46" y1="579.37" x2="47.3" y2="579.37" stroke="#333" stroke-width="0.7"/><line x1="46" y1="592.26" x2="47.3" y2="592.26" stroke="#333" stroke-width="0.7"/><line x1="46" y1="605.15" x2="47.3" y2="605.15" stroke="#333" stroke-width="0.7"/><line x1="60.21" y1="610.3" x2="60.21" y2="611.6" stroke="#333" stroke-width="0.7"/><line x1="73.12" y1="610.3" x2="73.12" y2="611.6" stroke="#333" stroke-width="0.7"/><line x1="86.03" y1="610.3" x2="86.03" y2="611.6" stroke="#333" stroke-width="0.7"/><line x1="98.94" y1="610.3" x2="98.94" y2="611.6" stroke="#333" stroke-width="0.7"/>
<text x="49.2" y="560" font-size="6.0" text-anchor="start" >S</text>
<text x="49.2" y="566.7" font-size="6.0" text-anchor="start" >37.1</text>
<text x="49.2" y="601.5" font-size="6.0" text-anchor="start" >G0/G1</text>
<text x="49.2" y="608.7" font-size="6.0" text-anchor="start" >48.5</text>
<text x="101.8" y="601.5" font-size="6.0" text-anchor="end" >G2/M</text>
<text x="101.8" y="608.7" font-size="6.0" text-anchor="end" >14.4</text>
<rect x="150.19" y="580.83" width="1.1" height="1.1" fill="#34449c"/><rect x="134.43" y="583.01" width="1.1" height="1.1" fill="#34449c"/><rect x="152.14" y="579.48" width="1.1" height="1.1" fill="#34449c"/><rect x="158.31" y="574.74" width="1.1" height="1.1" fill="#34449c"/><rect x="156.98" y="579.87" width="1.1" height="1.1" fill="#34449c"/><rect x="137.65" y="580.33" width="1.1" height="1.1" fill="#34449c"/><rect x="151.1" y="582.03" width="1.1" height="1.1" fill="#34449c"/><rect x="157.9" y="579.6" width="1.1" height="1.1" fill="#34449c"/><rect x="151.47" y="583.71" width="1.1" height="1.1" fill="#34449c"/><rect x="138.99" y="572.01" width="1.1" height="1.1" fill="#34449c"/><rect x="152.77" y="579.82" width="1.1" height="1.1" fill="#34449c"/><rect x="161.76" y="580.47" width="1.1" height="1.1" fill="#34449c"/><rect x="149.46" y="583.3" width="1.1" height="1.1" fill="#34449c"/><rect x="137.54" y="573.2" width="1.1" height="1.1" fill="#34449c"/><rect x="162.18" y="580.42" width="1.1" height="1.1" fill="#34449c"/><rect x="152.28" y="577.5" width="1.1" height="1.1" fill="#34449c"/><rect x="135.66" y="575.36" width="1.1" height="1.1" fill="#34449c"/><rect x="140.01" y="573.32" width="1.1" height="1.1" fill="#34449c"/><rect x="147.53" y="571.09" width="1.1" height="1.1" fill="#34449c"/><rect x="157.53" y="571.66" width="1.1" height="1.1" fill="#34449c"/><rect x="133.9" y="577.28" width="1.1" height="1.1" fill="#34449c"/><rect x="141.57" y="572.85" width="1.1" height="1.1" fill="#34449c"/><rect x="154.83" y="579.26" width="1.1" height="1.1" fill="#34449c"/><rect x="158.44" y="584.35" width="1.1" height="1.1" fill="#34449c"/><rect x="141.77" y="577.7" width="1.1" height="1.1" fill="#34449c"/><rect x="143.67" y="573.27" width="1.1" height="1.1" fill="#34449c"/><rect x="141.65" y="574.88" width="1.1" height="1.1" fill="#34449c"/><rect x="147.55" y="580.01" width="1.1" height="1.1" fill="#34449c"/><rect x="162.13" y="583.02" width="1.1" height="1.1" fill="#34449c"/><rect x="135.82" y="573.21" width="1.1" height="1.1" fill="#34449c"/>
<rect x="161.23" y="571.65" width="1.1" height="1.1" fill="#34449c"/><rect x="150.39" y="573.66" width="1.1" height="1.1" fill="#34449c"/><rect x="154.07" y="574.27" width="1.1" height="1.1" fill="#34449c"/><rect x="159.58" y="572.71" width="1.1" height="1.1" fill="#34449c"/><rect x="148.05" y="572.68" width="1.1" height="1.1" fill="#34449c"/><rect x="150.36" y="576.23" width="1.1" height="1.1" fill="#34449c"/><rect x="154.49" y="577.57" width="1.1" height="1.1" fill="#34449c"/><rect x="149.1" y="572.06" width="1.1" height="1.1" fill="#34449c"/><rect x="153.96" y="574.49" width="1.1" height="1.1" fill="#34449c"/><rect x="159.91" y="574.17" width="1.1" height="1.1" fill="#34449c"/><rect x="158.26" y="572.53" width="1.1" height="1.1" fill="#34449c"/><rect x="152.82" y="571.76" width="1.1" height="1.1" fill="#34449c"/><rect x="150.38" y="574.21" width="1.1" height="1.1" fill="#34449c"/><rect x="153.78" y="573.64" width="1.1" height="1.1" fill="#34449c"/><rect x="155.2" y="569.46" width="1.1" height="1.1" fill="#34449c"/><rect x="154.79" y="577.11" width="1.1" height="1.1" fill="#34449c"/><rect x="146" y="575.62" width="1.1" height="1.1" fill="#34449c"/><rect x="155.17" y="576.64" width="1.1" height="1.1" fill="#34449c"/><rect x="149.56" y="573.78" width="1.1" height="1.1" fill="#34449c"/><rect x="151.09" y="575.37" width="1.1" height="1.1" fill="#34449c"/><rect x="147.85" y="572.99" width="1.1" height="1.1" fill="#34449c"/><rect x="152.18" y="573.4" width="1.1" height="1.1" fill="#34449c"/><rect x="158.39" y="572.59" width="1.1" height="1.1" fill="#34449c"/><rect x="146.49" y="577.16" width="1.1" height="1.1" fill="#34449c"/>
<rect x="143.48" y="585.87" width="1.1" height="1.1" fill="#34449c"/><rect x="135.31" y="588.06" width="1.1" height="1.1" fill="#34449c"/><rect x="133.68" y="588.07" width="1.1" height="1.1" fill="#34449c"/><rect x="138.67" y="587.65" width="1.1" height="1.1" fill="#34449c"/><rect x="132.76" y="592" width="1.1" height="1.1" fill="#34449c"/><rect x="137.74" y="588.56" width="1.1" height="1.1" fill="#34449c"/><rect x="143.07" y="584.92" width="1.1" height="1.1" fill="#34449c"/><rect x="142.81" y="586.82" width="1.1" height="1.1" fill="#34449c"/><rect x="135.93" y="588.31" width="1.1" height="1.1" fill="#34449c"/><rect x="138.39" y="586.26" width="1.1" height="1.1" fill="#34449c"/><rect x="141.35" y="584.43" width="1.1" height="1.1" fill="#34449c"/><rect x="131.59" y="590.34" width="1.1" height="1.1" fill="#34449c"/><rect x="139.15" y="588.7" width="1.1" height="1.1" fill="#34449c"/><rect x="139.22" y="586.21" width="1.1" height="1.1" fill="#34449c"/><rect x="135.3" y="589.54" width="1.1" height="1.1" fill="#34449c"/><rect x="136.48" y="590.48" width="1.1" height="1.1" fill="#34449c"/>
<rect x="134.29" y="592.66" width="1.2" height="1.2" fill="#f0902a"/><rect x="137.67" y="591.86" width="1.2" height="1.2" fill="#f0902a"/><rect x="136.02" y="591.72" width="1.2" height="1.2" fill="#f0902a"/><rect x="134.23" y="592.31" width="1.2" height="1.2" fill="#f0902a"/><rect x="137.23" y="591.23" width="1.2" height="1.2" fill="#f0902a"/><rect x="132.84" y="593.4" width="1.2" height="1.2" fill="#f0902a"/><rect x="134.15" y="592.52" width="1.2" height="1.2" fill="#f0902a"/><rect x="136.08" y="592.15" width="1.2" height="1.2" fill="#f0902a"/>
<rect x="134.38" y="592.26" width="1.2" height="1.2" fill="#d8342a"/><rect x="135.76" y="591.46" width="1.2" height="1.2" fill="#d8342a"/><rect x="134.91" y="592.91" width="1.2" height="1.2" fill="#d8342a"/><rect x="134.44" y="592.71" width="1.2" height="1.2" fill="#d8342a"/>
<rect x="116.5" y="553.5" width="57" height="57" fill="none" stroke="#333" stroke-width="1"/>
<line x1="116.5" y1="588.5" x2="173.5" y2="588.5" stroke="#333" stroke-width="1"/>
<line x1="144.5" y1="588.5" x2="144.5" y2="610.5" stroke="#333" stroke-width="1"/>
<line x1="114.9" y1="566.49" x2="116.2" y2="566.49" stroke="#333" stroke-width="0.7"/><line x1="114.9" y1="579.37" x2="116.2" y2="579.37" stroke="#333" stroke-width="0.7"/><line x1="114.9" y1="592.26" x2="116.2" y2="592.26" stroke="#333" stroke-width="0.7"/><line x1="114.9" y1="605.15" x2="116.2" y2="605.15" stroke="#333" stroke-width="0.7"/><line x1="129.11" y1="610.3" x2="129.11" y2="611.6" stroke="#333" stroke-width="0.7"/><line x1="142.02" y1="610.3" x2="142.02" y2="611.6" stroke="#333" stroke-width="0.7"/><line x1="154.93" y1="610.3" x2="154.93" y2="611.6" stroke="#333" stroke-width="0.7"/><line x1="167.84" y1="610.3" x2="167.84" y2="611.6" stroke="#333" stroke-width="0.7"/>
<text x="118.1" y="560" font-size="6.0" text-anchor="start" >S</text>
<text x="118.1" y="566.7" font-size="6.0" text-anchor="start" >45.4</text>
<text x="118.1" y="601.5" font-size="6.0" text-anchor="start" >G0/G1</text>
<text x="118.1" y="608.7" font-size="6.0" text-anchor="start" >52.4</text>
<text x="170.7" y="601.5" font-size="6.0" text-anchor="end" >G2/M</text>
<text x="170.7" y="608.7" font-size="6.0" text-anchor="end" >2.18</text>
<rect x="218.71" y="581.18" width="1.1" height="1.1" fill="#34449c"/><rect x="225.73" y="569.67" width="1.1" height="1.1" fill="#34449c"/><rect x="222.4" y="570.87" width="1.1" height="1.1" fill="#34449c"/><rect x="210.75" y="579.21" width="1.1" height="1.1" fill="#34449c"/><rect x="232.13" y="575.43" width="1.1" height="1.1" fill="#34449c"/><rect x="224.25" y="570.62" width="1.1" height="1.1" fill="#34449c"/><rect x="211.76" y="572.52" width="1.1" height="1.1" fill="#34449c"/><rect x="211.3" y="578.59" width="1.1" height="1.1" fill="#34449c"/><rect x="213.35" y="574.75" width="1.1" height="1.1" fill="#34449c"/><rect x="210.93" y="571.36" width="1.1" height="1.1" fill="#34449c"/><rect x="217.46" y="575.29" width="1.1" height="1.1" fill="#34449c"/><rect x="216.41" y="575.8" width="1.1" height="1.1" fill="#34449c"/><rect x="223.43" y="570.93" width="1.1" height="1.1" fill="#34449c"/><rect x="222.41" y="570.17" width="1.1" height="1.1" fill="#34449c"/><rect x="224.61" y="579.05" width="1.1" height="1.1" fill="#34449c"/><rect x="230.99" y="579.87" width="1.1" height="1.1" fill="#34449c"/><rect x="223.11" y="580.7" width="1.1" height="1.1" fill="#34449c"/><rect x="225.58" y="577.17" width="1.1" height="1.1" fill="#34449c"/><rect x="210.97" y="569.47" width="1.1" height="1.1" fill="#34449c"/><rect x="215.55" y="580.08" width="1.1" height="1.1" fill="#34449c"/><rect x="230.17" y="579.19" width="1.1" height="1.1" fill="#34449c"/><rect x="220.73" y="571.35" width="1.1" height="1.1" fill="#34449c"/><rect x="218.2" y="580.64" width="1.1" height="1.1" fill="#34449c"/><rect x="215.13" y="579.88" width="1.1" height="1.1" fill="#34449c"/><rect x="223.61" y="575.66" width="1.1" height="1.1" fill="#34449c"/><rect x="215.57" y="572.33" width="1.1" height="1.1" fill="#34449c"/>
<rect x="223.92" y="577.62" width="1.1" height="1.1" fill="#34449c"/><rect x="227.66" y="573.95" width="1.1" height="1.1" fill="#34449c"/><rect x="222.09" y="571.98" width="1.1" height="1.1" fill="#34449c"/><rect x="231.91" y="582.45" width="1.1" height="1.1" fill="#34449c"/><rect x="219.77" y="579.69" width="1.1" height="1.1" fill="#34449c"/><rect x="218.14" y="572.01" width="1.1" height="1.1" fill="#34449c"/><rect x="220.11" y="575.32" width="1.1" height="1.1" fill="#34449c"/><rect x="217.47" y="575.46" width="1.1" height="1.1" fill="#34449c"/><rect x="226.97" y="574.95" width="1.1" height="1.1" fill="#34449c"/><rect x="219.47" y="569.38" width="1.1" height="1.1" fill="#34449c"/><rect x="232.54" y="576.01" width="1.1" height="1.1" fill="#34449c"/><rect x="226.66" y="574.65" width="1.1" height="1.1" fill="#34449c"/><rect x="221.88" y="574.43" width="1.1" height="1.1" fill="#34449c"/><rect x="225.07" y="572.76" width="1.1" height="1.1" fill="#34449c"/><rect x="220.95" y="575.38" width="1.1" height="1.1" fill="#34449c"/><rect x="224.01" y="572.77" width="1.1" height="1.1" fill="#34449c"/><rect x="217.11" y="571.01" width="1.1" height="1.1" fill="#34449c"/><rect x="227.93" y="573.51" width="1.1" height="1.1" fill="#34449c"/><rect x="225.7" y="573.13" width="1.1" height="1.1" fill="#34449c"/><rect x="222.27" y="576.27" width="1.1" height="1.1" fill="#34449c"/><rect x="223.37" y="570.6" width="1.1" height="1.1" fill="#34449c"/><rect x="226.34" y="577.56" width="1.1" height="1.1" fill="#34449c"/><rect x="223.72" y="572.25" width="1.1" height="1.1" fill="#34449c"/><rect x="223.09" y="573.91" width="1.1" height="1.1" fill="#34449c"/>
<rect x="212.89" y="579.76" width="1.1" height="1.1" fill="#34449c"/><rect x="209.64" y="587.6" width="1.1" height="1.1" fill="#34449c"/><rect x="203.66" y="588.55" width="1.1" height="1.1" fill="#34449c"/><rect x="208.3" y="583.74" width="1.1" height="1.1" fill="#34449c"/><rect x="205.73" y="586.92" width="1.1" height="1.1" fill="#34449c"/><rect x="213.06" y="581.38" width="1.1" height="1.1" fill="#34449c"/><rect x="207.32" y="585.33" width="1.1" height="1.1" fill="#34449c"/><rect x="207.55" y="586.75" width="1.1" height="1.1" fill="#34449c"/><rect x="208.38" y="586.84" width="1.1" height="1.1" fill="#34449c"/><rect x="207.16" y="583.52" width="1.1" height="1.1" fill="#34449c"/><rect x="214.47" y="581.33" width="1.1" height="1.1" fill="#34449c"/><rect x="208.54" y="586.62" width="1.1" height="1.1" fill="#34449c"/><rect x="204.89" y="588.06" width="1.1" height="1.1" fill="#34449c"/><rect x="205.45" y="592.67" width="1.1" height="1.1" fill="#34449c"/><rect x="211.24" y="585.41" width="1.1" height="1.1" fill="#34449c"/><rect x="206.47" y="591.87" width="1.1" height="1.1" fill="#34449c"/><rect x="209.63" y="583.33" width="1.1" height="1.1" fill="#34449c"/><rect x="208.83" y="586.38" width="1.1" height="1.1" fill="#34449c"/><rect x="210.43" y="585.43" width="1.1" height="1.1" fill="#34449c"/><rect x="209.19" y="586.24" width="1.1" height="1.1" fill="#34449c"/>
<rect x="203.2" y="593.49" width="1.2" height="1.2" fill="#c0304a"/><rect x="206.11" y="593.56" width="1.2" height="1.2" fill="#c0304a"/><rect x="205.07" y="594.04" width="1.2" height="1.2" fill="#c0304a"/><rect x="207.23" y="593.56" width="1.2" height="1.2" fill="#c0304a"/><rect x="203.89" y="594.37" width="1.2" height="1.2" fill="#c0304a"/><rect x="205.12" y="593.32" width="1.2" height="1.2" fill="#c0304a"/><rect x="206.31" y="593.78" width="1.2" height="1.2" fill="#c0304a"/><rect x="207.6" y="592.94" width="1.2" height="1.2" fill="#c0304a"/>
<rect x="210.38" y="592.18" width="1.1" height="1.1" fill="#4a3a8a"/><rect x="203.23" y="591.71" width="1.1" height="1.1" fill="#4a3a8a"/><rect x="208.42" y="592.79" width="1.1" height="1.1" fill="#4a3a8a"/><rect x="207.65" y="591.86" width="1.1" height="1.1" fill="#4a3a8a"/><rect x="206.43" y="592.27" width="1.1" height="1.1" fill="#4a3a8a"/><rect x="206.79" y="592.09" width="1.1" height="1.1" fill="#4a3a8a"/>
<rect x="184.5" y="553.5" width="57" height="57" fill="none" stroke="#333" stroke-width="1"/>
<line x1="184.5" y1="588.5" x2="241.5" y2="588.5" stroke="#333" stroke-width="1"/>
<line x1="212.5" y1="588.5" x2="212.5" y2="610.5" stroke="#333" stroke-width="1"/>
<line x1="183.4" y1="566.49" x2="184.7" y2="566.49" stroke="#333" stroke-width="0.7"/><line x1="183.4" y1="579.37" x2="184.7" y2="579.37" stroke="#333" stroke-width="0.7"/><line x1="183.4" y1="592.26" x2="184.7" y2="592.26" stroke="#333" stroke-width="0.7"/><line x1="183.4" y1="605.15" x2="184.7" y2="605.15" stroke="#333" stroke-width="0.7"/><line x1="197.61" y1="610.3" x2="197.61" y2="611.6" stroke="#333" stroke-width="0.7"/><line x1="210.52" y1="610.3" x2="210.52" y2="611.6" stroke="#333" stroke-width="0.7"/><line x1="223.43" y1="610.3" x2="223.43" y2="611.6" stroke="#333" stroke-width="0.7"/><line x1="236.34" y1="610.3" x2="236.34" y2="611.6" stroke="#333" stroke-width="0.7"/>
<text x="186.6" y="560" font-size="6.0" text-anchor="start" >S</text>
<text x="186.6" y="566.7" font-size="6.0" text-anchor="start" >56.1</text>
<text x="186.6" y="601.5" font-size="6.0" text-anchor="start" >G0/G1</text>
<text x="186.6" y="608.7" font-size="6.0" text-anchor="start" >39.0</text>
<text x="239.2" y="601.5" font-size="6.0" text-anchor="end" >G2/M</text>
<text x="239.2" y="608.7" font-size="6.0" text-anchor="end" >4.82</text>
<text transform="translate(21.8,344.8) rotate(-90) scale(1.0,1)" x="0" y="3.2" font-size="8.9" text-anchor="middle">WT</text>
<line x1="31.5" y1="318" x2="31.5" y2="372.8" stroke="#333" stroke-width="1.0"/>
<text transform="translate(22.4,410.5) rotate(-90) scale(1.0,1)" x="0" y="3.2" font-size="8.9" text-anchor="middle">CH</text>
<line x1="31.5" y1="384.4" x2="31.5" y2="437.5" stroke="#333" stroke-width="1.0"/>
<text transform="translate(22,515.2) rotate(-90) scale(1.0,1)" x="0" y="3.2" font-size="8.9" text-anchor="middle">WT</text>
<line x1="31.5" y1="488" x2="31.5" y2="542.2" stroke="#333" stroke-width="1.0"/>
<text transform="translate(22.6,582) rotate(-90) scale(1.0,1)" x="0" y="3.2" font-size="8.9" text-anchor="middle">CH</text>
<line x1="31.5" y1="554" x2="31.5" y2="608.5" stroke="#333" stroke-width="1.0"/>
<text transform="translate(38.6,323) rotate(-90) scale(0.66,1)" x="0" y="2.74" font-size="7.6" text-anchor="middle" font-weight="bold">EdU</text>
<line x1="39.5" y1="329.8" x2="39.5" y2="438.3" stroke="#333" stroke-width="1.0"/>
<text transform="translate(38.4,492.9) rotate(-90) scale(0.66,1)" x="0" y="2.74" font-size="7.6" text-anchor="middle" font-weight="bold">EdU</text>
<line x1="39.5" y1="500" x2="39.5" y2="609.6" stroke="#333" stroke-width="1.0"/>
<line x1="48.5" y1="449.5" x2="226.2" y2="449.5" stroke="#333" stroke-width="1.1"/>
<text transform="translate(235.8,449.4) scale(0.645,1)" x="0" y="2.74" font-size="7.6" text-anchor="middle" font-weight="bold">DAPI</text>
<line x1="48" y1="618.5" x2="226.2" y2="618.5" stroke="#333" stroke-width="1.1"/>
<text transform="translate(235.8,619) scale(0.645,1)" x="0" y="2.74" font-size="7.6" text-anchor="middle" font-weight="bold">DAPI</text>
<text x="401" y="298.7" font-size="8.9" text-anchor="middle" >HSC</text>
<line x1="312.5" y1="303.5" x2="489.3" y2="303.5" stroke="#333" stroke-width="1.1"/>
<text x="338.75" y="313" font-size="6.8" text-anchor="middle" >Vehicle</text>
<text x="400.15" y="313" font-size="6.8" text-anchor="middle" >G-CSF (4 hr)</text>
<text x="464.05" y="313" font-size="6.8" text-anchor="middle" >G-CSF (16 hr)</text>
<text x="401" y="469.2" font-size="8.9" text-anchor="middle" >MPP</text>
<line x1="313" y1="474.5" x2="489.3" y2="474.5" stroke="#333" stroke-width="1.1"/>
<text x="338.75" y="483.7" font-size="6.8" text-anchor="middle" >Vehicle</text>
<text x="400.15" y="483.7" font-size="6.8" text-anchor="middle" >G-CSF (4 hr)</text>
<text x="464.05" y="483.7" font-size="6.8" text-anchor="middle" >G-CSF (16 hr)</text>
<rect x="322.82" y="357.98" width="1.1" height="1.1" fill="#35358a"/><rect x="325.86" y="358.48" width="1.1" height="1.1" fill="#35358a"/><rect x="325.03" y="357.6" width="1.1" height="1.1" fill="#35358a"/><rect x="323.24" y="358.2" width="1.1" height="1.1" fill="#35358a"/><rect x="322.62" y="358.86" width="1.1" height="1.1" fill="#35358a"/><rect x="325.07" y="359" width="1.1" height="1.1" fill="#35358a"/><rect x="327.22" y="359.51" width="1.1" height="1.1" fill="#35358a"/><rect x="322" y="358.45" width="1.1" height="1.1" fill="#35358a"/><rect x="324.57" y="357.07" width="1.1" height="1.1" fill="#35358a"/><rect x="323.09" y="360.31" width="1.1" height="1.1" fill="#35358a"/><rect x="319.92" y="357.66" width="1.1" height="1.1" fill="#35358a"/><rect x="323.93" y="359.32" width="1.1" height="1.1" fill="#35358a"/><rect x="327.19" y="359.14" width="1.1" height="1.1" fill="#35358a"/><rect x="321.84" y="357.29" width="1.1" height="1.1" fill="#35358a"/><rect x="321.29" y="359.92" width="1.1" height="1.1" fill="#35358a"/><rect x="324.22" y="356.77" width="1.1" height="1.1" fill="#35358a"/><rect x="327.49" y="358.84" width="1.1" height="1.1" fill="#35358a"/><rect x="327.01" y="358.04" width="1.1" height="1.1" fill="#35358a"/><rect x="321.82" y="358.91" width="1.1" height="1.1" fill="#35358a"/><rect x="324.03" y="359.07" width="1.1" height="1.1" fill="#35358a"/><rect x="326.22" y="357.64" width="1.1" height="1.1" fill="#35358a"/><rect x="325.14" y="357.99" width="1.1" height="1.1" fill="#35358a"/><rect x="321.35" y="359.39" width="1.1" height="1.1" fill="#35358a"/><rect x="325.59" y="359.33" width="1.1" height="1.1" fill="#35358a"/><rect x="322.9" y="358.66" width="1.1" height="1.1" fill="#35358a"/><rect x="324.24" y="357.12" width="1.1" height="1.1" fill="#35358a"/><rect x="321.67" y="359.38" width="1.1" height="1.1" fill="#35358a"/><rect x="324.97" y="358.41" width="1.1" height="1.1" fill="#35358a"/><rect x="325.62" y="358.45" width="1.1" height="1.1" fill="#35358a"/><rect x="323.06" y="358.73" width="1.1" height="1.1" fill="#35358a"/><rect x="326.41" y="358.85" width="1.1" height="1.1" fill="#35358a"/><rect x="325.99" y="359.31" width="1.1" height="1.1" fill="#35358a"/><rect x="327.25" y="357.8" width="1.1" height="1.1" fill="#35358a"/><rect x="324.72" y="359.01" width="1.1" height="1.1" fill="#35358a"/>
<rect x="324.47" y="357.74" width="1.1" height="1.1" fill="#26266e"/><rect x="324.65" y="358.19" width="1.1" height="1.1" fill="#26266e"/><rect x="322.73" y="357.97" width="1.1" height="1.1" fill="#26266e"/><rect x="324.7" y="358.53" width="1.1" height="1.1" fill="#26266e"/><rect x="322.66" y="358.17" width="1.1" height="1.1" fill="#26266e"/><rect x="325.29" y="358.17" width="1.1" height="1.1" fill="#26266e"/><rect x="323.71" y="358.26" width="1.1" height="1.1" fill="#26266e"/><rect x="324.17" y="358.37" width="1.1" height="1.1" fill="#26266e"/><rect x="323.93" y="358.34" width="1.1" height="1.1" fill="#26266e"/><rect x="323.83" y="357.78" width="1.1" height="1.1" fill="#26266e"/><rect x="323" y="358.61" width="1.1" height="1.1" fill="#26266e"/><rect x="322.77" y="358.36" width="1.1" height="1.1" fill="#26266e"/>
<rect x="336.86" y="344.62" width="1.1" height="1.1" fill="#34449c"/><rect x="339.04" y="346.95" width="1.1" height="1.1" fill="#34449c"/><rect x="335.48" y="351.78" width="1.1" height="1.1" fill="#34449c"/><rect x="337.35" y="343.07" width="1.1" height="1.1" fill="#34449c"/><rect x="335.62" y="355.66" width="1.1" height="1.1" fill="#34449c"/><rect x="336" y="350.4" width="1.1" height="1.1" fill="#34449c"/><rect x="336.35" y="350" width="1.1" height="1.1" fill="#34449c"/><rect x="338.03" y="341.31" width="1.1" height="1.1" fill="#34449c"/><rect x="339.25" y="344.81" width="1.1" height="1.1" fill="#34449c"/><rect x="340.06" y="345.97" width="1.1" height="1.1" fill="#34449c"/><rect x="338.53" y="352.33" width="1.1" height="1.1" fill="#34449c"/><rect x="333.54" y="353.05" width="1.1" height="1.1" fill="#34449c"/><rect x="336.13" y="356.56" width="1.1" height="1.1" fill="#34449c"/><rect x="343.33" y="335.76" width="1.1" height="1.1" fill="#34449c"/>
<rect x="334.05" y="358.21" width="1.1" height="1.1" fill="#34449c"/><rect x="337.16" y="359.24" width="1.1" height="1.1" fill="#34449c"/><rect x="330.42" y="358.21" width="1.1" height="1.1" fill="#34449c"/>
<rect x="312.5" y="320.5" width="52" height="52" fill="none" stroke="#333" stroke-width="1"/>
<line x1="329.5" y1="320.5" x2="329.5" y2="372.5" stroke="#333" stroke-width="1"/>
<line x1="312.5" y1="351.5" x2="329.5" y2="351.5" stroke="#333" stroke-width="1"/>
<line x1="311.5" y1="332.46" x2="312.8" y2="332.46" stroke="#333" stroke-width="0.7"/><line x1="311.5" y1="344.12" x2="312.8" y2="344.12" stroke="#333" stroke-width="0.7"/><line x1="311.5" y1="355.78" x2="312.8" y2="355.78" stroke="#333" stroke-width="0.7"/><line x1="311.5" y1="367.44" x2="312.8" y2="367.44" stroke="#333" stroke-width="0.7"/><line x1="324.6" y1="372.1" x2="324.6" y2="373.4" stroke="#333" stroke-width="0.7"/><line x1="336.39" y1="372.1" x2="336.39" y2="373.4" stroke="#333" stroke-width="0.7"/><line x1="348.19" y1="372.1" x2="348.19" y2="373.4" stroke="#333" stroke-width="0.7"/><line x1="359.98" y1="372.1" x2="359.98" y2="373.4" stroke="#333" stroke-width="0.7"/>
<text x="314.8" y="326.8" font-size="5.9" text-anchor="start" >Dead</text>
<text x="314.8" y="333.9" font-size="5.9" text-anchor="start" >0</text>
<text x="362.5" y="326.8" font-size="5.5" text-anchor="end">Annexin<tspan font-size="3.4" dy="-2.4">+</tspan></text>
<text x="340.83" y="350.6" font-size="5.9" text-anchor="start" >26.5</text>
<text x="314.8" y="357.87" font-size="5.9" text-anchor="start" >Live</text>
<text x="314.8" y="370.4" font-size="5.9" text-anchor="start" >73.5</text>
<rect x="384.01" y="358.43" width="1.1" height="1.1" fill="#35358a"/><rect x="384.61" y="357.49" width="1.1" height="1.1" fill="#35358a"/><rect x="386.86" y="358.81" width="1.1" height="1.1" fill="#35358a"/><rect x="386.48" y="359.9" width="1.1" height="1.1" fill="#35358a"/><rect x="386.82" y="359.8" width="1.1" height="1.1" fill="#35358a"/><rect x="388.26" y="358.01" width="1.1" height="1.1" fill="#35358a"/><rect x="382.41" y="356.7" width="1.1" height="1.1" fill="#35358a"/><rect x="387.5" y="356.78" width="1.1" height="1.1" fill="#35358a"/><rect x="384.22" y="356.09" width="1.1" height="1.1" fill="#35358a"/><rect x="388.15" y="358.96" width="1.1" height="1.1" fill="#35358a"/><rect x="388.41" y="355.24" width="1.1" height="1.1" fill="#35358a"/><rect x="387.19" y="358.93" width="1.1" height="1.1" fill="#35358a"/><rect x="382.25" y="358.05" width="1.1" height="1.1" fill="#35358a"/><rect x="386.67" y="357.27" width="1.1" height="1.1" fill="#35358a"/><rect x="389.79" y="356.83" width="1.1" height="1.1" fill="#35358a"/><rect x="385.63" y="359.78" width="1.1" height="1.1" fill="#35358a"/><rect x="388.87" y="359.32" width="1.1" height="1.1" fill="#35358a"/><rect x="386.3" y="357.33" width="1.1" height="1.1" fill="#35358a"/><rect x="387.22" y="356.7" width="1.1" height="1.1" fill="#35358a"/><rect x="387.61" y="357.69" width="1.1" height="1.1" fill="#35358a"/><rect x="388.33" y="357.97" width="1.1" height="1.1" fill="#35358a"/><rect x="385.69" y="359.46" width="1.1" height="1.1" fill="#35358a"/><rect x="385.98" y="357.73" width="1.1" height="1.1" fill="#35358a"/><rect x="389.47" y="357.48" width="1.1" height="1.1" fill="#35358a"/><rect x="390.19" y="358.9" width="1.1" height="1.1" fill="#35358a"/><rect x="386.64" y="356.25" width="1.1" height="1.1" fill="#35358a"/><rect x="385.3" y="357.11" width="1.1" height="1.1" fill="#35358a"/><rect x="387.91" y="356.99" width="1.1" height="1.1" fill="#35358a"/><rect x="388.09" y="358.4" width="1.1" height="1.1" fill="#35358a"/><rect x="389.8" y="355.62" width="1.1" height="1.1" fill="#35358a"/>
<rect x="386.59" y="357.45" width="1.1" height="1.1" fill="#26266e"/><rect x="386.66" y="357.24" width="1.1" height="1.1" fill="#26266e"/><rect x="386.55" y="356.98" width="1.1" height="1.1" fill="#26266e"/><rect x="386.61" y="358.05" width="1.1" height="1.1" fill="#26266e"/><rect x="388.5" y="356.94" width="1.1" height="1.1" fill="#26266e"/><rect x="386.64" y="358.41" width="1.1" height="1.1" fill="#26266e"/><rect x="386.06" y="356.82" width="1.1" height="1.1" fill="#26266e"/><rect x="385.55" y="357.73" width="1.1" height="1.1" fill="#26266e"/><rect x="386.87" y="357.46" width="1.1" height="1.1" fill="#26266e"/><rect x="386.58" y="357.53" width="1.1" height="1.1" fill="#26266e"/>
<rect x="394.16" y="356.04" width="1.1" height="1.1" fill="#34449c"/><rect x="394.55" y="351.04" width="1.1" height="1.1" fill="#34449c"/><rect x="397.14" y="339.99" width="1.1" height="1.1" fill="#34449c"/><rect x="398.74" y="341.43" width="1.1" height="1.1" fill="#34449c"/><rect x="394.14" y="339.47" width="1.1" height="1.1" fill="#34449c"/><rect x="395.23" y="345.69" width="1.1" height="1.1" fill="#34449c"/><rect x="392.62" y="349.35" width="1.1" height="1.1" fill="#34449c"/>
<rect x="392.33" y="356.16" width="1.1" height="1.1" fill="#34449c"/><rect x="394.41" y="357.19" width="1.1" height="1.1" fill="#34449c"/><rect x="395.45" y="355.65" width="1.1" height="1.1" fill="#34449c"/>
<rect x="374.5" y="320.5" width="52" height="52" fill="none" stroke="#333" stroke-width="1"/>
<line x1="390.5" y1="320.5" x2="390.5" y2="372.5" stroke="#333" stroke-width="1"/>
<line x1="374.5" y1="351.5" x2="390.5" y2="351.5" stroke="#333" stroke-width="1"/>
<line x1="372.9" y1="332.46" x2="374.2" y2="332.46" stroke="#333" stroke-width="0.7"/><line x1="372.9" y1="344.12" x2="374.2" y2="344.12" stroke="#333" stroke-width="0.7"/><line x1="372.9" y1="355.78" x2="374.2" y2="355.78" stroke="#333" stroke-width="0.7"/><line x1="372.9" y1="367.44" x2="374.2" y2="367.44" stroke="#333" stroke-width="0.7"/><line x1="386" y1="372.1" x2="386" y2="373.4" stroke="#333" stroke-width="0.7"/><line x1="397.79" y1="372.1" x2="397.79" y2="373.4" stroke="#333" stroke-width="0.7"/><line x1="409.59" y1="372.1" x2="409.59" y2="373.4" stroke="#333" stroke-width="0.7"/><line x1="421.38" y1="372.1" x2="421.38" y2="373.4" stroke="#333" stroke-width="0.7"/>
<text x="376.2" y="326.8" font-size="5.9" text-anchor="start" >Dead</text>
<text x="376.2" y="333.9" font-size="5.9" text-anchor="start" >0</text>
<text x="423.9" y="326.8" font-size="5.5" text-anchor="end">Annexin<tspan font-size="3.4" dy="-2.4">+</tspan></text>
<text x="402.23" y="350.6" font-size="5.9" text-anchor="start" >24.6</text>
<text x="376.2" y="357.87" font-size="5.9" text-anchor="start" >Live</text>
<text x="376.2" y="370.4" font-size="5.9" text-anchor="start" >75.4</text>
<rect x="449.01" y="359.95" width="1.1" height="1.1" fill="#35358a"/><rect x="443.07" y="359.63" width="1.1" height="1.1" fill="#35358a"/><rect x="446.12" y="361.57" width="1.1" height="1.1" fill="#35358a"/><rect x="443.4" y="362.96" width="1.1" height="1.1" fill="#35358a"/><rect x="446.23" y="358.01" width="1.1" height="1.1" fill="#35358a"/><rect x="447.1" y="360.49" width="1.1" height="1.1" fill="#35358a"/><rect x="445.51" y="360.16" width="1.1" height="1.1" fill="#35358a"/><rect x="446.11" y="362.36" width="1.1" height="1.1" fill="#35358a"/><rect x="449.73" y="360.14" width="1.1" height="1.1" fill="#35358a"/><rect x="440.98" y="358.74" width="1.1" height="1.1" fill="#35358a"/><rect x="448.27" y="359.89" width="1.1" height="1.1" fill="#35358a"/><rect x="447.24" y="358.83" width="1.1" height="1.1" fill="#35358a"/><rect x="444.46" y="355.24" width="1.1" height="1.1" fill="#35358a"/><rect x="443.13" y="363.9" width="1.1" height="1.1" fill="#35358a"/><rect x="445.71" y="359.46" width="1.1" height="1.1" fill="#35358a"/><rect x="445.98" y="358.75" width="1.1" height="1.1" fill="#35358a"/><rect x="445.38" y="362.99" width="1.1" height="1.1" fill="#35358a"/><rect x="444.51" y="367.98" width="1.1" height="1.1" fill="#35358a"/><rect x="441.18" y="363.24" width="1.1" height="1.1" fill="#35358a"/><rect x="447.13" y="362.54" width="1.1" height="1.1" fill="#35358a"/><rect x="448.78" y="361.03" width="1.1" height="1.1" fill="#35358a"/><rect x="448.85" y="359.63" width="1.1" height="1.1" fill="#35358a"/><rect x="445.56" y="358.97" width="1.1" height="1.1" fill="#35358a"/><rect x="447.57" y="361.58" width="1.1" height="1.1" fill="#35358a"/><rect x="449.69" y="359.38" width="1.1" height="1.1" fill="#35358a"/><rect x="449.91" y="358.51" width="1.1" height="1.1" fill="#35358a"/><rect x="445.74" y="362.78" width="1.1" height="1.1" fill="#35358a"/><rect x="444.76" y="359.67" width="1.1" height="1.1" fill="#35358a"/><rect x="442.64" y="361.16" width="1.1" height="1.1" fill="#35358a"/><rect x="445.75" y="368.97" width="1.1" height="1.1" fill="#35358a"/><rect x="451.36" y="363.28" width="1.1" height="1.1" fill="#35358a"/><rect x="452.44" y="362.8" width="1.1" height="1.1" fill="#35358a"/><rect x="444.6" y="361.72" width="1.1" height="1.1" fill="#35358a"/><rect x="442.97" y="357.37" width="1.1" height="1.1" fill="#35358a"/><rect x="443.51" y="362.9" width="1.1" height="1.1" fill="#35358a"/><rect x="444.83" y="358.64" width="1.1" height="1.1" fill="#35358a"/><rect x="444.32" y="365.18" width="1.1" height="1.1" fill="#35358a"/><rect x="441.12" y="362.38" width="1.1" height="1.1" fill="#35358a"/><rect x="441.92" y="362.43" width="1.1" height="1.1" fill="#35358a"/><rect x="444.02" y="360.13" width="1.1" height="1.1" fill="#35358a"/><rect x="443.67" y="363.74" width="1.1" height="1.1" fill="#35358a"/><rect x="441.86" y="361.6" width="1.1" height="1.1" fill="#35358a"/><rect x="444.02" y="356.57" width="1.1" height="1.1" fill="#35358a"/><rect x="446.05" y="366.96" width="1.1" height="1.1" fill="#35358a"/>
<rect x="449.71" y="357.98" width="1.1" height="1.1" fill="#3a60b0"/><rect x="449.9" y="357.71" width="1.1" height="1.1" fill="#3a60b0"/><rect x="448.37" y="359.27" width="1.1" height="1.1" fill="#3a60b0"/><rect x="447.53" y="356.56" width="1.1" height="1.1" fill="#3a60b0"/><rect x="447.57" y="357.37" width="1.1" height="1.1" fill="#3a60b0"/><rect x="448.55" y="358.8" width="1.1" height="1.1" fill="#3a60b0"/><rect x="446.78" y="357.2" width="1.1" height="1.1" fill="#3a60b0"/><rect x="451.15" y="357.91" width="1.1" height="1.1" fill="#3a60b0"/><rect x="444.34" y="357.47" width="1.1" height="1.1" fill="#3a60b0"/><rect x="452.09" y="359.03" width="1.1" height="1.1" fill="#3a60b0"/><rect x="446.71" y="358.58" width="1.1" height="1.1" fill="#3a60b0"/><rect x="447.37" y="357.77" width="1.1" height="1.1" fill="#3a60b0"/><rect x="445.24" y="358.67" width="1.1" height="1.1" fill="#3a60b0"/><rect x="447.2" y="355.55" width="1.1" height="1.1" fill="#3a60b0"/>
<rect x="448.24" y="358.25" width="1.1" height="1.1" fill="#d0603a"/><rect x="447.07" y="358.36" width="1.1" height="1.1" fill="#d0603a"/><rect x="448.36" y="359.67" width="1.1" height="1.1" fill="#d0603a"/><rect x="448.45" y="357.27" width="1.1" height="1.1" fill="#d0603a"/><rect x="450.76" y="358.22" width="1.1" height="1.1" fill="#d0603a"/><rect x="447.91" y="361.37" width="1.1" height="1.1" fill="#d0603a"/><rect x="450.74" y="358.35" width="1.1" height="1.1" fill="#d0603a"/><rect x="446.93" y="357" width="1.1" height="1.1" fill="#d0603a"/><rect x="450.26" y="356.29" width="1.1" height="1.1" fill="#d0603a"/><rect x="448.72" y="356.58" width="1.1" height="1.1" fill="#d0603a"/><rect x="448.78" y="356.39" width="1.1" height="1.1" fill="#d0603a"/><rect x="447.87" y="358.35" width="1.1" height="1.1" fill="#d0603a"/>
<rect x="454.48" y="345.26" width="1.1" height="1.1" fill="#34449c"/><rect x="460.5" y="362.95" width="1.1" height="1.1" fill="#34449c"/><rect x="455.67" y="362.54" width="1.1" height="1.1" fill="#34449c"/><rect x="464.93" y="343.8" width="1.1" height="1.1" fill="#34449c"/><rect x="463.09" y="365.66" width="1.1" height="1.1" fill="#34449c"/><rect x="466.71" y="357.99" width="1.1" height="1.1" fill="#34449c"/><rect x="457.33" y="344.9" width="1.1" height="1.1" fill="#34449c"/><rect x="458.27" y="341.29" width="1.1" height="1.1" fill="#34449c"/><rect x="459.33" y="360.62" width="1.1" height="1.1" fill="#34449c"/><rect x="464.14" y="341.39" width="1.1" height="1.1" fill="#34449c"/><rect x="462.85" y="351.88" width="1.1" height="1.1" fill="#34449c"/><rect x="453.24" y="339.7" width="1.1" height="1.1" fill="#34449c"/><rect x="455.96" y="334.31" width="1.1" height="1.1" fill="#34449c"/><rect x="463.34" y="353.72" width="1.1" height="1.1" fill="#34449c"/><rect x="457.82" y="364.13" width="1.1" height="1.1" fill="#34449c"/><rect x="458.54" y="338.19" width="1.1" height="1.1" fill="#34449c"/><rect x="458.89" y="346.07" width="1.1" height="1.1" fill="#34449c"/><rect x="454.61" y="343.82" width="1.1" height="1.1" fill="#34449c"/><rect x="463.6" y="353.36" width="1.1" height="1.1" fill="#34449c"/><rect x="453.17" y="354.63" width="1.1" height="1.1" fill="#34449c"/><rect x="461.73" y="334.93" width="1.1" height="1.1" fill="#34449c"/><rect x="456.45" y="356.39" width="1.1" height="1.1" fill="#34449c"/><rect x="465.12" y="358.91" width="1.1" height="1.1" fill="#34449c"/><rect x="457.29" y="362.32" width="1.1" height="1.1" fill="#34449c"/><rect x="460.73" y="354.39" width="1.1" height="1.1" fill="#34449c"/><rect x="456.56" y="342.74" width="1.1" height="1.1" fill="#34449c"/><rect x="453.97" y="336.07" width="1.1" height="1.1" fill="#34449c"/><rect x="463.65" y="334.63" width="1.1" height="1.1" fill="#34449c"/><rect x="462.87" y="346.21" width="1.1" height="1.1" fill="#34449c"/><rect x="457.03" y="347.28" width="1.1" height="1.1" fill="#34449c"/><rect x="466.15" y="352.65" width="1.1" height="1.1" fill="#34449c"/><rect x="459.08" y="351.91" width="1.1" height="1.1" fill="#34449c"/><rect x="461.43" y="332.65" width="1.1" height="1.1" fill="#34449c"/><rect x="455.44" y="362.38" width="1.1" height="1.1" fill="#34449c"/><rect x="465.42" y="355.69" width="1.1" height="1.1" fill="#34449c"/><rect x="468.04" y="355.6" width="1.1" height="1.1" fill="#34449c"/>
<rect x="454.57" y="335.97" width="1.1" height="1.1" fill="#34449c"/><rect x="459.89" y="355.79" width="1.1" height="1.1" fill="#34449c"/><rect x="458.55" y="343.75" width="1.1" height="1.1" fill="#34449c"/><rect x="457.62" y="346" width="1.1" height="1.1" fill="#34449c"/><rect x="460.9" y="351.5" width="1.1" height="1.1" fill="#34449c"/><rect x="456.92" y="335.33" width="1.1" height="1.1" fill="#34449c"/><rect x="453.92" y="352.18" width="1.1" height="1.1" fill="#34449c"/><rect x="456.16" y="352.9" width="1.1" height="1.1" fill="#34449c"/><rect x="459.53" y="355.59" width="1.1" height="1.1" fill="#34449c"/><rect x="462.39" y="344.7" width="1.1" height="1.1" fill="#34449c"/><rect x="454.52" y="351.86" width="1.1" height="1.1" fill="#34449c"/><rect x="454.33" y="340.59" width="1.1" height="1.1" fill="#34449c"/><rect x="454.45" y="347.42" width="1.1" height="1.1" fill="#34449c"/><rect x="456.89" y="360.74" width="1.1" height="1.1" fill="#34449c"/>
<rect x="438.5" y="320.5" width="52" height="52" fill="none" stroke="#333" stroke-width="1"/>
<line x1="454.5" y1="320.5" x2="454.5" y2="372.5" stroke="#333" stroke-width="1"/>
<line x1="438.5" y1="351.5" x2="454.5" y2="351.5" stroke="#333" stroke-width="1"/>
<line x1="436.8" y1="332.46" x2="438.1" y2="332.46" stroke="#333" stroke-width="0.7"/><line x1="436.8" y1="344.12" x2="438.1" y2="344.12" stroke="#333" stroke-width="0.7"/><line x1="436.8" y1="355.78" x2="438.1" y2="355.78" stroke="#333" stroke-width="0.7"/><line x1="436.8" y1="367.44" x2="438.1" y2="367.44" stroke="#333" stroke-width="0.7"/><line x1="449.9" y1="372.1" x2="449.9" y2="373.4" stroke="#333" stroke-width="0.7"/><line x1="461.69" y1="372.1" x2="461.69" y2="373.4" stroke="#333" stroke-width="0.7"/><line x1="473.49" y1="372.1" x2="473.49" y2="373.4" stroke="#333" stroke-width="0.7"/><line x1="485.28" y1="372.1" x2="485.28" y2="373.4" stroke="#333" stroke-width="0.7"/>
<text x="440.1" y="326.8" font-size="5.9" text-anchor="start" >Dead</text>
<text x="440.1" y="333.9" font-size="5.9" text-anchor="start" >1.67</text>
<text x="487.8" y="326.8" font-size="5.5" text-anchor="end">Annexin<tspan font-size="3.4" dy="-2.4">+</tspan></text>
<text x="466.13" y="350.6" font-size="5.9" text-anchor="start" >22.8</text>
<text x="440.1" y="357.87" font-size="5.9" text-anchor="start" >Live</text>
<text x="440.1" y="370.4" font-size="5.9" text-anchor="start" >75.6</text>
<rect x="324.51" y="424.24" width="1.1" height="1.1" fill="#35358a"/><rect x="326.12" y="425.39" width="1.1" height="1.1" fill="#35358a"/><rect x="321.38" y="423.27" width="1.1" height="1.1" fill="#35358a"/><rect x="321.29" y="424.15" width="1.1" height="1.1" fill="#35358a"/><rect x="325.08" y="425.55" width="1.1" height="1.1" fill="#35358a"/><rect x="325.98" y="422.28" width="1.1" height="1.1" fill="#35358a"/><rect x="327.54" y="425.28" width="1.1" height="1.1" fill="#35358a"/><rect x="327.52" y="425.07" width="1.1" height="1.1" fill="#35358a"/><rect x="325.19" y="423.95" width="1.1" height="1.1" fill="#35358a"/><rect x="324.83" y="422.43" width="1.1" height="1.1" fill="#35358a"/><rect x="330.31" y="424.04" width="1.1" height="1.1" fill="#35358a"/><rect x="324.01" y="424.09" width="1.1" height="1.1" fill="#35358a"/><rect x="325.12" y="423.48" width="1.1" height="1.1" fill="#35358a"/><rect x="325.47" y="425.7" width="1.1" height="1.1" fill="#35358a"/><rect x="327.03" y="424.67" width="1.1" height="1.1" fill="#35358a"/><rect x="330.49" y="425.56" width="1.1" height="1.1" fill="#35358a"/><rect x="329.13" y="423.86" width="1.1" height="1.1" fill="#35358a"/><rect x="326.43" y="422.65" width="1.1" height="1.1" fill="#35358a"/><rect x="321.93" y="425.54" width="1.1" height="1.1" fill="#35358a"/><rect x="325.59" y="425.96" width="1.1" height="1.1" fill="#35358a"/><rect x="322.93" y="424.48" width="1.1" height="1.1" fill="#35358a"/><rect x="322.22" y="424.81" width="1.1" height="1.1" fill="#35358a"/><rect x="324.04" y="423.88" width="1.1" height="1.1" fill="#35358a"/><rect x="330.34" y="423.64" width="1.1" height="1.1" fill="#35358a"/><rect x="328.95" y="425.84" width="1.1" height="1.1" fill="#35358a"/><rect x="318.79" y="424.67" width="1.1" height="1.1" fill="#35358a"/><rect x="324.98" y="424.45" width="1.1" height="1.1" fill="#35358a"/><rect x="327.83" y="422.76" width="1.1" height="1.1" fill="#35358a"/><rect x="329.24" y="423.68" width="1.1" height="1.1" fill="#35358a"/><rect x="326.97" y="422.93" width="1.1" height="1.1" fill="#35358a"/><rect x="325.72" y="424.7" width="1.1" height="1.1" fill="#35358a"/><rect x="323.95" y="425.67" width="1.1" height="1.1" fill="#35358a"/><rect x="322.26" y="424.67" width="1.1" height="1.1" fill="#35358a"/><rect x="324.99" y="423.69" width="1.1" height="1.1" fill="#35358a"/><rect x="323.13" y="422.75" width="1.1" height="1.1" fill="#35358a"/><rect x="326.88" y="422.38" width="1.1" height="1.1" fill="#35358a"/><rect x="327.18" y="426.27" width="1.1" height="1.1" fill="#35358a"/><rect x="325.07" y="424.79" width="1.1" height="1.1" fill="#35358a"/><rect x="326.83" y="425.44" width="1.1" height="1.1" fill="#35358a"/><rect x="326.36" y="424.18" width="1.1" height="1.1" fill="#35358a"/>
<rect x="326.22" y="424.92" width="1.1" height="1.1" fill="#26266e"/><rect x="325.21" y="424.27" width="1.1" height="1.1" fill="#26266e"/><rect x="328.45" y="424.8" width="1.1" height="1.1" fill="#26266e"/><rect x="327.63" y="423.61" width="1.1" height="1.1" fill="#26266e"/><rect x="325.91" y="425.23" width="1.1" height="1.1" fill="#26266e"/><rect x="325.35" y="423.6" width="1.1" height="1.1" fill="#26266e"/><rect x="324.89" y="425.04" width="1.1" height="1.1" fill="#26266e"/><rect x="324.48" y="424.67" width="1.1" height="1.1" fill="#26266e"/><rect x="326.42" y="424.6" width="1.1" height="1.1" fill="#26266e"/><rect x="324.06" y="424.13" width="1.1" height="1.1" fill="#26266e"/><rect x="324.85" y="424.17" width="1.1" height="1.1" fill="#26266e"/><rect x="325.14" y="424.01" width="1.1" height="1.1" fill="#26266e"/><rect x="324.69" y="423.94" width="1.1" height="1.1" fill="#26266e"/><rect x="324.6" y="423.98" width="1.1" height="1.1" fill="#26266e"/>
<rect x="330.05" y="398.58" width="1.1" height="1.1" fill="#34449c"/><rect x="338.07" y="404.97" width="1.1" height="1.1" fill="#34449c"/><rect x="335.1" y="407.01" width="1.1" height="1.1" fill="#34449c"/><rect x="328.87" y="421.97" width="1.1" height="1.1" fill="#34449c"/><rect x="336.23" y="400.27" width="1.1" height="1.1" fill="#34449c"/><rect x="330.48" y="423.22" width="1.1" height="1.1" fill="#34449c"/><rect x="336.78" y="428.97" width="1.1" height="1.1" fill="#34449c"/><rect x="334.13" y="426.66" width="1.1" height="1.1" fill="#34449c"/><rect x="330.95" y="426.31" width="1.1" height="1.1" fill="#34449c"/><rect x="332.05" y="403.26" width="1.1" height="1.1" fill="#34449c"/><rect x="336.43" y="404.51" width="1.1" height="1.1" fill="#34449c"/><rect x="334.98" y="428.65" width="1.1" height="1.1" fill="#34449c"/><rect x="330.32" y="408.93" width="1.1" height="1.1" fill="#34449c"/><rect x="338.51" y="398.34" width="1.1" height="1.1" fill="#34449c"/><rect x="332.06" y="413.7" width="1.1" height="1.1" fill="#34449c"/><rect x="329.01" y="399.02" width="1.1" height="1.1" fill="#34449c"/><rect x="337.79" y="400.18" width="1.1" height="1.1" fill="#34449c"/><rect x="336.39" y="414.01" width="1.1" height="1.1" fill="#34449c"/><rect x="332.78" y="397.54" width="1.1" height="1.1" fill="#34449c"/><rect x="332.08" y="398.31" width="1.1" height="1.1" fill="#34449c"/><rect x="339.27" y="404.75" width="1.1" height="1.1" fill="#34449c"/><rect x="335.37" y="423.68" width="1.1" height="1.1" fill="#34449c"/><rect x="339.71" y="412.58" width="1.1" height="1.1" fill="#34449c"/><rect x="336.84" y="427.01" width="1.1" height="1.1" fill="#34449c"/><rect x="329.59" y="417.08" width="1.1" height="1.1" fill="#34449c"/><rect x="332.47" y="426.69" width="1.1" height="1.1" fill="#34449c"/>
<rect x="333.48" y="408.97" width="1.1" height="1.1" fill="#34449c"/><rect x="334.97" y="405.72" width="1.1" height="1.1" fill="#34449c"/><rect x="335.1" y="405.27" width="1.1" height="1.1" fill="#34449c"/><rect x="336.56" y="409.14" width="1.1" height="1.1" fill="#34449c"/><rect x="334.38" y="402.18" width="1.1" height="1.1" fill="#34449c"/><rect x="331.73" y="407.45" width="1.1" height="1.1" fill="#34449c"/><rect x="331.71" y="405.93" width="1.1" height="1.1" fill="#34449c"/><rect x="333.64" y="396.76" width="1.1" height="1.1" fill="#34449c"/>
<rect x="312.5" y="386.5" width="52" height="52" fill="none" stroke="#333" stroke-width="1"/>
<line x1="329.5" y1="386.5" x2="329.5" y2="438.5" stroke="#333" stroke-width="1"/>
<line x1="312.5" y1="417.5" x2="329.5" y2="417.5" stroke="#333" stroke-width="1"/>
<line x1="311.5" y1="398.46" x2="312.8" y2="398.46" stroke="#333" stroke-width="0.7"/><line x1="311.5" y1="410.12" x2="312.8" y2="410.12" stroke="#333" stroke-width="0.7"/><line x1="311.5" y1="421.78" x2="312.8" y2="421.78" stroke="#333" stroke-width="0.7"/><line x1="311.5" y1="433.44" x2="312.8" y2="433.44" stroke="#333" stroke-width="0.7"/><line x1="324.6" y1="438.1" x2="324.6" y2="439.4" stroke="#333" stroke-width="0.7"/><line x1="336.39" y1="438.1" x2="336.39" y2="439.4" stroke="#333" stroke-width="0.7"/><line x1="348.19" y1="438.1" x2="348.19" y2="439.4" stroke="#333" stroke-width="0.7"/><line x1="359.98" y1="438.1" x2="359.98" y2="439.4" stroke="#333" stroke-width="0.7"/>
<text x="314.8" y="392.8" font-size="5.9" text-anchor="start" >Dead</text>
<text x="314.8" y="399.9" font-size="5.9" text-anchor="start" >0</text>
<text x="362.5" y="392.8" font-size="5.5" text-anchor="end">Annexin<tspan font-size="3.4" dy="-2.4">+</tspan></text>
<text x="340.83" y="416.6" font-size="5.9" text-anchor="start" >42.9</text>
<text x="314.8" y="423.87" font-size="5.9" text-anchor="start" >Live</text>
<text x="314.8" y="436.4" font-size="5.9" text-anchor="start" >57.1</text>
<rect x="387.57" y="422.95" width="1.1" height="1.1" fill="#35358a"/><rect x="389.38" y="424.62" width="1.1" height="1.1" fill="#35358a"/><rect x="388.25" y="423.8" width="1.1" height="1.1" fill="#35358a"/><rect x="383.29" y="423.38" width="1.1" height="1.1" fill="#35358a"/><rect x="386.99" y="425.21" width="1.1" height="1.1" fill="#35358a"/><rect x="384.94" y="426.16" width="1.1" height="1.1" fill="#35358a"/><rect x="383.21" y="422.39" width="1.1" height="1.1" fill="#35358a"/><rect x="385.86" y="422.83" width="1.1" height="1.1" fill="#35358a"/><rect x="388.85" y="422.45" width="1.1" height="1.1" fill="#35358a"/><rect x="384.89" y="423.25" width="1.1" height="1.1" fill="#35358a"/><rect x="384.32" y="426.94" width="1.1" height="1.1" fill="#35358a"/><rect x="387.69" y="420.81" width="1.1" height="1.1" fill="#35358a"/><rect x="386.54" y="424.69" width="1.1" height="1.1" fill="#35358a"/><rect x="394.54" y="421.91" width="1.1" height="1.1" fill="#35358a"/><rect x="387.43" y="422.23" width="1.1" height="1.1" fill="#35358a"/><rect x="385.44" y="423.65" width="1.1" height="1.1" fill="#35358a"/><rect x="387.8" y="426.42" width="1.1" height="1.1" fill="#35358a"/><rect x="389.52" y="424.47" width="1.1" height="1.1" fill="#35358a"/><rect x="386.15" y="422.01" width="1.1" height="1.1" fill="#35358a"/><rect x="387.84" y="424.04" width="1.1" height="1.1" fill="#35358a"/><rect x="384.95" y="423.51" width="1.1" height="1.1" fill="#35358a"/><rect x="385.27" y="422.48" width="1.1" height="1.1" fill="#35358a"/><rect x="384.9" y="423.16" width="1.1" height="1.1" fill="#35358a"/><rect x="384.13" y="426.96" width="1.1" height="1.1" fill="#35358a"/><rect x="391.48" y="422.29" width="1.1" height="1.1" fill="#35358a"/><rect x="385.27" y="424.96" width="1.1" height="1.1" fill="#35358a"/><rect x="388.15" y="421.57" width="1.1" height="1.1" fill="#35358a"/><rect x="381.37" y="422.73" width="1.1" height="1.1" fill="#35358a"/><rect x="389.2" y="425.08" width="1.1" height="1.1" fill="#35358a"/><rect x="388.39" y="425.59" width="1.1" height="1.1" fill="#35358a"/><rect x="388.8" y="424.53" width="1.1" height="1.1" fill="#35358a"/><rect x="384.18" y="422.66" width="1.1" height="1.1" fill="#35358a"/><rect x="390.92" y="423.94" width="1.1" height="1.1" fill="#35358a"/><rect x="383.47" y="422.21" width="1.1" height="1.1" fill="#35358a"/><rect x="391.6" y="422.69" width="1.1" height="1.1" fill="#35358a"/><rect x="386" y="422.75" width="1.1" height="1.1" fill="#35358a"/><rect x="383.69" y="422.84" width="1.1" height="1.1" fill="#35358a"/><rect x="388.33" y="422.95" width="1.1" height="1.1" fill="#35358a"/><rect x="387.56" y="425.4" width="1.1" height="1.1" fill="#35358a"/><rect x="383.82" y="423.92" width="1.1" height="1.1" fill="#35358a"/><rect x="386.06" y="425.48" width="1.1" height="1.1" fill="#35358a"/><rect x="386.78" y="425.88" width="1.1" height="1.1" fill="#35358a"/><rect x="386.92" y="424.35" width="1.1" height="1.1" fill="#35358a"/><rect x="391.18" y="423.71" width="1.1" height="1.1" fill="#35358a"/>
<rect x="384.8" y="424.27" width="1.1" height="1.1" fill="#8a2a5a"/><rect x="386.64" y="423.4" width="1.1" height="1.1" fill="#8a2a5a"/><rect x="387.39" y="424.55" width="1.1" height="1.1" fill="#8a2a5a"/><rect x="385.73" y="423.56" width="1.1" height="1.1" fill="#8a2a5a"/><rect x="386.17" y="424.09" width="1.1" height="1.1" fill="#8a2a5a"/><rect x="388.11" y="424.71" width="1.1" height="1.1" fill="#8a2a5a"/><rect x="388.58" y="424" width="1.1" height="1.1" fill="#8a2a5a"/><rect x="389.16" y="424.49" width="1.1" height="1.1" fill="#8a2a5a"/><rect x="386.48" y="423.68" width="1.1" height="1.1" fill="#8a2a5a"/><rect x="384.56" y="423.2" width="1.1" height="1.1" fill="#8a2a5a"/><rect x="389.25" y="422.45" width="1.1" height="1.1" fill="#8a2a5a"/><rect x="388.25" y="425.4" width="1.1" height="1.1" fill="#8a2a5a"/><rect x="388.5" y="423.65" width="1.1" height="1.1" fill="#8a2a5a"/><rect x="387.63" y="423.86" width="1.1" height="1.1" fill="#8a2a5a"/><rect x="388.21" y="423.26" width="1.1" height="1.1" fill="#8a2a5a"/><rect x="385.08" y="423.41" width="1.1" height="1.1" fill="#8a2a5a"/>
<rect x="393.34" y="414.05" width="1.1" height="1.1" fill="#34449c"/><rect x="393.15" y="419.06" width="1.1" height="1.1" fill="#34449c"/><rect x="397.32" y="407.98" width="1.1" height="1.1" fill="#34449c"/><rect x="395.71" y="425.65" width="1.1" height="1.1" fill="#34449c"/><rect x="396.09" y="418.64" width="1.1" height="1.1" fill="#34449c"/><rect x="391.01" y="411.81" width="1.1" height="1.1" fill="#34449c"/><rect x="395.35" y="416.86" width="1.1" height="1.1" fill="#34449c"/><rect x="398.01" y="424.8" width="1.1" height="1.1" fill="#34449c"/><rect x="397.02" y="410.55" width="1.1" height="1.1" fill="#34449c"/><rect x="395.02" y="420.14" width="1.1" height="1.1" fill="#34449c"/><rect x="391.28" y="420.8" width="1.1" height="1.1" fill="#34449c"/><rect x="399.93" y="406.53" width="1.1" height="1.1" fill="#34449c"/><rect x="392.31" y="413.71" width="1.1" height="1.1" fill="#34449c"/><rect x="391.82" y="403.96" width="1.1" height="1.1" fill="#34449c"/><rect x="398.35" y="411.41" width="1.1" height="1.1" fill="#34449c"/><rect x="397.63" y="401.45" width="1.1" height="1.1" fill="#34449c"/><rect x="392.2" y="419.51" width="1.1" height="1.1" fill="#34449c"/><rect x="397.69" y="428.87" width="1.1" height="1.1" fill="#34449c"/><rect x="390.94" y="429.64" width="1.1" height="1.1" fill="#34449c"/><rect x="399.9" y="399.52" width="1.1" height="1.1" fill="#34449c"/><rect x="398.57" y="400.59" width="1.1" height="1.1" fill="#34449c"/><rect x="399.04" y="412.13" width="1.1" height="1.1" fill="#34449c"/><rect x="398.56" y="402.57" width="1.1" height="1.1" fill="#34449c"/><rect x="393.52" y="412.4" width="1.1" height="1.1" fill="#34449c"/>
<rect x="393.05" y="403.76" width="1.1" height="1.1" fill="#34449c"/><rect x="398.2" y="399.83" width="1.1" height="1.1" fill="#34449c"/><rect x="393.98" y="403.98" width="1.1" height="1.1" fill="#34449c"/><rect x="395.22" y="401.58" width="1.1" height="1.1" fill="#34449c"/><rect x="395.54" y="405.97" width="1.1" height="1.1" fill="#34449c"/><rect x="394.02" y="406.86" width="1.1" height="1.1" fill="#34449c"/><rect x="401.42" y="409.1" width="1.1" height="1.1" fill="#34449c"/><rect x="395.31" y="406.26" width="1.1" height="1.1" fill="#34449c"/><rect x="396.35" y="402.35" width="1.1" height="1.1" fill="#34449c"/><rect x="394.89" y="401.5" width="1.1" height="1.1" fill="#34449c"/>
<rect x="379.88" y="404.2" width="1.1" height="1.1" fill="#34449c"/><rect x="384.03" y="405.74" width="1.1" height="1.1" fill="#34449c"/>
<rect x="374.5" y="386.5" width="52" height="52" fill="none" stroke="#333" stroke-width="1"/>
<line x1="390.5" y1="386.5" x2="390.5" y2="438.5" stroke="#333" stroke-width="1"/>
<line x1="374.5" y1="417.5" x2="390.5" y2="417.5" stroke="#333" stroke-width="1"/>
<line x1="372.9" y1="398.46" x2="374.2" y2="398.46" stroke="#333" stroke-width="0.7"/><line x1="372.9" y1="410.12" x2="374.2" y2="410.12" stroke="#333" stroke-width="0.7"/><line x1="372.9" y1="421.78" x2="374.2" y2="421.78" stroke="#333" stroke-width="0.7"/><line x1="372.9" y1="433.44" x2="374.2" y2="433.44" stroke="#333" stroke-width="0.7"/><line x1="386" y1="438.1" x2="386" y2="439.4" stroke="#333" stroke-width="0.7"/><line x1="397.79" y1="438.1" x2="397.79" y2="439.4" stroke="#333" stroke-width="0.7"/><line x1="409.59" y1="438.1" x2="409.59" y2="439.4" stroke="#333" stroke-width="0.7"/><line x1="421.38" y1="438.1" x2="421.38" y2="439.4" stroke="#333" stroke-width="0.7"/>
<text x="376.2" y="392.8" font-size="5.9" text-anchor="start" >Dead</text>
<text x="376.2" y="399.9" font-size="5.9" text-anchor="start" >3.17</text>
<text x="423.9" y="392.8" font-size="5.5" text-anchor="end">Annexin<tspan font-size="3.4" dy="-2.4">+</tspan></text>
<text x="402.23" y="416.6" font-size="5.9" text-anchor="start" >26.2</text>
<text x="376.2" y="423.87" font-size="5.9" text-anchor="start" >Live</text>
<text x="376.2" y="436.4" font-size="5.9" text-anchor="start" >70.6</text>
<rect x="447.12" y="422.39" width="1.1" height="1.1" fill="#35358a"/><rect x="449.31" y="424.39" width="1.1" height="1.1" fill="#35358a"/><rect x="449.45" y="424.03" width="1.1" height="1.1" fill="#35358a"/><rect x="447.8" y="422.68" width="1.1" height="1.1" fill="#35358a"/><rect x="450.78" y="423.73" width="1.1" height="1.1" fill="#35358a"/><rect x="448" y="424.98" width="1.1" height="1.1" fill="#35358a"/><rect x="447.16" y="426.96" width="1.1" height="1.1" fill="#35358a"/><rect x="451.1" y="424.15" width="1.1" height="1.1" fill="#35358a"/><rect x="449.74" y="426.31" width="1.1" height="1.1" fill="#35358a"/><rect x="448.4" y="426.97" width="1.1" height="1.1" fill="#35358a"/>
<rect x="458.53" y="403.6" width="1.1" height="1.1" fill="#34449c"/><rect x="457.21" y="424.69" width="1.1" height="1.1" fill="#34449c"/><rect x="458.01" y="401.21" width="1.1" height="1.1" fill="#34449c"/><rect x="456.61" y="406.73" width="1.1" height="1.1" fill="#34449c"/><rect x="460.91" y="403.18" width="1.1" height="1.1" fill="#34449c"/><rect x="463.59" y="427.15" width="1.1" height="1.1" fill="#34449c"/><rect x="466.25" y="418.06" width="1.1" height="1.1" fill="#34449c"/><rect x="457.02" y="416.66" width="1.1" height="1.1" fill="#34449c"/><rect x="463.06" y="403.34" width="1.1" height="1.1" fill="#34449c"/><rect x="466.6" y="403.43" width="1.1" height="1.1" fill="#34449c"/><rect x="464.98" y="418.26" width="1.1" height="1.1" fill="#34449c"/><rect x="464.16" y="424.75" width="1.1" height="1.1" fill="#34449c"/><rect x="457.69" y="406.65" width="1.1" height="1.1" fill="#34449c"/><rect x="464.58" y="420.33" width="1.1" height="1.1" fill="#34449c"/><rect x="461.77" y="416.12" width="1.1" height="1.1" fill="#34449c"/>
<rect x="447.93" y="405.23" width="1.1" height="1.1" fill="#34449c"/><rect x="451.04" y="418.06" width="1.1" height="1.1" fill="#34449c"/>
<rect x="438.5" y="386.5" width="52" height="52" fill="none" stroke="#333" stroke-width="1"/>
<line x1="454.5" y1="386.5" x2="454.5" y2="438.5" stroke="#333" stroke-width="1"/>
<line x1="438.5" y1="417.5" x2="454.5" y2="417.5" stroke="#333" stroke-width="1"/>
<line x1="436.8" y1="398.46" x2="438.1" y2="398.46" stroke="#333" stroke-width="0.7"/><line x1="436.8" y1="410.12" x2="438.1" y2="410.12" stroke="#333" stroke-width="0.7"/><line x1="436.8" y1="421.78" x2="438.1" y2="421.78" stroke="#333" stroke-width="0.7"/><line x1="436.8" y1="433.44" x2="438.1" y2="433.44" stroke="#333" stroke-width="0.7"/><line x1="449.9" y1="438.1" x2="449.9" y2="439.4" stroke="#333" stroke-width="0.7"/><line x1="461.69" y1="438.1" x2="461.69" y2="439.4" stroke="#333" stroke-width="0.7"/><line x1="473.49" y1="438.1" x2="473.49" y2="439.4" stroke="#333" stroke-width="0.7"/><line x1="485.28" y1="438.1" x2="485.28" y2="439.4" stroke="#333" stroke-width="0.7"/>
<text x="440.1" y="392.8" font-size="5.9" text-anchor="start" >Dead</text>
<text x="440.1" y="399.9" font-size="5.9" text-anchor="start" >3.70</text>
<text x="487.8" y="392.8" font-size="5.5" text-anchor="end">Annexin<tspan font-size="3.4" dy="-2.4">+</tspan></text>
<text x="466.13" y="416.6" font-size="5.9" text-anchor="start" >33.3</text>
<text x="440.1" y="423.87" font-size="5.9" text-anchor="start" >Live</text>
<text x="440.1" y="436.4" font-size="5.9" text-anchor="start" >63.0</text>
<rect x="322.89" y="529.68" width="1.1" height="1.1" fill="#35358a"/><rect x="325.09" y="525.27" width="1.1" height="1.1" fill="#35358a"/><rect x="324.25" y="525.51" width="1.1" height="1.1" fill="#35358a"/><rect x="328.79" y="526.26" width="1.1" height="1.1" fill="#35358a"/><rect x="317.13" y="526.41" width="1.1" height="1.1" fill="#35358a"/><rect x="323.24" y="529.58" width="1.1" height="1.1" fill="#35358a"/><rect x="329.42" y="524.77" width="1.1" height="1.1" fill="#35358a"/><rect x="324.82" y="524.43" width="1.1" height="1.1" fill="#35358a"/><rect x="325.75" y="528.51" width="1.1" height="1.1" fill="#35358a"/><rect x="323.71" y="527.77" width="1.1" height="1.1" fill="#35358a"/><rect x="322.94" y="529.58" width="1.1" height="1.1" fill="#35358a"/><rect x="325.5" y="527.37" width="1.1" height="1.1" fill="#35358a"/><rect x="325.73" y="529.22" width="1.1" height="1.1" fill="#35358a"/><rect x="327.07" y="526.58" width="1.1" height="1.1" fill="#35358a"/><rect x="327.01" y="525.11" width="1.1" height="1.1" fill="#35358a"/><rect x="330.02" y="522.3" width="1.1" height="1.1" fill="#35358a"/><rect x="323.01" y="527.4" width="1.1" height="1.1" fill="#35358a"/><rect x="328.72" y="530.81" width="1.1" height="1.1" fill="#35358a"/><rect x="314.14" y="525.58" width="1.1" height="1.1" fill="#35358a"/><rect x="316.88" y="522.87" width="1.1" height="1.1" fill="#35358a"/><rect x="318.72" y="530.8" width="1.1" height="1.1" fill="#35358a"/><rect x="327.62" y="524.24" width="1.1" height="1.1" fill="#35358a"/><rect x="321.61" y="528.91" width="1.1" height="1.1" fill="#35358a"/><rect x="322.14" y="524.79" width="1.1" height="1.1" fill="#35358a"/><rect x="322.88" y="531.72" width="1.1" height="1.1" fill="#35358a"/><rect x="327.55" y="524.92" width="1.1" height="1.1" fill="#35358a"/><rect x="325.42" y="530.5" width="1.1" height="1.1" fill="#35358a"/><rect x="322.49" y="524.99" width="1.1" height="1.1" fill="#35358a"/><rect x="323.82" y="529.34" width="1.1" height="1.1" fill="#35358a"/><rect x="318.74" y="524.69" width="1.1" height="1.1" fill="#35358a"/><rect x="328.18" y="529.91" width="1.1" height="1.1" fill="#35358a"/><rect x="323.14" y="530.3" width="1.1" height="1.1" fill="#35358a"/><rect x="328.11" y="526.73" width="1.1" height="1.1" fill="#35358a"/><rect x="325.71" y="529.64" width="1.1" height="1.1" fill="#35358a"/><rect x="319.72" y="529.3" width="1.1" height="1.1" fill="#35358a"/><rect x="322.9" y="523.93" width="1.1" height="1.1" fill="#35358a"/><rect x="321.84" y="531.18" width="1.1" height="1.1" fill="#35358a"/><rect x="321.08" y="527.4" width="1.1" height="1.1" fill="#35358a"/><rect x="320.25" y="528.74" width="1.1" height="1.1" fill="#35358a"/><rect x="327.06" y="524.28" width="1.1" height="1.1" fill="#35358a"/><rect x="322.51" y="530.48" width="1.1" height="1.1" fill="#35358a"/><rect x="323.2" y="525.72" width="1.1" height="1.1" fill="#35358a"/><rect x="328.43" y="528.67" width="1.1" height="1.1" fill="#35358a"/><rect x="328.4" y="528.87" width="1.1" height="1.1" fill="#35358a"/><rect x="324.4" y="528.58" width="1.1" height="1.1" fill="#35358a"/><rect x="322.5" y="529.92" width="1.1" height="1.1" fill="#35358a"/><rect x="323.73" y="531.89" width="1.1" height="1.1" fill="#35358a"/><rect x="324.11" y="526.49" width="1.1" height="1.1" fill="#35358a"/><rect x="324.83" y="524.68" width="1.1" height="1.1" fill="#35358a"/><rect x="319.63" y="526.24" width="1.1" height="1.1" fill="#35358a"/><rect x="325.22" y="525.28" width="1.1" height="1.1" fill="#35358a"/><rect x="327.26" y="529.06" width="1.1" height="1.1" fill="#35358a"/><rect x="331.41" y="531.47" width="1.1" height="1.1" fill="#35358a"/><rect x="319.83" y="527.86" width="1.1" height="1.1" fill="#35358a"/><rect x="321.48" y="526.13" width="1.1" height="1.1" fill="#35358a"/><rect x="321.39" y="526.89" width="1.1" height="1.1" fill="#35358a"/><rect x="324.16" y="530.14" width="1.1" height="1.1" fill="#35358a"/><rect x="322.45" y="526.06" width="1.1" height="1.1" fill="#35358a"/><rect x="317.96" y="526.58" width="1.1" height="1.1" fill="#35358a"/><rect x="322.19" y="528.56" width="1.1" height="1.1" fill="#35358a"/>
<rect x="325.76" y="527.79" width="1.1" height="1.1" fill="#b03a5a"/><rect x="329.37" y="524.61" width="1.1" height="1.1" fill="#b03a5a"/><rect x="328.71" y="526.99" width="1.1" height="1.1" fill="#b03a5a"/><rect x="326.06" y="525" width="1.1" height="1.1" fill="#b03a5a"/><rect x="326.37" y="526.16" width="1.1" height="1.1" fill="#b03a5a"/><rect x="324.92" y="525.24" width="1.1" height="1.1" fill="#b03a5a"/><rect x="328.85" y="527.43" width="1.1" height="1.1" fill="#b03a5a"/><rect x="327.11" y="527.53" width="1.1" height="1.1" fill="#b03a5a"/><rect x="325.88" y="527.64" width="1.1" height="1.1" fill="#b03a5a"/><rect x="327.13" y="526.29" width="1.1" height="1.1" fill="#b03a5a"/><rect x="326.77" y="524.17" width="1.1" height="1.1" fill="#b03a5a"/><rect x="326.07" y="525.65" width="1.1" height="1.1" fill="#b03a5a"/><rect x="324.28" y="526.69" width="1.1" height="1.1" fill="#b03a5a"/><rect x="328.68" y="528.45" width="1.1" height="1.1" fill="#b03a5a"/><rect x="324.3" y="524.86" width="1.1" height="1.1" fill="#b03a5a"/><rect x="324.98" y="528" width="1.1" height="1.1" fill="#b03a5a"/><rect x="323.42" y="527.15" width="1.1" height="1.1" fill="#b03a5a"/><rect x="329.47" y="526.02" width="1.1" height="1.1" fill="#b03a5a"/>
<rect x="337.23" y="501.05" width="1.1" height="1.1" fill="#34449c"/><rect x="332.72" y="504.22" width="1.1" height="1.1" fill="#34449c"/><rect x="329.97" y="512.34" width="1.1" height="1.1" fill="#34449c"/><rect x="334.95" y="510.69" width="1.1" height="1.1" fill="#34449c"/><rect x="338.2" y="502.33" width="1.1" height="1.1" fill="#34449c"/><rect x="336.73" y="500.88" width="1.1" height="1.1" fill="#34449c"/><rect x="336.37" y="505.72" width="1.1" height="1.1" fill="#34449c"/><rect x="328.8" y="500.69" width="1.1" height="1.1" fill="#34449c"/><rect x="330.57" y="500.42" width="1.1" height="1.1" fill="#34449c"/><rect x="329.56" y="504.52" width="1.1" height="1.1" fill="#34449c"/><rect x="338.81" y="510.75" width="1.1" height="1.1" fill="#34449c"/><rect x="332.99" y="503.24" width="1.1" height="1.1" fill="#34449c"/><rect x="338.97" y="512.68" width="1.1" height="1.1" fill="#34449c"/><rect x="337.19" y="506.84" width="1.1" height="1.1" fill="#34449c"/><rect x="332.47" y="502.88" width="1.1" height="1.1" fill="#34449c"/><rect x="332.47" y="513.05" width="1.1" height="1.1" fill="#34449c"/><rect x="334.17" y="506.03" width="1.1" height="1.1" fill="#34449c"/><rect x="331.26" y="506.49" width="1.1" height="1.1" fill="#34449c"/><rect x="329.08" y="510.38" width="1.1" height="1.1" fill="#34449c"/><rect x="334.01" y="503.93" width="1.1" height="1.1" fill="#34449c"/><rect x="330.02" y="506.69" width="1.1" height="1.1" fill="#34449c"/><rect x="337.17" y="502.37" width="1.1" height="1.1" fill="#34449c"/>
<rect x="336.93" y="526.87" width="1.1" height="1.1" fill="#34449c"/><rect x="333.38" y="523.47" width="1.1" height="1.1" fill="#34449c"/><rect x="331.63" y="528.03" width="1.1" height="1.1" fill="#34449c"/><rect x="330.81" y="528.07" width="1.1" height="1.1" fill="#34449c"/><rect x="329.09" y="531.26" width="1.1" height="1.1" fill="#34449c"/><rect x="331.99" y="528.02" width="1.1" height="1.1" fill="#34449c"/><rect x="333.75" y="528.27" width="1.1" height="1.1" fill="#34449c"/><rect x="332.6" y="532.13" width="1.1" height="1.1" fill="#34449c"/><rect x="331.82" y="525.22" width="1.1" height="1.1" fill="#34449c"/><rect x="329.08" y="525.46" width="1.1" height="1.1" fill="#34449c"/><rect x="334.64" y="528.47" width="1.1" height="1.1" fill="#34449c"/><rect x="330.64" y="524.58" width="1.1" height="1.1" fill="#34449c"/>
<rect x="324.71" y="511.1" width="1.1" height="1.1" fill="#34449c"/><rect x="323.15" y="512.12" width="1.1" height="1.1" fill="#34449c"/><rect x="326.78" y="513.15" width="1.1" height="1.1" fill="#34449c"/>
<rect x="312.5" y="490.5" width="52" height="51" fill="none" stroke="#333" stroke-width="1"/>
<line x1="329.5" y1="490.5" x2="329.5" y2="541.5" stroke="#333" stroke-width="1"/>
<line x1="312.5" y1="520.5" x2="329.5" y2="520.5" stroke="#333" stroke-width="1"/>
<line x1="311.5" y1="501.76" x2="312.8" y2="501.76" stroke="#333" stroke-width="0.7"/><line x1="311.5" y1="513.42" x2="312.8" y2="513.42" stroke="#333" stroke-width="0.7"/><line x1="311.5" y1="525.08" x2="312.8" y2="525.08" stroke="#333" stroke-width="0.7"/><line x1="311.5" y1="536.74" x2="312.8" y2="536.74" stroke="#333" stroke-width="0.7"/><line x1="324.6" y1="541.4" x2="324.6" y2="542.7" stroke="#333" stroke-width="0.7"/><line x1="336.39" y1="541.4" x2="336.39" y2="542.7" stroke="#333" stroke-width="0.7"/><line x1="348.19" y1="541.4" x2="348.19" y2="542.7" stroke="#333" stroke-width="0.7"/><line x1="359.98" y1="541.4" x2="359.98" y2="542.7" stroke="#333" stroke-width="0.7"/>
<text x="314.8" y="496.1" font-size="5.9" text-anchor="start" >Dead</text>
<text x="314.8" y="503.2" font-size="5.9" text-anchor="start" >3.81</text>
<text x="362.5" y="496.1" font-size="5.5" text-anchor="end">Annexin<tspan font-size="3.4" dy="-2.4">+</tspan></text>
<text x="361.3" y="503.5" font-size="5.9" text-anchor="end" >25.7</text>
<text x="314.8" y="527.17" font-size="5.9" text-anchor="start" >Live</text>
<text x="314.8" y="539.7" font-size="5.9" text-anchor="start" >70.5</text>
<rect x="382.05" y="527.03" width="1.1" height="1.1" fill="#35358a"/><rect x="387.34" y="523.33" width="1.1" height="1.1" fill="#35358a"/><rect x="385.84" y="524.78" width="1.1" height="1.1" fill="#35358a"/><rect x="386.83" y="526.57" width="1.1" height="1.1" fill="#35358a"/><rect x="386.16" y="523.68" width="1.1" height="1.1" fill="#35358a"/><rect x="387.69" y="532.11" width="1.1" height="1.1" fill="#35358a"/><rect x="384.56" y="526.19" width="1.1" height="1.1" fill="#35358a"/><rect x="385.18" y="523.53" width="1.1" height="1.1" fill="#35358a"/><rect x="384.64" y="526.94" width="1.1" height="1.1" fill="#35358a"/><rect x="380.97" y="521.85" width="1.1" height="1.1" fill="#35358a"/><rect x="387.14" y="526.02" width="1.1" height="1.1" fill="#35358a"/><rect x="384.23" y="525.83" width="1.1" height="1.1" fill="#35358a"/><rect x="383.02" y="526.76" width="1.1" height="1.1" fill="#35358a"/><rect x="383.37" y="526.78" width="1.1" height="1.1" fill="#35358a"/><rect x="382.3" y="527.47" width="1.1" height="1.1" fill="#35358a"/><rect x="384.44" y="531.69" width="1.1" height="1.1" fill="#35358a"/><rect x="388.54" y="525.67" width="1.1" height="1.1" fill="#35358a"/><rect x="386.05" y="523.89" width="1.1" height="1.1" fill="#35358a"/><rect x="385.15" y="525.26" width="1.1" height="1.1" fill="#35358a"/><rect x="384.73" y="528.97" width="1.1" height="1.1" fill="#35358a"/><rect x="381.63" y="526.87" width="1.1" height="1.1" fill="#35358a"/><rect x="389.5" y="524.83" width="1.1" height="1.1" fill="#35358a"/><rect x="383.65" y="528.92" width="1.1" height="1.1" fill="#35358a"/><rect x="383.68" y="523.39" width="1.1" height="1.1" fill="#35358a"/><rect x="387.91" y="527.77" width="1.1" height="1.1" fill="#35358a"/><rect x="389.45" y="527.17" width="1.1" height="1.1" fill="#35358a"/><rect x="386.84" y="526.8" width="1.1" height="1.1" fill="#35358a"/><rect x="379.01" y="524.55" width="1.1" height="1.1" fill="#35358a"/><rect x="384.74" y="527.69" width="1.1" height="1.1" fill="#35358a"/><rect x="381.73" y="525.46" width="1.1" height="1.1" fill="#35358a"/><rect x="381.91" y="523.06" width="1.1" height="1.1" fill="#35358a"/><rect x="382.18" y="529.17" width="1.1" height="1.1" fill="#35358a"/><rect x="386.7" y="526.38" width="1.1" height="1.1" fill="#35358a"/><rect x="388.61" y="528.05" width="1.1" height="1.1" fill="#35358a"/><rect x="387.8" y="530.64" width="1.1" height="1.1" fill="#35358a"/><rect x="388.21" y="524.82" width="1.1" height="1.1" fill="#35358a"/><rect x="382.82" y="524.04" width="1.1" height="1.1" fill="#35358a"/><rect x="385.71" y="527.02" width="1.1" height="1.1" fill="#35358a"/><rect x="389.19" y="528.45" width="1.1" height="1.1" fill="#35358a"/><rect x="386.67" y="525.61" width="1.1" height="1.1" fill="#35358a"/><rect x="386.04" y="529.56" width="1.1" height="1.1" fill="#35358a"/><rect x="385.83" y="523.58" width="1.1" height="1.1" fill="#35358a"/><rect x="386.58" y="527.16" width="1.1" height="1.1" fill="#35358a"/><rect x="391.07" y="530.87" width="1.1" height="1.1" fill="#35358a"/><rect x="385.99" y="526.96" width="1.1" height="1.1" fill="#35358a"/><rect x="388.32" y="520.75" width="1.1" height="1.1" fill="#35358a"/><rect x="387.16" y="526.58" width="1.1" height="1.1" fill="#35358a"/><rect x="386.63" y="526.26" width="1.1" height="1.1" fill="#35358a"/><rect x="386.18" y="527.01" width="1.1" height="1.1" fill="#35358a"/><rect x="391.99" y="528.58" width="1.1" height="1.1" fill="#35358a"/><rect x="380.37" y="527.57" width="1.1" height="1.1" fill="#35358a"/><rect x="383.2" y="529.56" width="1.1" height="1.1" fill="#35358a"/><rect x="385.94" y="525.35" width="1.1" height="1.1" fill="#35358a"/><rect x="385.24" y="526.97" width="1.1" height="1.1" fill="#35358a"/><rect x="385.57" y="525.9" width="1.1" height="1.1" fill="#35358a"/><rect x="383.04" y="526.09" width="1.1" height="1.1" fill="#35358a"/><rect x="385.74" y="525.64" width="1.1" height="1.1" fill="#35358a"/><rect x="381.72" y="529.48" width="1.1" height="1.1" fill="#35358a"/><rect x="383.33" y="525.49" width="1.1" height="1.1" fill="#35358a"/><rect x="387.23" y="531.46" width="1.1" height="1.1" fill="#35358a"/>
<rect x="387.53" y="525.82" width="1.1" height="1.1" fill="#b03a5a"/><rect x="386.91" y="526.76" width="1.1" height="1.1" fill="#b03a5a"/><rect x="388.34" y="525.87" width="1.1" height="1.1" fill="#b03a5a"/><rect x="388.04" y="525.25" width="1.1" height="1.1" fill="#b03a5a"/><rect x="386.97" y="526.47" width="1.1" height="1.1" fill="#b03a5a"/><rect x="390.59" y="524.63" width="1.1" height="1.1" fill="#b03a5a"/><rect x="386.69" y="526.46" width="1.1" height="1.1" fill="#b03a5a"/><rect x="384.33" y="526.92" width="1.1" height="1.1" fill="#b03a5a"/><rect x="388.48" y="526.4" width="1.1" height="1.1" fill="#b03a5a"/><rect x="389.28" y="527.72" width="1.1" height="1.1" fill="#b03a5a"/><rect x="388.67" y="526.99" width="1.1" height="1.1" fill="#b03a5a"/><rect x="389.4" y="523.92" width="1.1" height="1.1" fill="#b03a5a"/><rect x="383.23" y="527.57" width="1.1" height="1.1" fill="#b03a5a"/><rect x="391.51" y="525.53" width="1.1" height="1.1" fill="#b03a5a"/><rect x="387.41" y="526.62" width="1.1" height="1.1" fill="#b03a5a"/><rect x="387.4" y="525.01" width="1.1" height="1.1" fill="#b03a5a"/><rect x="389.03" y="525.77" width="1.1" height="1.1" fill="#b03a5a"/><rect x="388.13" y="524.34" width="1.1" height="1.1" fill="#b03a5a"/>
<rect x="401.56" y="512.64" width="1.1" height="1.1" fill="#34449c"/><rect x="398.19" y="508.28" width="1.1" height="1.1" fill="#34449c"/><rect x="399" y="507.59" width="1.1" height="1.1" fill="#34449c"/><rect x="398.38" y="513.21" width="1.1" height="1.1" fill="#34449c"/><rect x="395.37" y="510.93" width="1.1" height="1.1" fill="#34449c"/><rect x="394.23" y="512.39" width="1.1" height="1.1" fill="#34449c"/><rect x="397.97" y="503.21" width="1.1" height="1.1" fill="#34449c"/><rect x="394.56" y="508.47" width="1.1" height="1.1" fill="#34449c"/><rect x="393.73" y="510.69" width="1.1" height="1.1" fill="#34449c"/><rect x="395.59" y="513.82" width="1.1" height="1.1" fill="#34449c"/><rect x="398.18" y="503.36" width="1.1" height="1.1" fill="#34449c"/><rect x="401.99" y="507.67" width="1.1" height="1.1" fill="#34449c"/><rect x="396.25" y="511.85" width="1.1" height="1.1" fill="#34449c"/><rect x="393.94" y="506.33" width="1.1" height="1.1" fill="#34449c"/><rect x="402.17" y="505.14" width="1.1" height="1.1" fill="#34449c"/><rect x="401.58" y="508.01" width="1.1" height="1.1" fill="#34449c"/><rect x="395.02" y="502.6" width="1.1" height="1.1" fill="#34449c"/><rect x="388.78" y="505.75" width="1.1" height="1.1" fill="#34449c"/><rect x="396.11" y="508.16" width="1.1" height="1.1" fill="#34449c"/><rect x="395.51" y="510.52" width="1.1" height="1.1" fill="#34449c"/><rect x="391.28" y="510.92" width="1.1" height="1.1" fill="#34449c"/><rect x="391.8" y="503.29" width="1.1" height="1.1" fill="#34449c"/><rect x="399.65" y="504.4" width="1.1" height="1.1" fill="#34449c"/><rect x="393.28" y="507.17" width="1.1" height="1.1" fill="#34449c"/>
<rect x="394.84" y="525.16" width="1.1" height="1.1" fill="#34449c"/><rect x="391.19" y="524.62" width="1.1" height="1.1" fill="#34449c"/><rect x="395.6" y="529.68" width="1.1" height="1.1" fill="#34449c"/><rect x="394.72" y="524.35" width="1.1" height="1.1" fill="#34449c"/><rect x="395.31" y="530" width="1.1" height="1.1" fill="#34449c"/><rect x="391.56" y="526.23" width="1.1" height="1.1" fill="#34449c"/><rect x="398.29" y="529.52" width="1.1" height="1.1" fill="#34449c"/><rect x="392.53" y="525.03" width="1.1" height="1.1" fill="#34449c"/><rect x="395.73" y="527.71" width="1.1" height="1.1" fill="#34449c"/><rect x="393.55" y="524.82" width="1.1" height="1.1" fill="#34449c"/><rect x="397.83" y="524.15" width="1.1" height="1.1" fill="#34449c"/><rect x="395.14" y="525.58" width="1.1" height="1.1" fill="#34449c"/>
<rect x="381.44" y="512.64" width="1.1" height="1.1" fill="#34449c"/><rect x="384.03" y="514.17" width="1.1" height="1.1" fill="#34449c"/>
<rect x="374.5" y="490.5" width="52" height="51" fill="none" stroke="#333" stroke-width="1"/>
<line x1="390.5" y1="490.5" x2="390.5" y2="541.5" stroke="#333" stroke-width="1"/>
<line x1="374.5" y1="520.5" x2="390.5" y2="520.5" stroke="#333" stroke-width="1"/>
<line x1="372.9" y1="501.76" x2="374.2" y2="501.76" stroke="#333" stroke-width="0.7"/><line x1="372.9" y1="513.42" x2="374.2" y2="513.42" stroke="#333" stroke-width="0.7"/><line x1="372.9" y1="525.08" x2="374.2" y2="525.08" stroke="#333" stroke-width="0.7"/><line x1="372.9" y1="536.74" x2="374.2" y2="536.74" stroke="#333" stroke-width="0.7"/><line x1="386" y1="541.4" x2="386" y2="542.7" stroke="#333" stroke-width="0.7"/><line x1="397.79" y1="541.4" x2="397.79" y2="542.7" stroke="#333" stroke-width="0.7"/><line x1="409.59" y1="541.4" x2="409.59" y2="542.7" stroke="#333" stroke-width="0.7"/><line x1="421.38" y1="541.4" x2="421.38" y2="542.7" stroke="#333" stroke-width="0.7"/>
<text x="376.2" y="496.1" font-size="5.9" text-anchor="start" >Dead</text>
<text x="376.2" y="503.2" font-size="5.9" text-anchor="start" >2.41</text>
<text x="423.9" y="496.1" font-size="5.5" text-anchor="end">Annexin<tspan font-size="3.4" dy="-2.4">+</tspan></text>
<text x="422.7" y="503.5" font-size="5.9" text-anchor="end" >22.1</text>
<text x="376.2" y="527.17" font-size="5.9" text-anchor="start" >Live</text>
<text x="376.2" y="539.7" font-size="5.9" text-anchor="start" >75.5</text>
<rect x="446.89" y="526.98" width="1.1" height="1.1" fill="#35358a"/><rect x="444.72" y="525.98" width="1.1" height="1.1" fill="#35358a"/><rect x="443.84" y="527.22" width="1.1" height="1.1" fill="#35358a"/><rect x="443.12" y="530.2" width="1.1" height="1.1" fill="#35358a"/><rect x="447.22" y="526.7" width="1.1" height="1.1" fill="#35358a"/><rect x="446.78" y="524.47" width="1.1" height="1.1" fill="#35358a"/><rect x="442.42" y="528.58" width="1.1" height="1.1" fill="#35358a"/><rect x="446.59" y="524.1" width="1.1" height="1.1" fill="#35358a"/><rect x="441.56" y="528.45" width="1.1" height="1.1" fill="#35358a"/><rect x="446.8" y="525.13" width="1.1" height="1.1" fill="#35358a"/><rect x="447.63" y="529.76" width="1.1" height="1.1" fill="#35358a"/><rect x="446.14" y="530.5" width="1.1" height="1.1" fill="#35358a"/><rect x="447.5" y="527.39" width="1.1" height="1.1" fill="#35358a"/><rect x="446.35" y="524.72" width="1.1" height="1.1" fill="#35358a"/><rect x="445.58" y="531.85" width="1.1" height="1.1" fill="#35358a"/><rect x="445.13" y="529.39" width="1.1" height="1.1" fill="#35358a"/><rect x="444.16" y="524.93" width="1.1" height="1.1" fill="#35358a"/><rect x="446.85" y="525.38" width="1.1" height="1.1" fill="#35358a"/><rect x="442" y="526.11" width="1.1" height="1.1" fill="#35358a"/><rect x="447.18" y="526.34" width="1.1" height="1.1" fill="#35358a"/><rect x="444.69" y="528.5" width="1.1" height="1.1" fill="#35358a"/><rect x="447.69" y="528.46" width="1.1" height="1.1" fill="#35358a"/><rect x="446.14" y="525.51" width="1.1" height="1.1" fill="#35358a"/><rect x="444.08" y="532.34" width="1.1" height="1.1" fill="#35358a"/><rect x="449.85" y="522.95" width="1.1" height="1.1" fill="#35358a"/><rect x="446.83" y="529.1" width="1.1" height="1.1" fill="#35358a"/><rect x="448.69" y="529.28" width="1.1" height="1.1" fill="#35358a"/><rect x="447.71" y="523.19" width="1.1" height="1.1" fill="#35358a"/><rect x="443.2" y="524.32" width="1.1" height="1.1" fill="#35358a"/><rect x="445.23" y="527.18" width="1.1" height="1.1" fill="#35358a"/><rect x="447.63" y="528.49" width="1.1" height="1.1" fill="#35358a"/><rect x="448.71" y="530.93" width="1.1" height="1.1" fill="#35358a"/><rect x="443.09" y="526.96" width="1.1" height="1.1" fill="#35358a"/><rect x="442.47" y="529.19" width="1.1" height="1.1" fill="#35358a"/><rect x="443.01" y="525.79" width="1.1" height="1.1" fill="#35358a"/><rect x="444" y="530.18" width="1.1" height="1.1" fill="#35358a"/><rect x="452.42" y="528.24" width="1.1" height="1.1" fill="#35358a"/><rect x="444.98" y="528.86" width="1.1" height="1.1" fill="#35358a"/><rect x="446.28" y="526.52" width="1.1" height="1.1" fill="#35358a"/><rect x="446.42" y="529.7" width="1.1" height="1.1" fill="#35358a"/><rect x="448.93" y="528.51" width="1.1" height="1.1" fill="#35358a"/><rect x="444.15" y="529.86" width="1.1" height="1.1" fill="#35358a"/><rect x="443.7" y="523.85" width="1.1" height="1.1" fill="#35358a"/><rect x="445.85" y="529.37" width="1.1" height="1.1" fill="#35358a"/>
<rect x="450.24" y="526.95" width="1.1" height="1.1" fill="#e0b030"/><rect x="449.86" y="526.42" width="1.1" height="1.1" fill="#e0b030"/><rect x="449.26" y="527.64" width="1.1" height="1.1" fill="#e0b030"/><rect x="450.14" y="530.68" width="1.1" height="1.1" fill="#e0b030"/><rect x="450.59" y="528.37" width="1.1" height="1.1" fill="#e0b030"/><rect x="446.81" y="528.78" width="1.1" height="1.1" fill="#e0b030"/><rect x="447.78" y="526.53" width="1.1" height="1.1" fill="#e0b030"/><rect x="448.91" y="527.93" width="1.1" height="1.1" fill="#e0b030"/><rect x="447.76" y="527.96" width="1.1" height="1.1" fill="#e0b030"/><rect x="448.27" y="527.52" width="1.1" height="1.1" fill="#e0b030"/><rect x="449.13" y="529.29" width="1.1" height="1.1" fill="#e0b030"/><rect x="450.58" y="527.75" width="1.1" height="1.1" fill="#e0b030"/><rect x="449.86" y="530.49" width="1.1" height="1.1" fill="#e0b030"/><rect x="450.24" y="527.57" width="1.1" height="1.1" fill="#e0b030"/><rect x="448.98" y="528.96" width="1.1" height="1.1" fill="#e0b030"/><rect x="449.06" y="530.39" width="1.1" height="1.1" fill="#e0b030"/>
<rect x="447.06" y="528.94" width="1.1" height="1.1" fill="#e07030"/><rect x="448.67" y="527.05" width="1.1" height="1.1" fill="#e07030"/><rect x="448.4" y="527.05" width="1.1" height="1.1" fill="#e07030"/><rect x="449.43" y="528.16" width="1.1" height="1.1" fill="#e07030"/><rect x="446.63" y="525.54" width="1.1" height="1.1" fill="#e07030"/><rect x="447.59" y="527.44" width="1.1" height="1.1" fill="#e07030"/><rect x="449.84" y="527.43" width="1.1" height="1.1" fill="#e07030"/><rect x="448.32" y="528.52" width="1.1" height="1.1" fill="#e07030"/>
<rect x="465.32" y="506.63" width="1.1" height="1.1" fill="#34449c"/><rect x="462.48" y="510.66" width="1.1" height="1.1" fill="#34449c"/><rect x="459.65" y="524.66" width="1.1" height="1.1" fill="#34449c"/><rect x="457.42" y="525.95" width="1.1" height="1.1" fill="#34449c"/><rect x="461.2" y="517.07" width="1.1" height="1.1" fill="#34449c"/><rect x="460.3" y="529.38" width="1.1" height="1.1" fill="#34449c"/><rect x="455.91" y="507.16" width="1.1" height="1.1" fill="#34449c"/><rect x="457.16" y="518.01" width="1.1" height="1.1" fill="#34449c"/><rect x="462.54" y="512.91" width="1.1" height="1.1" fill="#34449c"/><rect x="462.59" y="529.55" width="1.1" height="1.1" fill="#34449c"/><rect x="463.99" y="517.76" width="1.1" height="1.1" fill="#34449c"/><rect x="456.7" y="516.35" width="1.1" height="1.1" fill="#34449c"/><rect x="467.2" y="514.99" width="1.1" height="1.1" fill="#34449c"/><rect x="460.09" y="522.56" width="1.1" height="1.1" fill="#34449c"/><rect x="456.9" y="514.69" width="1.1" height="1.1" fill="#34449c"/><rect x="460.17" y="526.48" width="1.1" height="1.1" fill="#34449c"/><rect x="462.33" y="513" width="1.1" height="1.1" fill="#34449c"/><rect x="468.24" y="525.81" width="1.1" height="1.1" fill="#34449c"/><rect x="461.11" y="512.55" width="1.1" height="1.1" fill="#34449c"/><rect x="457.12" y="513.36" width="1.1" height="1.1" fill="#34449c"/><rect x="454.87" y="516.98" width="1.1" height="1.1" fill="#34449c"/><rect x="461.88" y="520.05" width="1.1" height="1.1" fill="#34449c"/><rect x="460.32" y="530.93" width="1.1" height="1.1" fill="#34449c"/><rect x="456.42" y="514.35" width="1.1" height="1.1" fill="#34449c"/><rect x="453.25" y="525.91" width="1.1" height="1.1" fill="#34449c"/><rect x="455.95" y="512.31" width="1.1" height="1.1" fill="#34449c"/><rect x="457.32" y="525.77" width="1.1" height="1.1" fill="#34449c"/><rect x="458.1" y="529.17" width="1.1" height="1.1" fill="#34449c"/><rect x="453.16" y="521.77" width="1.1" height="1.1" fill="#34449c"/><rect x="465.91" y="518.45" width="1.1" height="1.1" fill="#34449c"/><rect x="463.48" y="531.03" width="1.1" height="1.1" fill="#34449c"/><rect x="461.46" y="511.46" width="1.1" height="1.1" fill="#34449c"/><rect x="465.9" y="511.72" width="1.1" height="1.1" fill="#34449c"/><rect x="460.67" y="526.89" width="1.1" height="1.1" fill="#34449c"/><rect x="460.05" y="521.13" width="1.1" height="1.1" fill="#34449c"/>
<rect x="438.5" y="490.5" width="52" height="51" fill="none" stroke="#333" stroke-width="1"/>
<line x1="454.5" y1="490.5" x2="454.5" y2="541.5" stroke="#333" stroke-width="1"/>
<line x1="438.5" y1="520.5" x2="454.5" y2="520.5" stroke="#333" stroke-width="1"/>
<line x1="436.8" y1="501.76" x2="438.1" y2="501.76" stroke="#333" stroke-width="0.7"/><line x1="436.8" y1="513.42" x2="438.1" y2="513.42" stroke="#333" stroke-width="0.7"/><line x1="436.8" y1="525.08" x2="438.1" y2="525.08" stroke="#333" stroke-width="0.7"/><line x1="436.8" y1="536.74" x2="438.1" y2="536.74" stroke="#333" stroke-width="0.7"/><line x1="449.9" y1="541.4" x2="449.9" y2="542.7" stroke="#333" stroke-width="0.7"/><line x1="461.69" y1="541.4" x2="461.69" y2="542.7" stroke="#333" stroke-width="0.7"/><line x1="473.49" y1="541.4" x2="473.49" y2="542.7" stroke="#333" stroke-width="0.7"/><line x1="485.28" y1="541.4" x2="485.28" y2="542.7" stroke="#333" stroke-width="0.7"/>
<text x="440.1" y="496.1" font-size="5.9" text-anchor="start" >Dead</text>
<text x="440.1" y="503.2" font-size="5.9" text-anchor="start" >2.67</text>
<text x="487.8" y="496.1" font-size="5.5" text-anchor="end">Annexin<tspan font-size="3.4" dy="-2.4">+</tspan></text>
<text x="486.6" y="503.5" font-size="5.9" text-anchor="end" >15.2</text>
<text x="440.1" y="527.17" font-size="5.9" text-anchor="start" >Live</text>
<text x="440.1" y="539.7" font-size="5.9" text-anchor="start" >82.1</text>
<rect x="319.17" y="595.6" width="1.1" height="1.1" fill="#34449c"/><rect x="318.56" y="594.63" width="1.1" height="1.1" fill="#34449c"/><rect x="323.1" y="595.16" width="1.1" height="1.1" fill="#34449c"/><rect x="320.64" y="594.43" width="1.1" height="1.1" fill="#34449c"/>
<rect x="332.53" y="593.2" width="1.1" height="1.1" fill="#34449c"/><rect x="337.45" y="594.81" width="1.1" height="1.1" fill="#34449c"/><rect x="336.05" y="593.31" width="1.1" height="1.1" fill="#34449c"/><rect x="332.5" y="594.25" width="1.1" height="1.1" fill="#34449c"/><rect x="334.58" y="594.57" width="1.1" height="1.1" fill="#34449c"/><rect x="337.82" y="594.8" width="1.1" height="1.1" fill="#34449c"/>
<rect x="335.09" y="587.46" width="1.1" height="1.1" fill="#34449c"/><rect x="339.24" y="576.17" width="1.1" height="1.1" fill="#34449c"/><rect x="325.74" y="574.63" width="1.1" height="1.1" fill="#34449c"/>
<rect x="312.5" y="556.5" width="52" height="51" fill="none" stroke="#333" stroke-width="1"/>
<line x1="329.5" y1="556.5" x2="329.5" y2="607.5" stroke="#333" stroke-width="1"/>
<line x1="312.5" y1="586.5" x2="329.5" y2="586.5" stroke="#333" stroke-width="1"/>
<line x1="311.5" y1="567.86" x2="312.8" y2="567.86" stroke="#333" stroke-width="0.7"/><line x1="311.5" y1="579.52" x2="312.8" y2="579.52" stroke="#333" stroke-width="0.7"/><line x1="311.5" y1="591.18" x2="312.8" y2="591.18" stroke="#333" stroke-width="0.7"/><line x1="311.5" y1="602.84" x2="312.8" y2="602.84" stroke="#333" stroke-width="0.7"/><line x1="324.6" y1="607.5" x2="324.6" y2="608.8" stroke="#333" stroke-width="0.7"/><line x1="336.39" y1="607.5" x2="336.39" y2="608.8" stroke="#333" stroke-width="0.7"/><line x1="348.19" y1="607.5" x2="348.19" y2="608.8" stroke="#333" stroke-width="0.7"/><line x1="359.98" y1="607.5" x2="359.98" y2="608.8" stroke="#333" stroke-width="0.7"/>
<text x="314.8" y="562.2" font-size="5.9" text-anchor="start" >Dead</text>
<text x="314.8" y="569.3" font-size="5.9" text-anchor="start" >3.70</text>
<text x="362.5" y="562.2" font-size="5.5" text-anchor="end">Annexin<tspan font-size="3.4" dy="-2.4">+</tspan></text>
<text x="361.3" y="569.6" font-size="5.9" text-anchor="end" >33.3</text>
<text x="314.8" y="593.27" font-size="5.9" text-anchor="start" >Live</text>
<text x="314.8" y="605.8" font-size="5.9" text-anchor="start" >63.0</text>
<rect x="384.46" y="594.25" width="1.1" height="1.1" fill="#35358a"/><rect x="382.68" y="592.9" width="1.1" height="1.1" fill="#35358a"/><rect x="385.9" y="592.71" width="1.1" height="1.1" fill="#35358a"/><rect x="384.12" y="593.5" width="1.1" height="1.1" fill="#35358a"/><rect x="387.17" y="592.66" width="1.1" height="1.1" fill="#35358a"/><rect x="384.94" y="591.65" width="1.1" height="1.1" fill="#35358a"/><rect x="383.79" y="592.64" width="1.1" height="1.1" fill="#35358a"/><rect x="386.47" y="592.45" width="1.1" height="1.1" fill="#35358a"/><rect x="382.93" y="591.83" width="1.1" height="1.1" fill="#35358a"/><rect x="383.96" y="591.99" width="1.1" height="1.1" fill="#35358a"/><rect x="388.04" y="593.9" width="1.1" height="1.1" fill="#35358a"/><rect x="381.56" y="592.67" width="1.1" height="1.1" fill="#35358a"/><rect x="383.72" y="593.31" width="1.1" height="1.1" fill="#35358a"/><rect x="386.89" y="594.26" width="1.1" height="1.1" fill="#35358a"/><rect x="380.47" y="593.14" width="1.1" height="1.1" fill="#35358a"/><rect x="384" y="593.74" width="1.1" height="1.1" fill="#35358a"/><rect x="383.14" y="594.06" width="1.1" height="1.1" fill="#35358a"/><rect x="382.73" y="592.71" width="1.1" height="1.1" fill="#35358a"/><rect x="385.72" y="592.46" width="1.1" height="1.1" fill="#35358a"/><rect x="381.33" y="595.16" width="1.1" height="1.1" fill="#35358a"/><rect x="382.35" y="591.61" width="1.1" height="1.1" fill="#35358a"/><rect x="385.19" y="593.87" width="1.1" height="1.1" fill="#35358a"/><rect x="382.29" y="593.27" width="1.1" height="1.1" fill="#35358a"/><rect x="379.59" y="592.76" width="1.1" height="1.1" fill="#35358a"/><rect x="381.99" y="594.07" width="1.1" height="1.1" fill="#35358a"/><rect x="384.11" y="592.64" width="1.1" height="1.1" fill="#35358a"/><rect x="386.44" y="593.6" width="1.1" height="1.1" fill="#35358a"/><rect x="388.92" y="594.15" width="1.1" height="1.1" fill="#35358a"/><rect x="385.41" y="593.73" width="1.1" height="1.1" fill="#35358a"/><rect x="381.53" y="592.61" width="1.1" height="1.1" fill="#35358a"/><rect x="382.86" y="593.08" width="1.1" height="1.1" fill="#35358a"/><rect x="382.77" y="593.22" width="1.1" height="1.1" fill="#35358a"/><rect x="387.22" y="591.11" width="1.1" height="1.1" fill="#35358a"/><rect x="382.59" y="592.91" width="1.1" height="1.1" fill="#35358a"/><rect x="381.97" y="593.01" width="1.1" height="1.1" fill="#35358a"/><rect x="382.84" y="593.37" width="1.1" height="1.1" fill="#35358a"/>
<rect x="391.09" y="581.1" width="1.1" height="1.1" fill="#34449c"/><rect x="394.06" y="589.1" width="1.1" height="1.1" fill="#34449c"/><rect x="391.39" y="590.43" width="1.1" height="1.1" fill="#34449c"/><rect x="398.49" y="581" width="1.1" height="1.1" fill="#34449c"/><rect x="401.05" y="571.28" width="1.1" height="1.1" fill="#34449c"/><rect x="395.66" y="590.92" width="1.1" height="1.1" fill="#34449c"/><rect x="397.53" y="576.01" width="1.1" height="1.1" fill="#34449c"/><rect x="395.63" y="569.69" width="1.1" height="1.1" fill="#34449c"/><rect x="393.23" y="589.88" width="1.1" height="1.1" fill="#34449c"/><rect x="394.17" y="580.15" width="1.1" height="1.1" fill="#34449c"/><rect x="399.96" y="588.03" width="1.1" height="1.1" fill="#34449c"/><rect x="397.04" y="575.09" width="1.1" height="1.1" fill="#34449c"/><rect x="398.44" y="583.09" width="1.1" height="1.1" fill="#34449c"/><rect x="394.61" y="590.54" width="1.1" height="1.1" fill="#34449c"/>
<rect x="394" y="593.79" width="1.1" height="1.1" fill="#34449c"/><rect x="396.6" y="594.2" width="1.1" height="1.1" fill="#34449c"/><rect x="396.36" y="594.85" width="1.1" height="1.1" fill="#34449c"/><rect x="397.41" y="593.17" width="1.1" height="1.1" fill="#34449c"/><rect x="395.02" y="595.36" width="1.1" height="1.1" fill="#34449c"/><rect x="395.59" y="593.02" width="1.1" height="1.1" fill="#34449c"/>
<rect x="374.5" y="556.5" width="52" height="51" fill="none" stroke="#333" stroke-width="1"/>
<line x1="390.5" y1="556.5" x2="390.5" y2="607.5" stroke="#333" stroke-width="1"/>
<line x1="374.5" y1="586.5" x2="390.5" y2="586.5" stroke="#333" stroke-width="1"/>
<line x1="372.9" y1="567.86" x2="374.2" y2="567.86" stroke="#333" stroke-width="0.7"/><line x1="372.9" y1="579.52" x2="374.2" y2="579.52" stroke="#333" stroke-width="0.7"/><line x1="372.9" y1="591.18" x2="374.2" y2="591.18" stroke="#333" stroke-width="0.7"/><line x1="372.9" y1="602.84" x2="374.2" y2="602.84" stroke="#333" stroke-width="0.7"/><line x1="386" y1="607.5" x2="386" y2="608.8" stroke="#333" stroke-width="0.7"/><line x1="397.79" y1="607.5" x2="397.79" y2="608.8" stroke="#333" stroke-width="0.7"/><line x1="409.59" y1="607.5" x2="409.59" y2="608.8" stroke="#333" stroke-width="0.7"/><line x1="421.38" y1="607.5" x2="421.38" y2="608.8" stroke="#333" stroke-width="0.7"/>
<text x="376.2" y="562.2" font-size="5.9" text-anchor="start" >Dead</text>
<text x="376.2" y="569.3" font-size="5.9" text-anchor="start" >2.33</text>
<text x="423.9" y="562.2" font-size="5.5" text-anchor="end">Annexin<tspan font-size="3.4" dy="-2.4">+</tspan></text>
<text x="422.7" y="569.6" font-size="5.9" text-anchor="end" >26.7</text>
<text x="376.2" y="593.27" font-size="5.9" text-anchor="start" >Live</text>
<text x="376.2" y="605.8" font-size="5.9" text-anchor="start" >70.9</text>
<rect x="459.44" y="578.61" width="1.1" height="1.1" fill="#34449c"/><rect x="457.3" y="582.26" width="1.1" height="1.1" fill="#34449c"/><rect x="457.82" y="571.96" width="1.1" height="1.1" fill="#34449c"/><rect x="458.58" y="575.62" width="1.1" height="1.1" fill="#34449c"/><rect x="457.42" y="578.45" width="1.1" height="1.1" fill="#34449c"/><rect x="460.04" y="581.46" width="1.1" height="1.1" fill="#34449c"/><rect x="461.52" y="577.84" width="1.1" height="1.1" fill="#34449c"/><rect x="459.47" y="579.47" width="1.1" height="1.1" fill="#34449c"/>
<rect x="454.68" y="593.61" width="1.1" height="1.1" fill="#34449c"/><rect x="464.54" y="592.59" width="1.1" height="1.1" fill="#34449c"/><rect x="448.45" y="594.64" width="1.1" height="1.1" fill="#34449c"/><rect x="448.97" y="597.72" width="1.1" height="1.1" fill="#34449c"/>
<rect x="438.5" y="556.5" width="52" height="51" fill="none" stroke="#333" stroke-width="1"/>
<line x1="454.5" y1="556.5" x2="454.5" y2="607.5" stroke="#333" stroke-width="1"/>
<line x1="438.5" y1="586.5" x2="454.5" y2="586.5" stroke="#333" stroke-width="1"/>
<line x1="436.8" y1="567.86" x2="438.1" y2="567.86" stroke="#333" stroke-width="0.7"/><line x1="436.8" y1="579.52" x2="438.1" y2="579.52" stroke="#333" stroke-width="0.7"/><line x1="436.8" y1="591.18" x2="438.1" y2="591.18" stroke="#333" stroke-width="0.7"/><line x1="436.8" y1="602.84" x2="438.1" y2="602.84" stroke="#333" stroke-width="0.7"/><line x1="449.9" y1="607.5" x2="449.9" y2="608.8" stroke="#333" stroke-width="0.7"/><line x1="461.69" y1="607.5" x2="461.69" y2="608.8" stroke="#333" stroke-width="0.7"/><line x1="473.49" y1="607.5" x2="473.49" y2="608.8" stroke="#333" stroke-width="0.7"/><line x1="485.28" y1="607.5" x2="485.28" y2="608.8" stroke="#333" stroke-width="0.7"/>
<text x="440.1" y="562.2" font-size="5.9" text-anchor="start" >Dead</text>
<text x="440.1" y="569.3" font-size="5.9" text-anchor="start" >5.56</text>
<text x="487.8" y="562.2" font-size="5.5" text-anchor="end">Annexin<tspan font-size="3.4" dy="-2.4">+</tspan></text>
<text x="486.6" y="569.6" font-size="5.9" text-anchor="end" >66.7</text>
<text x="440.1" y="593.27" font-size="5.9" text-anchor="start" >Live</text>
<text x="440.1" y="605.8" font-size="5.9" text-anchor="start" >27.8</text>
<text transform="translate(287.4,346) rotate(-90) scale(1.0,1)" x="0" y="3.2" font-size="8.9" text-anchor="middle">WT</text>
<line x1="297.5" y1="321.7" x2="297.5" y2="371" stroke="#333" stroke-width="1.0"/>
<text transform="translate(288,411) rotate(-90) scale(1.0,1)" x="0" y="3.2" font-size="8.9" text-anchor="middle">CH</text>
<line x1="297.5" y1="387.5" x2="297.5" y2="437" stroke="#333" stroke-width="1.0"/>
<text transform="translate(287.4,516.1) rotate(-90) scale(1.0,1)" x="0" y="3.2" font-size="8.9" text-anchor="middle">WT</text>
<line x1="297.5" y1="491.1" x2="297.5" y2="540.9" stroke="#333" stroke-width="1.0"/>
<text transform="translate(288,581) rotate(-90) scale(1.0,1)" x="0" y="3.2" font-size="8.9" text-anchor="middle">CH</text>
<line x1="297.5" y1="556" x2="297.5" y2="606" stroke="#333" stroke-width="1.0"/>
<text transform="translate(303.9,326.8) rotate(-90) scale(0.6,1)" x="0" y="2.88" font-size="8.0" text-anchor="middle" font-weight="bold">DAPI</text>
<line x1="304.5" y1="336" x2="304.5" y2="436.5" stroke="#333" stroke-width="1.0"/>
<text transform="translate(303.9,496) rotate(-90) scale(0.6,1)" x="0" y="2.88" font-size="8.0" text-anchor="middle" font-weight="bold">DAPI</text>
<line x1="304.5" y1="505" x2="304.5" y2="607.5" stroke="#333" stroke-width="1.0"/>
<line x1="316" y1="449.5" x2="461.5" y2="449.5" stroke="#333" stroke-width="1.1"/>
<text transform="translate(477.7,449.4) scale(0.645,1)" x="0" y="2.81" font-size="7.8" text-anchor="middle" font-weight="bold">Annexin V</text>
<line x1="313.8" y1="619.5" x2="461.5" y2="619.5" stroke="#333" stroke-width="1.1"/>
<text transform="translate(477.7,619.5) scale(0.645,1)" x="0" y="2.81" font-size="7.8" text-anchor="middle" font-weight="bold">Annexin V</text>
<rect x="0.5" y="0.5" width="519" height="629" fill="none" stroke="#5e5e5e" stroke-width="1"/>
</svg>
</body></html>
